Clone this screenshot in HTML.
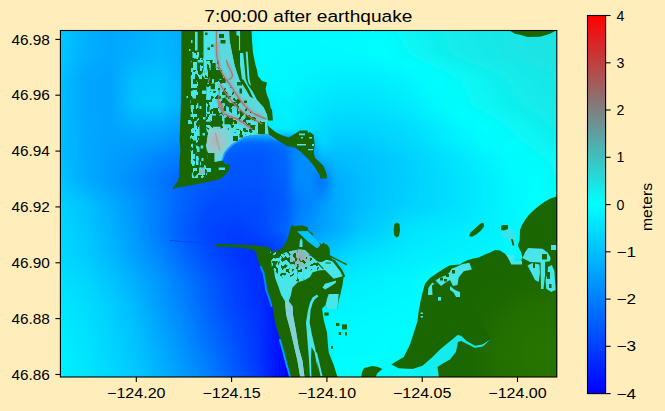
<!DOCTYPE html>
<html><head><meta charset="utf-8"><title>7:00:00 after earthquake</title>
<style>html,body{margin:0;padding:0;background:#ffeebb;overflow:hidden}svg{display:block}text{font-family:"Liberation Sans",sans-serif;fill:#000}</style></head><body>
<svg width="665" height="411" viewBox="0 0 665 411">
<rect width="665" height="411" fill="#ffeebb"/>
<defs>
<clipPath id="ax"><rect x="60.4" y="30.5" width="496.4" height="346.5"/></clipPath>
<filter id="bl" x="-5%" y="-5%" width="110%" height="110%"><feGaussianBlur stdDeviation="2.2"/></filter>
<filter id="bs" x="-5%" y="-5%" width="110%" height="110%"><feGaussianBlur stdDeviation="0.6"/></filter>
<linearGradient id="cb" x1="0" y1="0" x2="0" y2="1"><stop offset="0" stop-color="#ff0000"/><stop offset="0.5" stop-color="#00ffff"/><stop offset="1" stop-color="#0000ff"/></linearGradient>
<linearGradient id="w0" gradientUnits="userSpaceOnUse" x1="35" y1="0" x2="585" y2="0"><stop offset="0.0000" stop-color="#00c9ff"/><stop offset="0.0455" stop-color="#00c9ff"/><stop offset="0.0909" stop-color="#00b2ff"/><stop offset="0.1364" stop-color="#00a6ff"/><stop offset="0.1818" stop-color="#00acff"/><stop offset="0.2273" stop-color="#00b6ff"/><stop offset="0.2727" stop-color="#00acff"/><stop offset="0.3182" stop-color="#00ccff"/><stop offset="0.3636" stop-color="#00ecff"/><stop offset="0.4091" stop-color="#00faff"/><stop offset="0.4309" stop-color="#00faff"/><stop offset="0.4545" stop-color="#00faff"/><stop offset="0.4764" stop-color="#00faff"/><stop offset="0.4818" stop-color="#00faff"/><stop offset="0.5000" stop-color="#00faff"/><stop offset="0.5218" stop-color="#00fbff"/><stop offset="0.5455" stop-color="#00fbff"/><stop offset="0.5909" stop-color="#00fdff"/><stop offset="0.6364" stop-color="#03fcfc"/><stop offset="0.6818" stop-color="#0bf4f4"/><stop offset="0.7273" stop-color="#11eeee"/><stop offset="0.7727" stop-color="#15eaea"/><stop offset="0.8182" stop-color="#18e7e7"/><stop offset="0.8636" stop-color="#1ae5e5"/><stop offset="0.9091" stop-color="#1be4e4"/><stop offset="0.9545" stop-color="#1be4e4"/><stop offset="1.0000" stop-color="#1be4e4"/></linearGradient>
<linearGradient id="w1" gradientUnits="userSpaceOnUse" x1="35" y1="0" x2="585" y2="0"><stop offset="0.0000" stop-color="#00c9ff"/><stop offset="0.0455" stop-color="#00c9ff"/><stop offset="0.0909" stop-color="#00b2ff"/><stop offset="0.1364" stop-color="#00a6ff"/><stop offset="0.1818" stop-color="#00acff"/><stop offset="0.2273" stop-color="#00b6ff"/><stop offset="0.2727" stop-color="#00acff"/><stop offset="0.3182" stop-color="#00ccff"/><stop offset="0.3636" stop-color="#00ecff"/><stop offset="0.4091" stop-color="#00faff"/><stop offset="0.4309" stop-color="#00faff"/><stop offset="0.4545" stop-color="#00faff"/><stop offset="0.4764" stop-color="#00faff"/><stop offset="0.4818" stop-color="#00faff"/><stop offset="0.5000" stop-color="#00faff"/><stop offset="0.5218" stop-color="#00fbff"/><stop offset="0.5455" stop-color="#00fbff"/><stop offset="0.5909" stop-color="#00fdff"/><stop offset="0.6364" stop-color="#03fcfc"/><stop offset="0.6818" stop-color="#0bf4f4"/><stop offset="0.7273" stop-color="#11eeee"/><stop offset="0.7727" stop-color="#15eaea"/><stop offset="0.8182" stop-color="#18e7e7"/><stop offset="0.8636" stop-color="#1ae5e5"/><stop offset="0.9091" stop-color="#1be4e4"/><stop offset="0.9545" stop-color="#1be4e4"/><stop offset="1.0000" stop-color="#1be4e4"/></linearGradient>
<linearGradient id="w2" gradientUnits="userSpaceOnUse" x1="35" y1="0" x2="585" y2="0"><stop offset="0.0000" stop-color="#00c9ff"/><stop offset="0.0455" stop-color="#00c9ff"/><stop offset="0.0909" stop-color="#00b2ff"/><stop offset="0.1364" stop-color="#00a6ff"/><stop offset="0.1818" stop-color="#00acff"/><stop offset="0.2273" stop-color="#00b6ff"/><stop offset="0.2727" stop-color="#00acff"/><stop offset="0.3182" stop-color="#00ccff"/><stop offset="0.3636" stop-color="#00ecff"/><stop offset="0.4091" stop-color="#00faff"/><stop offset="0.4309" stop-color="#00faff"/><stop offset="0.4545" stop-color="#00faff"/><stop offset="0.4764" stop-color="#00faff"/><stop offset="0.4818" stop-color="#00faff"/><stop offset="0.5000" stop-color="#00faff"/><stop offset="0.5218" stop-color="#00fbff"/><stop offset="0.5455" stop-color="#00fbff"/><stop offset="0.5909" stop-color="#00fdff"/><stop offset="0.6364" stop-color="#03fcfc"/><stop offset="0.6818" stop-color="#0bf4f4"/><stop offset="0.7273" stop-color="#11eeee"/><stop offset="0.7727" stop-color="#15eaea"/><stop offset="0.8182" stop-color="#18e7e7"/><stop offset="0.8636" stop-color="#1ae5e5"/><stop offset="0.9091" stop-color="#1be4e4"/><stop offset="0.9545" stop-color="#1be4e4"/><stop offset="1.0000" stop-color="#1be4e4"/></linearGradient>
<linearGradient id="w3" gradientUnits="userSpaceOnUse" x1="35" y1="0" x2="585" y2="0"><stop offset="0.0000" stop-color="#00c9ff"/><stop offset="0.0455" stop-color="#00c9ff"/><stop offset="0.0909" stop-color="#00b2ff"/><stop offset="0.1364" stop-color="#00a6ff"/><stop offset="0.1818" stop-color="#00acff"/><stop offset="0.2273" stop-color="#00b6ff"/><stop offset="0.2727" stop-color="#00acff"/><stop offset="0.3182" stop-color="#00ccff"/><stop offset="0.3636" stop-color="#00ecff"/><stop offset="0.4091" stop-color="#00faff"/><stop offset="0.4309" stop-color="#00faff"/><stop offset="0.4545" stop-color="#00faff"/><stop offset="0.4764" stop-color="#00faff"/><stop offset="0.4818" stop-color="#00faff"/><stop offset="0.5000" stop-color="#00faff"/><stop offset="0.5218" stop-color="#00faff"/><stop offset="0.5455" stop-color="#00fbff"/><stop offset="0.5909" stop-color="#00fdff"/><stop offset="0.6364" stop-color="#03fcfc"/><stop offset="0.6818" stop-color="#0af5f5"/><stop offset="0.7273" stop-color="#10efef"/><stop offset="0.7727" stop-color="#15eaea"/><stop offset="0.8182" stop-color="#18e7e7"/><stop offset="0.8636" stop-color="#1ae5e5"/><stop offset="0.9091" stop-color="#1be4e4"/><stop offset="0.9545" stop-color="#1be4e4"/><stop offset="1.0000" stop-color="#1be4e4"/></linearGradient>
<linearGradient id="w4" gradientUnits="userSpaceOnUse" x1="35" y1="0" x2="585" y2="0"><stop offset="0.0000" stop-color="#00c8ff"/><stop offset="0.0455" stop-color="#00c8ff"/><stop offset="0.0909" stop-color="#00b2ff"/><stop offset="0.1364" stop-color="#00a6ff"/><stop offset="0.1818" stop-color="#00adff"/><stop offset="0.2273" stop-color="#00b6ff"/><stop offset="0.2727" stop-color="#00acff"/><stop offset="0.3182" stop-color="#00ccff"/><stop offset="0.3636" stop-color="#00ecff"/><stop offset="0.4091" stop-color="#00faff"/><stop offset="0.4309" stop-color="#00faff"/><stop offset="0.4545" stop-color="#00faff"/><stop offset="0.4764" stop-color="#00faff"/><stop offset="0.4818" stop-color="#00faff"/><stop offset="0.5000" stop-color="#00faff"/><stop offset="0.5218" stop-color="#00faff"/><stop offset="0.5455" stop-color="#00fbff"/><stop offset="0.5909" stop-color="#00fcff"/><stop offset="0.6364" stop-color="#03fcfc"/><stop offset="0.6818" stop-color="#0af5f5"/><stop offset="0.7273" stop-color="#10efef"/><stop offset="0.7727" stop-color="#15eaea"/><stop offset="0.8182" stop-color="#18e7e7"/><stop offset="0.8636" stop-color="#1ae5e5"/><stop offset="0.9091" stop-color="#1be4e4"/><stop offset="0.9545" stop-color="#1be4e4"/><stop offset="1.0000" stop-color="#1be4e4"/></linearGradient>
<linearGradient id="w5" gradientUnits="userSpaceOnUse" x1="35" y1="0" x2="585" y2="0"><stop offset="0.0000" stop-color="#00c8ff"/><stop offset="0.0455" stop-color="#00c8ff"/><stop offset="0.0909" stop-color="#00b1ff"/><stop offset="0.1364" stop-color="#00a6ff"/><stop offset="0.1818" stop-color="#00adff"/><stop offset="0.2273" stop-color="#00b7ff"/><stop offset="0.2727" stop-color="#00acff"/><stop offset="0.3182" stop-color="#00ccff"/><stop offset="0.3636" stop-color="#00ecff"/><stop offset="0.4091" stop-color="#00faff"/><stop offset="0.4309" stop-color="#00faff"/><stop offset="0.4545" stop-color="#00faff"/><stop offset="0.4764" stop-color="#00faff"/><stop offset="0.4818" stop-color="#00faff"/><stop offset="0.5000" stop-color="#00f9ff"/><stop offset="0.5218" stop-color="#00faff"/><stop offset="0.5455" stop-color="#00faff"/><stop offset="0.5909" stop-color="#00fcff"/><stop offset="0.6364" stop-color="#02fdfd"/><stop offset="0.6818" stop-color="#09f6f6"/><stop offset="0.7273" stop-color="#10efef"/><stop offset="0.7727" stop-color="#14ebeb"/><stop offset="0.8182" stop-color="#18e7e7"/><stop offset="0.8636" stop-color="#1ae5e5"/><stop offset="0.9091" stop-color="#1be4e4"/><stop offset="0.9545" stop-color="#1be4e4"/><stop offset="1.0000" stop-color="#1be4e4"/></linearGradient>
<linearGradient id="w6" gradientUnits="userSpaceOnUse" x1="35" y1="0" x2="585" y2="0"><stop offset="0.0000" stop-color="#00c7ff"/><stop offset="0.0455" stop-color="#00c7ff"/><stop offset="0.0909" stop-color="#00b1ff"/><stop offset="0.1364" stop-color="#00a6ff"/><stop offset="0.1818" stop-color="#00aeff"/><stop offset="0.2273" stop-color="#00b7ff"/><stop offset="0.2727" stop-color="#00acff"/><stop offset="0.3182" stop-color="#00ccff"/><stop offset="0.3636" stop-color="#00ecff"/><stop offset="0.4091" stop-color="#00faff"/><stop offset="0.4309" stop-color="#00faff"/><stop offset="0.4545" stop-color="#00faff"/><stop offset="0.4764" stop-color="#00f9ff"/><stop offset="0.4818" stop-color="#00f9ff"/><stop offset="0.5000" stop-color="#00f9ff"/><stop offset="0.5218" stop-color="#00faff"/><stop offset="0.5455" stop-color="#00faff"/><stop offset="0.5909" stop-color="#00fcff"/><stop offset="0.6364" stop-color="#02fdfd"/><stop offset="0.6818" stop-color="#09f6f6"/><stop offset="0.7273" stop-color="#0ff0f0"/><stop offset="0.7727" stop-color="#14ebeb"/><stop offset="0.8182" stop-color="#18e7e7"/><stop offset="0.8636" stop-color="#1ae5e5"/><stop offset="0.9091" stop-color="#1be4e4"/><stop offset="0.9545" stop-color="#1be4e4"/><stop offset="1.0000" stop-color="#1be4e4"/></linearGradient>
<linearGradient id="w7" gradientUnits="userSpaceOnUse" x1="35" y1="0" x2="585" y2="0"><stop offset="0.0000" stop-color="#00c7ff"/><stop offset="0.0455" stop-color="#00c7ff"/><stop offset="0.0909" stop-color="#00b1ff"/><stop offset="0.1364" stop-color="#00a6ff"/><stop offset="0.1818" stop-color="#00aeff"/><stop offset="0.2273" stop-color="#00b7ff"/><stop offset="0.2727" stop-color="#00acff"/><stop offset="0.3182" stop-color="#00ccff"/><stop offset="0.3636" stop-color="#00ecff"/><stop offset="0.4091" stop-color="#00faff"/><stop offset="0.4309" stop-color="#00faff"/><stop offset="0.4545" stop-color="#00faff"/><stop offset="0.4764" stop-color="#00f9ff"/><stop offset="0.4818" stop-color="#00f9ff"/><stop offset="0.5000" stop-color="#00f9ff"/><stop offset="0.5218" stop-color="#00f9ff"/><stop offset="0.5455" stop-color="#00faff"/><stop offset="0.5909" stop-color="#00fbff"/><stop offset="0.6364" stop-color="#01fefe"/><stop offset="0.6818" stop-color="#08f7f7"/><stop offset="0.7273" stop-color="#0ff0f0"/><stop offset="0.7727" stop-color="#14ebeb"/><stop offset="0.8182" stop-color="#18e7e7"/><stop offset="0.8636" stop-color="#1ae5e5"/><stop offset="0.9091" stop-color="#1be4e4"/><stop offset="0.9545" stop-color="#1be4e4"/><stop offset="1.0000" stop-color="#1be4e4"/></linearGradient>
<linearGradient id="w8" gradientUnits="userSpaceOnUse" x1="35" y1="0" x2="585" y2="0"><stop offset="0.0000" stop-color="#00c7ff"/><stop offset="0.0455" stop-color="#00c7ff"/><stop offset="0.0909" stop-color="#00b0ff"/><stop offset="0.1364" stop-color="#00a6ff"/><stop offset="0.1818" stop-color="#00aeff"/><stop offset="0.2273" stop-color="#00b8ff"/><stop offset="0.2727" stop-color="#00acff"/><stop offset="0.3182" stop-color="#00ccff"/><stop offset="0.3636" stop-color="#00ecff"/><stop offset="0.4091" stop-color="#00faff"/><stop offset="0.4309" stop-color="#00faff"/><stop offset="0.4545" stop-color="#00f9ff"/><stop offset="0.4764" stop-color="#00f9ff"/><stop offset="0.4818" stop-color="#00f9ff"/><stop offset="0.5000" stop-color="#00f9ff"/><stop offset="0.5218" stop-color="#00f9ff"/><stop offset="0.5455" stop-color="#00f9ff"/><stop offset="0.5909" stop-color="#00fbff"/><stop offset="0.6364" stop-color="#01fefe"/><stop offset="0.6818" stop-color="#08f7f7"/><stop offset="0.7273" stop-color="#0ff0f0"/><stop offset="0.7727" stop-color="#14ebeb"/><stop offset="0.8182" stop-color="#17e8e8"/><stop offset="0.8636" stop-color="#1ae5e5"/><stop offset="0.9091" stop-color="#1be4e4"/><stop offset="0.9545" stop-color="#1be4e4"/><stop offset="1.0000" stop-color="#1be4e4"/></linearGradient>
<linearGradient id="w9" gradientUnits="userSpaceOnUse" x1="35" y1="0" x2="585" y2="0"><stop offset="0.0000" stop-color="#00c6ff"/><stop offset="0.0455" stop-color="#00c6ff"/><stop offset="0.0909" stop-color="#00b0ff"/><stop offset="0.1364" stop-color="#00a6ff"/><stop offset="0.1818" stop-color="#00afff"/><stop offset="0.2273" stop-color="#00b8ff"/><stop offset="0.2727" stop-color="#00acff"/><stop offset="0.3182" stop-color="#00ccff"/><stop offset="0.3636" stop-color="#00ecff"/><stop offset="0.4091" stop-color="#00faff"/><stop offset="0.4309" stop-color="#00faff"/><stop offset="0.4545" stop-color="#00f9ff"/><stop offset="0.4764" stop-color="#00f9ff"/><stop offset="0.4818" stop-color="#00f9ff"/><stop offset="0.5000" stop-color="#00f9ff"/><stop offset="0.5218" stop-color="#00f9ff"/><stop offset="0.5455" stop-color="#00f9ff"/><stop offset="0.5909" stop-color="#00fbff"/><stop offset="0.6364" stop-color="#01fefe"/><stop offset="0.6818" stop-color="#07f8f8"/><stop offset="0.7273" stop-color="#0ff0f0"/><stop offset="0.7727" stop-color="#14ebeb"/><stop offset="0.8182" stop-color="#17e8e8"/><stop offset="0.8636" stop-color="#1ae5e5"/><stop offset="0.9091" stop-color="#1be4e4"/><stop offset="0.9545" stop-color="#1be4e4"/><stop offset="1.0000" stop-color="#1be4e4"/></linearGradient>
<linearGradient id="w10" gradientUnits="userSpaceOnUse" x1="35" y1="0" x2="585" y2="0"><stop offset="0.0000" stop-color="#00c6ff"/><stop offset="0.0455" stop-color="#00c6ff"/><stop offset="0.0909" stop-color="#00b0ff"/><stop offset="0.1364" stop-color="#00a6ff"/><stop offset="0.1818" stop-color="#00afff"/><stop offset="0.2273" stop-color="#00b9ff"/><stop offset="0.2727" stop-color="#00acff"/><stop offset="0.3182" stop-color="#00ccff"/><stop offset="0.3636" stop-color="#00ecff"/><stop offset="0.4091" stop-color="#00faff"/><stop offset="0.4309" stop-color="#00faff"/><stop offset="0.4545" stop-color="#00f9ff"/><stop offset="0.4764" stop-color="#00f9ff"/><stop offset="0.4818" stop-color="#00f9ff"/><stop offset="0.5000" stop-color="#00f9ff"/><stop offset="0.5218" stop-color="#00f9ff"/><stop offset="0.5455" stop-color="#00f9ff"/><stop offset="0.5909" stop-color="#00faff"/><stop offset="0.6364" stop-color="#00ffff"/><stop offset="0.6818" stop-color="#07f8f8"/><stop offset="0.7273" stop-color="#0ef1f1"/><stop offset="0.7727" stop-color="#13ecec"/><stop offset="0.8182" stop-color="#17e8e8"/><stop offset="0.8636" stop-color="#1ae5e5"/><stop offset="0.9091" stop-color="#1be4e4"/><stop offset="0.9545" stop-color="#1be4e4"/><stop offset="1.0000" stop-color="#1be4e4"/></linearGradient>
<linearGradient id="w11" gradientUnits="userSpaceOnUse" x1="35" y1="0" x2="585" y2="0"><stop offset="0.0000" stop-color="#00c5ff"/><stop offset="0.0455" stop-color="#00c5ff"/><stop offset="0.0909" stop-color="#00afff"/><stop offset="0.1364" stop-color="#00a6ff"/><stop offset="0.1818" stop-color="#00b0ff"/><stop offset="0.2273" stop-color="#00b9ff"/><stop offset="0.2727" stop-color="#00acff"/><stop offset="0.3182" stop-color="#00ccff"/><stop offset="0.3636" stop-color="#00ecff"/><stop offset="0.4091" stop-color="#00faff"/><stop offset="0.4309" stop-color="#00faff"/><stop offset="0.4545" stop-color="#00f9ff"/><stop offset="0.4764" stop-color="#00f9ff"/><stop offset="0.4818" stop-color="#00f9ff"/><stop offset="0.5000" stop-color="#00f8ff"/><stop offset="0.5218" stop-color="#00f8ff"/><stop offset="0.5455" stop-color="#00f8ff"/><stop offset="0.5909" stop-color="#00f9ff"/><stop offset="0.6364" stop-color="#00feff"/><stop offset="0.6818" stop-color="#06f9f9"/><stop offset="0.7273" stop-color="#0df2f2"/><stop offset="0.7727" stop-color="#13ecec"/><stop offset="0.8182" stop-color="#17e8e8"/><stop offset="0.8636" stop-color="#19e6e6"/><stop offset="0.9091" stop-color="#1be4e4"/><stop offset="0.9545" stop-color="#1be4e4"/><stop offset="1.0000" stop-color="#1be4e4"/></linearGradient>
<linearGradient id="w12" gradientUnits="userSpaceOnUse" x1="35" y1="0" x2="585" y2="0"><stop offset="0.0000" stop-color="#00c5ff"/><stop offset="0.0455" stop-color="#00c5ff"/><stop offset="0.0909" stop-color="#00aeff"/><stop offset="0.1364" stop-color="#00a5ff"/><stop offset="0.1818" stop-color="#00b2ff"/><stop offset="0.2273" stop-color="#00baff"/><stop offset="0.2727" stop-color="#00adff"/><stop offset="0.3182" stop-color="#00ccff"/><stop offset="0.3636" stop-color="#00ecff"/><stop offset="0.4091" stop-color="#00faff"/><stop offset="0.4309" stop-color="#00f9ff"/><stop offset="0.4545" stop-color="#00f9ff"/><stop offset="0.4764" stop-color="#00f8ff"/><stop offset="0.4818" stop-color="#00f8ff"/><stop offset="0.5000" stop-color="#00f8ff"/><stop offset="0.5218" stop-color="#00f7ff"/><stop offset="0.5455" stop-color="#00f7ff"/><stop offset="0.5909" stop-color="#00f8ff"/><stop offset="0.6364" stop-color="#00fcff"/><stop offset="0.6818" stop-color="#04fbfb"/><stop offset="0.7273" stop-color="#0cf3f3"/><stop offset="0.7727" stop-color="#11eeee"/><stop offset="0.8182" stop-color="#15eaea"/><stop offset="0.8636" stop-color="#18e7e7"/><stop offset="0.9091" stop-color="#1be4e4"/><stop offset="0.9545" stop-color="#1be4e4"/><stop offset="1.0000" stop-color="#1be4e4"/></linearGradient>
<linearGradient id="w13" gradientUnits="userSpaceOnUse" x1="35" y1="0" x2="585" y2="0"><stop offset="0.0000" stop-color="#00c4ff"/><stop offset="0.0455" stop-color="#00c4ff"/><stop offset="0.0909" stop-color="#00adff"/><stop offset="0.1364" stop-color="#00a5ff"/><stop offset="0.1818" stop-color="#00b4ff"/><stop offset="0.2273" stop-color="#00bcff"/><stop offset="0.2727" stop-color="#00adff"/><stop offset="0.3182" stop-color="#00ccff"/><stop offset="0.3636" stop-color="#00ecff"/><stop offset="0.4091" stop-color="#00faff"/><stop offset="0.4309" stop-color="#00f9ff"/><stop offset="0.4545" stop-color="#00f9ff"/><stop offset="0.4764" stop-color="#00f8ff"/><stop offset="0.4818" stop-color="#00f8ff"/><stop offset="0.5000" stop-color="#00f7ff"/><stop offset="0.5218" stop-color="#00f6ff"/><stop offset="0.5455" stop-color="#00f5ff"/><stop offset="0.5909" stop-color="#00f6ff"/><stop offset="0.6364" stop-color="#00fbff"/><stop offset="0.6818" stop-color="#02fdfd"/><stop offset="0.7273" stop-color="#0af5f5"/><stop offset="0.7727" stop-color="#10efef"/><stop offset="0.8182" stop-color="#14ebeb"/><stop offset="0.8636" stop-color="#17e8e8"/><stop offset="0.9091" stop-color="#1ae5e5"/><stop offset="0.9545" stop-color="#1be4e4"/><stop offset="1.0000" stop-color="#1be4e4"/></linearGradient>
<linearGradient id="w14" gradientUnits="userSpaceOnUse" x1="35" y1="0" x2="585" y2="0"><stop offset="0.0000" stop-color="#00c3ff"/><stop offset="0.0455" stop-color="#00c3ff"/><stop offset="0.0909" stop-color="#00abff"/><stop offset="0.1364" stop-color="#00a4ff"/><stop offset="0.1818" stop-color="#00b6ff"/><stop offset="0.2273" stop-color="#00bdff"/><stop offset="0.2727" stop-color="#00adff"/><stop offset="0.3182" stop-color="#00ccff"/><stop offset="0.3636" stop-color="#00ecff"/><stop offset="0.4091" stop-color="#00f9ff"/><stop offset="0.4309" stop-color="#00f9ff"/><stop offset="0.4545" stop-color="#00f8ff"/><stop offset="0.4764" stop-color="#00f7ff"/><stop offset="0.4818" stop-color="#00f7ff"/><stop offset="0.5000" stop-color="#00f6ff"/><stop offset="0.5218" stop-color="#00f5ff"/><stop offset="0.5455" stop-color="#00f4ff"/><stop offset="0.5909" stop-color="#00f4ff"/><stop offset="0.6364" stop-color="#00f9ff"/><stop offset="0.6818" stop-color="#00ffff"/><stop offset="0.7273" stop-color="#08f7f7"/><stop offset="0.7727" stop-color="#0ef1f1"/><stop offset="0.8182" stop-color="#13ecec"/><stop offset="0.8636" stop-color="#16e9e9"/><stop offset="0.9091" stop-color="#1ae5e5"/><stop offset="0.9545" stop-color="#1be4e4"/><stop offset="1.0000" stop-color="#1be4e4"/></linearGradient>
<linearGradient id="w15" gradientUnits="userSpaceOnUse" x1="35" y1="0" x2="585" y2="0"><stop offset="0.0000" stop-color="#00c2ff"/><stop offset="0.0455" stop-color="#00c2ff"/><stop offset="0.0909" stop-color="#00aaff"/><stop offset="0.1364" stop-color="#00a4ff"/><stop offset="0.1818" stop-color="#00b8ff"/><stop offset="0.2273" stop-color="#00beff"/><stop offset="0.2727" stop-color="#00aeff"/><stop offset="0.3182" stop-color="#00ccff"/><stop offset="0.3636" stop-color="#00ecff"/><stop offset="0.4091" stop-color="#00f9ff"/><stop offset="0.4309" stop-color="#00f9ff"/><stop offset="0.4545" stop-color="#00f8ff"/><stop offset="0.4764" stop-color="#00f7ff"/><stop offset="0.4818" stop-color="#00f6ff"/><stop offset="0.5000" stop-color="#00f5ff"/><stop offset="0.5218" stop-color="#00f4ff"/><stop offset="0.5455" stop-color="#00f3ff"/><stop offset="0.5909" stop-color="#00f3ff"/><stop offset="0.6364" stop-color="#00f7ff"/><stop offset="0.6818" stop-color="#00fdff"/><stop offset="0.7273" stop-color="#06f9f9"/><stop offset="0.7727" stop-color="#0cf3f3"/><stop offset="0.8182" stop-color="#12eded"/><stop offset="0.8636" stop-color="#16e9e9"/><stop offset="0.9091" stop-color="#19e6e6"/><stop offset="0.9545" stop-color="#1ae5e5"/><stop offset="1.0000" stop-color="#1ae5e5"/></linearGradient>
<linearGradient id="w16" gradientUnits="userSpaceOnUse" x1="35" y1="0" x2="585" y2="0"><stop offset="0.0000" stop-color="#00c2ff"/><stop offset="0.0455" stop-color="#00c2ff"/><stop offset="0.0909" stop-color="#00a9ff"/><stop offset="0.1364" stop-color="#00a4ff"/><stop offset="0.1818" stop-color="#00baff"/><stop offset="0.2273" stop-color="#00bfff"/><stop offset="0.2727" stop-color="#00aeff"/><stop offset="0.3182" stop-color="#00ccff"/><stop offset="0.3636" stop-color="#00ecff"/><stop offset="0.4091" stop-color="#00f9ff"/><stop offset="0.4309" stop-color="#00f9ff"/><stop offset="0.4545" stop-color="#00f8ff"/><stop offset="0.4764" stop-color="#00f6ff"/><stop offset="0.4818" stop-color="#00f6ff"/><stop offset="0.5000" stop-color="#00f5ff"/><stop offset="0.5218" stop-color="#00f3ff"/><stop offset="0.5455" stop-color="#00f1ff"/><stop offset="0.5909" stop-color="#00f1ff"/><stop offset="0.6364" stop-color="#00f5ff"/><stop offset="0.6818" stop-color="#00fbff"/><stop offset="0.7273" stop-color="#04fbfb"/><stop offset="0.7727" stop-color="#0bf4f4"/><stop offset="0.8182" stop-color="#10efef"/><stop offset="0.8636" stop-color="#15eaea"/><stop offset="0.9091" stop-color="#19e6e6"/><stop offset="0.9545" stop-color="#1ae5e5"/><stop offset="1.0000" stop-color="#1ae5e5"/></linearGradient>
<linearGradient id="w17" gradientUnits="userSpaceOnUse" x1="35" y1="0" x2="585" y2="0"><stop offset="0.0000" stop-color="#00c1ff"/><stop offset="0.0455" stop-color="#00c1ff"/><stop offset="0.0909" stop-color="#00a8ff"/><stop offset="0.1364" stop-color="#00a3ff"/><stop offset="0.1818" stop-color="#00bbff"/><stop offset="0.2273" stop-color="#00c0ff"/><stop offset="0.2727" stop-color="#00afff"/><stop offset="0.3182" stop-color="#00ccff"/><stop offset="0.3636" stop-color="#00ecff"/><stop offset="0.4091" stop-color="#00f9ff"/><stop offset="0.4309" stop-color="#00f8ff"/><stop offset="0.4545" stop-color="#00f8ff"/><stop offset="0.4764" stop-color="#00f6ff"/><stop offset="0.4818" stop-color="#00f5ff"/><stop offset="0.5000" stop-color="#00f4ff"/><stop offset="0.5218" stop-color="#00f2ff"/><stop offset="0.5455" stop-color="#00f0ff"/><stop offset="0.5909" stop-color="#00efff"/><stop offset="0.6364" stop-color="#00f3ff"/><stop offset="0.6818" stop-color="#00f9ff"/><stop offset="0.7273" stop-color="#02fdfd"/><stop offset="0.7727" stop-color="#09f6f6"/><stop offset="0.8182" stop-color="#0ff0f0"/><stop offset="0.8636" stop-color="#14ebeb"/><stop offset="0.9091" stop-color="#18e7e7"/><stop offset="0.9545" stop-color="#1ae5e5"/><stop offset="1.0000" stop-color="#1ae5e5"/></linearGradient>
<linearGradient id="w18" gradientUnits="userSpaceOnUse" x1="35" y1="0" x2="585" y2="0"><stop offset="0.0000" stop-color="#00c0ff"/><stop offset="0.0455" stop-color="#00c0ff"/><stop offset="0.0909" stop-color="#00a7ff"/><stop offset="0.1364" stop-color="#00a3ff"/><stop offset="0.1818" stop-color="#00bdff"/><stop offset="0.2273" stop-color="#00c1ff"/><stop offset="0.2727" stop-color="#00afff"/><stop offset="0.3182" stop-color="#00ccff"/><stop offset="0.3636" stop-color="#00ecff"/><stop offset="0.4091" stop-color="#00f9ff"/><stop offset="0.4309" stop-color="#00f8ff"/><stop offset="0.4545" stop-color="#00f8ff"/><stop offset="0.4764" stop-color="#00f5ff"/><stop offset="0.4818" stop-color="#00f5ff"/><stop offset="0.5000" stop-color="#00f3ff"/><stop offset="0.5218" stop-color="#00f1ff"/><stop offset="0.5455" stop-color="#00efff"/><stop offset="0.5909" stop-color="#00eeff"/><stop offset="0.6364" stop-color="#00f1ff"/><stop offset="0.6818" stop-color="#00f7ff"/><stop offset="0.7273" stop-color="#01fefe"/><stop offset="0.7727" stop-color="#08f7f7"/><stop offset="0.8182" stop-color="#0ef1f1"/><stop offset="0.8636" stop-color="#13ecec"/><stop offset="0.9091" stop-color="#17e8e8"/><stop offset="0.9545" stop-color="#1ae5e5"/><stop offset="1.0000" stop-color="#1ae5e5"/></linearGradient>
<linearGradient id="w19" gradientUnits="userSpaceOnUse" x1="35" y1="0" x2="585" y2="0"><stop offset="0.0000" stop-color="#00bfff"/><stop offset="0.0455" stop-color="#00bfff"/><stop offset="0.0909" stop-color="#00a6ff"/><stop offset="0.1364" stop-color="#00a3ff"/><stop offset="0.1818" stop-color="#00bfff"/><stop offset="0.2273" stop-color="#00c2ff"/><stop offset="0.2727" stop-color="#00afff"/><stop offset="0.3182" stop-color="#00ccff"/><stop offset="0.3636" stop-color="#00ecff"/><stop offset="0.4091" stop-color="#00f9ff"/><stop offset="0.4309" stop-color="#00f8ff"/><stop offset="0.4545" stop-color="#00f7ff"/><stop offset="0.4764" stop-color="#00f5ff"/><stop offset="0.4818" stop-color="#00f4ff"/><stop offset="0.5000" stop-color="#00f2ff"/><stop offset="0.5218" stop-color="#00f0ff"/><stop offset="0.5455" stop-color="#00edff"/><stop offset="0.5909" stop-color="#00ecff"/><stop offset="0.6364" stop-color="#00efff"/><stop offset="0.6818" stop-color="#00f5ff"/><stop offset="0.7273" stop-color="#00feff"/><stop offset="0.7727" stop-color="#06f9f9"/><stop offset="0.8182" stop-color="#0df2f2"/><stop offset="0.8636" stop-color="#12eded"/><stop offset="0.9091" stop-color="#17e8e8"/><stop offset="0.9545" stop-color="#1ae6e6"/><stop offset="1.0000" stop-color="#1ae6e6"/></linearGradient>
<linearGradient id="w20" gradientUnits="userSpaceOnUse" x1="35" y1="0" x2="585" y2="0"><stop offset="0.0000" stop-color="#00bfff"/><stop offset="0.0455" stop-color="#00bfff"/><stop offset="0.0909" stop-color="#00a6ff"/><stop offset="0.1364" stop-color="#00a3ff"/><stop offset="0.1818" stop-color="#00c0ff"/><stop offset="0.2273" stop-color="#00c3ff"/><stop offset="0.2727" stop-color="#00afff"/><stop offset="0.3182" stop-color="#00ccff"/><stop offset="0.3636" stop-color="#00ecff"/><stop offset="0.4091" stop-color="#00f7ff"/><stop offset="0.4309" stop-color="#00f7ff"/><stop offset="0.4545" stop-color="#00f7ff"/><stop offset="0.4764" stop-color="#00f4ff"/><stop offset="0.4818" stop-color="#00f3ff"/><stop offset="0.5000" stop-color="#00f1ff"/><stop offset="0.5218" stop-color="#00efff"/><stop offset="0.5455" stop-color="#00ecff"/><stop offset="0.5909" stop-color="#00eaff"/><stop offset="0.6364" stop-color="#00eeff"/><stop offset="0.6818" stop-color="#00f4ff"/><stop offset="0.7273" stop-color="#00fdff"/><stop offset="0.7727" stop-color="#06f9f9"/><stop offset="0.8182" stop-color="#0cf3f3"/><stop offset="0.8636" stop-color="#12eded"/><stop offset="0.9091" stop-color="#16e9e9"/><stop offset="0.9545" stop-color="#19e6e6"/><stop offset="1.0000" stop-color="#19e6e6"/></linearGradient>
<linearGradient id="w21" gradientUnits="userSpaceOnUse" x1="35" y1="0" x2="585" y2="0"><stop offset="0.0000" stop-color="#00bfff"/><stop offset="0.0455" stop-color="#00bfff"/><stop offset="0.0909" stop-color="#00a6ff"/><stop offset="0.1364" stop-color="#00a3ff"/><stop offset="0.1818" stop-color="#00c0ff"/><stop offset="0.2273" stop-color="#00c3ff"/><stop offset="0.2727" stop-color="#00afff"/><stop offset="0.3182" stop-color="#00ccff"/><stop offset="0.3636" stop-color="#00ecff"/><stop offset="0.4091" stop-color="#00f6ff"/><stop offset="0.4309" stop-color="#00f6ff"/><stop offset="0.4545" stop-color="#00f6ff"/><stop offset="0.4764" stop-color="#00f3ff"/><stop offset="0.4818" stop-color="#00f2ff"/><stop offset="0.5000" stop-color="#00f0ff"/><stop offset="0.5218" stop-color="#00edff"/><stop offset="0.5455" stop-color="#00ebff"/><stop offset="0.5909" stop-color="#00e9ff"/><stop offset="0.6364" stop-color="#00ecff"/><stop offset="0.6818" stop-color="#00f3ff"/><stop offset="0.7273" stop-color="#00fdff"/><stop offset="0.7727" stop-color="#06f9f9"/><stop offset="0.8182" stop-color="#0cf3f3"/><stop offset="0.8636" stop-color="#11eeee"/><stop offset="0.9091" stop-color="#16e9e9"/><stop offset="0.9545" stop-color="#19e6e6"/><stop offset="1.0000" stop-color="#19e6e6"/></linearGradient>
<linearGradient id="w22" gradientUnits="userSpaceOnUse" x1="35" y1="0" x2="585" y2="0"><stop offset="0.0000" stop-color="#00bfff"/><stop offset="0.0455" stop-color="#00bfff"/><stop offset="0.0909" stop-color="#00a6ff"/><stop offset="0.1364" stop-color="#00a3ff"/><stop offset="0.1818" stop-color="#00c0ff"/><stop offset="0.2273" stop-color="#00c4ff"/><stop offset="0.2727" stop-color="#00afff"/><stop offset="0.3182" stop-color="#00ccff"/><stop offset="0.3636" stop-color="#00ecff"/><stop offset="0.4091" stop-color="#00f4ff"/><stop offset="0.4309" stop-color="#00f5ff"/><stop offset="0.4545" stop-color="#00f6ff"/><stop offset="0.4764" stop-color="#00f2ff"/><stop offset="0.4818" stop-color="#00f1ff"/><stop offset="0.5000" stop-color="#00efff"/><stop offset="0.5218" stop-color="#00ecff"/><stop offset="0.5455" stop-color="#00e9ff"/><stop offset="0.5909" stop-color="#00e8ff"/><stop offset="0.6364" stop-color="#00ebff"/><stop offset="0.6818" stop-color="#00f2ff"/><stop offset="0.7273" stop-color="#00fcff"/><stop offset="0.7727" stop-color="#05fafa"/><stop offset="0.8182" stop-color="#0cf3f3"/><stop offset="0.8636" stop-color="#11eeee"/><stop offset="0.9091" stop-color="#16e9e9"/><stop offset="0.9545" stop-color="#18e7e7"/><stop offset="1.0000" stop-color="#18e7e7"/></linearGradient>
<linearGradient id="w23" gradientUnits="userSpaceOnUse" x1="35" y1="0" x2="585" y2="0"><stop offset="0.0000" stop-color="#00bfff"/><stop offset="0.0455" stop-color="#00bfff"/><stop offset="0.0909" stop-color="#00a6ff"/><stop offset="0.1364" stop-color="#00a3ff"/><stop offset="0.1818" stop-color="#00c1ff"/><stop offset="0.2273" stop-color="#00c4ff"/><stop offset="0.2727" stop-color="#00afff"/><stop offset="0.3182" stop-color="#00ccff"/><stop offset="0.3636" stop-color="#00ecff"/><stop offset="0.4091" stop-color="#00f3ff"/><stop offset="0.4309" stop-color="#00f4ff"/><stop offset="0.4545" stop-color="#00f5ff"/><stop offset="0.4764" stop-color="#00f1ff"/><stop offset="0.4818" stop-color="#00f1ff"/><stop offset="0.5000" stop-color="#00eeff"/><stop offset="0.5218" stop-color="#00ebff"/><stop offset="0.5455" stop-color="#00e8ff"/><stop offset="0.5909" stop-color="#00e6ff"/><stop offset="0.6364" stop-color="#00eaff"/><stop offset="0.6818" stop-color="#00f1ff"/><stop offset="0.7273" stop-color="#00fbff"/><stop offset="0.7727" stop-color="#05fafa"/><stop offset="0.8182" stop-color="#0bf4f4"/><stop offset="0.8636" stop-color="#11eeee"/><stop offset="0.9091" stop-color="#15eaea"/><stop offset="0.9545" stop-color="#18e7e7"/><stop offset="1.0000" stop-color="#18e7e7"/></linearGradient>
<linearGradient id="w24" gradientUnits="userSpaceOnUse" x1="35" y1="0" x2="585" y2="0"><stop offset="0.0000" stop-color="#00bfff"/><stop offset="0.0455" stop-color="#00bfff"/><stop offset="0.0909" stop-color="#00a6ff"/><stop offset="0.1364" stop-color="#00a3ff"/><stop offset="0.1818" stop-color="#00c1ff"/><stop offset="0.2273" stop-color="#00c4ff"/><stop offset="0.2727" stop-color="#00afff"/><stop offset="0.3182" stop-color="#00ccff"/><stop offset="0.3636" stop-color="#00ecff"/><stop offset="0.4091" stop-color="#00f1ff"/><stop offset="0.4309" stop-color="#00f3ff"/><stop offset="0.4545" stop-color="#00f4ff"/><stop offset="0.4764" stop-color="#00f1ff"/><stop offset="0.4818" stop-color="#00f0ff"/><stop offset="0.5000" stop-color="#00edff"/><stop offset="0.5218" stop-color="#00eaff"/><stop offset="0.5455" stop-color="#00e7ff"/><stop offset="0.5909" stop-color="#00e5ff"/><stop offset="0.6364" stop-color="#00e9ff"/><stop offset="0.6818" stop-color="#00f0ff"/><stop offset="0.7273" stop-color="#00fbff"/><stop offset="0.7727" stop-color="#04fbfb"/><stop offset="0.8182" stop-color="#0bf4f4"/><stop offset="0.8636" stop-color="#11eeee"/><stop offset="0.9091" stop-color="#15eaea"/><stop offset="0.9545" stop-color="#18e7e7"/><stop offset="1.0000" stop-color="#18e7e7"/></linearGradient>
<linearGradient id="w25" gradientUnits="userSpaceOnUse" x1="35" y1="0" x2="585" y2="0"><stop offset="0.0000" stop-color="#00bfff"/><stop offset="0.0455" stop-color="#00bfff"/><stop offset="0.0909" stop-color="#00a6ff"/><stop offset="0.1364" stop-color="#00a3ff"/><stop offset="0.1818" stop-color="#00c2ff"/><stop offset="0.2273" stop-color="#00c5ff"/><stop offset="0.2727" stop-color="#00afff"/><stop offset="0.3182" stop-color="#00ccff"/><stop offset="0.3636" stop-color="#00ecff"/><stop offset="0.4091" stop-color="#00efff"/><stop offset="0.4309" stop-color="#00f1ff"/><stop offset="0.4545" stop-color="#00f4ff"/><stop offset="0.4764" stop-color="#00f0ff"/><stop offset="0.4818" stop-color="#00efff"/><stop offset="0.5000" stop-color="#00ebff"/><stop offset="0.5218" stop-color="#00e8ff"/><stop offset="0.5455" stop-color="#00e5ff"/><stop offset="0.5909" stop-color="#00e4ff"/><stop offset="0.6364" stop-color="#00e7ff"/><stop offset="0.6818" stop-color="#00efff"/><stop offset="0.7273" stop-color="#00faff"/><stop offset="0.7727" stop-color="#04fbfb"/><stop offset="0.8182" stop-color="#0af5f5"/><stop offset="0.8636" stop-color="#10efef"/><stop offset="0.9091" stop-color="#14ebeb"/><stop offset="0.9545" stop-color="#17e8e8"/><stop offset="1.0000" stop-color="#17e8e8"/></linearGradient>
<linearGradient id="w26" gradientUnits="userSpaceOnUse" x1="35" y1="0" x2="585" y2="0"><stop offset="0.0000" stop-color="#00bfff"/><stop offset="0.0455" stop-color="#00bfff"/><stop offset="0.0909" stop-color="#00a6ff"/><stop offset="0.1364" stop-color="#00a3ff"/><stop offset="0.1818" stop-color="#00c2ff"/><stop offset="0.2273" stop-color="#00c5ff"/><stop offset="0.2727" stop-color="#00afff"/><stop offset="0.3182" stop-color="#00ccff"/><stop offset="0.3636" stop-color="#00ecff"/><stop offset="0.4091" stop-color="#00eeff"/><stop offset="0.4309" stop-color="#00f0ff"/><stop offset="0.4545" stop-color="#00f3ff"/><stop offset="0.4764" stop-color="#00efff"/><stop offset="0.4818" stop-color="#00eeff"/><stop offset="0.5000" stop-color="#00eaff"/><stop offset="0.5218" stop-color="#00e7ff"/><stop offset="0.5455" stop-color="#00e4ff"/><stop offset="0.5909" stop-color="#00e2ff"/><stop offset="0.6364" stop-color="#00e6ff"/><stop offset="0.6818" stop-color="#00edff"/><stop offset="0.7273" stop-color="#00f9ff"/><stop offset="0.7727" stop-color="#04fbfb"/><stop offset="0.8182" stop-color="#0af5f5"/><stop offset="0.8636" stop-color="#10efef"/><stop offset="0.9091" stop-color="#14ebeb"/><stop offset="0.9545" stop-color="#17e8e8"/><stop offset="1.0000" stop-color="#17e8e8"/></linearGradient>
<linearGradient id="w27" gradientUnits="userSpaceOnUse" x1="35" y1="0" x2="585" y2="0"><stop offset="0.0000" stop-color="#00bfff"/><stop offset="0.0455" stop-color="#00bfff"/><stop offset="0.0909" stop-color="#00a6ff"/><stop offset="0.1364" stop-color="#00a3ff"/><stop offset="0.1818" stop-color="#00c2ff"/><stop offset="0.2273" stop-color="#00c5ff"/><stop offset="0.2727" stop-color="#00afff"/><stop offset="0.3182" stop-color="#00ccff"/><stop offset="0.3636" stop-color="#00ecff"/><stop offset="0.4091" stop-color="#00ecff"/><stop offset="0.4309" stop-color="#00efff"/><stop offset="0.4545" stop-color="#00f2ff"/><stop offset="0.4764" stop-color="#00eeff"/><stop offset="0.4818" stop-color="#00edff"/><stop offset="0.5000" stop-color="#00e9ff"/><stop offset="0.5218" stop-color="#00e6ff"/><stop offset="0.5455" stop-color="#00e3ff"/><stop offset="0.5909" stop-color="#00e1ff"/><stop offset="0.6364" stop-color="#00e5ff"/><stop offset="0.6818" stop-color="#00ecff"/><stop offset="0.7273" stop-color="#00f9ff"/><stop offset="0.7727" stop-color="#03fcfc"/><stop offset="0.8182" stop-color="#0af5f5"/><stop offset="0.8636" stop-color="#10efef"/><stop offset="0.9091" stop-color="#13ecec"/><stop offset="0.9545" stop-color="#16e9e9"/><stop offset="1.0000" stop-color="#16e9e9"/></linearGradient>
<linearGradient id="w28" gradientUnits="userSpaceOnUse" x1="35" y1="0" x2="585" y2="0"><stop offset="0.0000" stop-color="#00bfff"/><stop offset="0.0455" stop-color="#00bfff"/><stop offset="0.0909" stop-color="#00a6ff"/><stop offset="0.1364" stop-color="#00a3ff"/><stop offset="0.1818" stop-color="#00c0ff"/><stop offset="0.2273" stop-color="#00c3ff"/><stop offset="0.2727" stop-color="#00adff"/><stop offset="0.3182" stop-color="#00cbff"/><stop offset="0.3636" stop-color="#00ebff"/><stop offset="0.4091" stop-color="#00ecff"/><stop offset="0.4309" stop-color="#00efff"/><stop offset="0.4545" stop-color="#00f2ff"/><stop offset="0.4764" stop-color="#00edff"/><stop offset="0.4818" stop-color="#00ecff"/><stop offset="0.5000" stop-color="#00e8ff"/><stop offset="0.5218" stop-color="#00e5ff"/><stop offset="0.5455" stop-color="#00e1ff"/><stop offset="0.5909" stop-color="#00dfff"/><stop offset="0.6364" stop-color="#00e3ff"/><stop offset="0.6818" stop-color="#00ebff"/><stop offset="0.7273" stop-color="#00f7ff"/><stop offset="0.7727" stop-color="#02fdfd"/><stop offset="0.8182" stop-color="#09f6f6"/><stop offset="0.8636" stop-color="#0ff0f0"/><stop offset="0.9091" stop-color="#13ecec"/><stop offset="0.9545" stop-color="#16e9e9"/><stop offset="1.0000" stop-color="#16e9e9"/></linearGradient>
<linearGradient id="w29" gradientUnits="userSpaceOnUse" x1="35" y1="0" x2="585" y2="0"><stop offset="0.0000" stop-color="#00bfff"/><stop offset="0.0455" stop-color="#00bfff"/><stop offset="0.0909" stop-color="#00a6ff"/><stop offset="0.1364" stop-color="#00a3ff"/><stop offset="0.1818" stop-color="#00bdff"/><stop offset="0.2273" stop-color="#00bfff"/><stop offset="0.2727" stop-color="#00abff"/><stop offset="0.3182" stop-color="#00c9ff"/><stop offset="0.3636" stop-color="#00e9ff"/><stop offset="0.4091" stop-color="#00ecff"/><stop offset="0.4309" stop-color="#00efff"/><stop offset="0.4545" stop-color="#00f2ff"/><stop offset="0.4764" stop-color="#00edff"/><stop offset="0.4818" stop-color="#00ebff"/><stop offset="0.5000" stop-color="#00e7ff"/><stop offset="0.5218" stop-color="#00e3ff"/><stop offset="0.5455" stop-color="#00dfff"/><stop offset="0.5909" stop-color="#00deff"/><stop offset="0.6364" stop-color="#00e1ff"/><stop offset="0.6818" stop-color="#00e9ff"/><stop offset="0.7273" stop-color="#00f5ff"/><stop offset="0.7727" stop-color="#01fefe"/><stop offset="0.8182" stop-color="#07f8f8"/><stop offset="0.8636" stop-color="#0ef1f1"/><stop offset="0.9091" stop-color="#12eded"/><stop offset="0.9545" stop-color="#16e9e9"/><stop offset="1.0000" stop-color="#16e9e9"/></linearGradient>
<linearGradient id="w30" gradientUnits="userSpaceOnUse" x1="35" y1="0" x2="585" y2="0"><stop offset="0.0000" stop-color="#00bfff"/><stop offset="0.0455" stop-color="#00bfff"/><stop offset="0.0909" stop-color="#00a7ff"/><stop offset="0.1364" stop-color="#00a3ff"/><stop offset="0.1818" stop-color="#00baff"/><stop offset="0.2273" stop-color="#00bbff"/><stop offset="0.2727" stop-color="#00a8ff"/><stop offset="0.3182" stop-color="#00c8ff"/><stop offset="0.3636" stop-color="#00e8ff"/><stop offset="0.4091" stop-color="#00ecff"/><stop offset="0.4309" stop-color="#00eeff"/><stop offset="0.4545" stop-color="#00f1ff"/><stop offset="0.4764" stop-color="#00ecff"/><stop offset="0.4818" stop-color="#00ebff"/><stop offset="0.5000" stop-color="#00e7ff"/><stop offset="0.5218" stop-color="#00e2ff"/><stop offset="0.5455" stop-color="#00ddff"/><stop offset="0.5909" stop-color="#00dcff"/><stop offset="0.6364" stop-color="#00e0ff"/><stop offset="0.6818" stop-color="#00e7ff"/><stop offset="0.7273" stop-color="#00f4ff"/><stop offset="0.7727" stop-color="#00feff"/><stop offset="0.8182" stop-color="#06f9f9"/><stop offset="0.8636" stop-color="#0df2f2"/><stop offset="0.9091" stop-color="#11eeee"/><stop offset="0.9545" stop-color="#15eaea"/><stop offset="1.0000" stop-color="#15eaea"/></linearGradient>
<linearGradient id="w31" gradientUnits="userSpaceOnUse" x1="35" y1="0" x2="585" y2="0"><stop offset="0.0000" stop-color="#00bfff"/><stop offset="0.0455" stop-color="#00bfff"/><stop offset="0.0909" stop-color="#00a7ff"/><stop offset="0.1364" stop-color="#00a3ff"/><stop offset="0.1818" stop-color="#00b7ff"/><stop offset="0.2273" stop-color="#00b7ff"/><stop offset="0.2727" stop-color="#00a5ff"/><stop offset="0.3182" stop-color="#00c6ff"/><stop offset="0.3636" stop-color="#00e6ff"/><stop offset="0.4091" stop-color="#00ecff"/><stop offset="0.4309" stop-color="#00eeff"/><stop offset="0.4545" stop-color="#00f1ff"/><stop offset="0.4764" stop-color="#00ecff"/><stop offset="0.4818" stop-color="#00eaff"/><stop offset="0.5000" stop-color="#00e6ff"/><stop offset="0.5218" stop-color="#00e1ff"/><stop offset="0.5455" stop-color="#00dbff"/><stop offset="0.5909" stop-color="#00daff"/><stop offset="0.6364" stop-color="#00deff"/><stop offset="0.6818" stop-color="#00e5ff"/><stop offset="0.7273" stop-color="#00f2ff"/><stop offset="0.7727" stop-color="#00fdff"/><stop offset="0.8182" stop-color="#05fafa"/><stop offset="0.8636" stop-color="#0cf3f3"/><stop offset="0.9091" stop-color="#10efef"/><stop offset="0.9545" stop-color="#15eaea"/><stop offset="1.0000" stop-color="#15eaea"/></linearGradient>
<linearGradient id="w32" gradientUnits="userSpaceOnUse" x1="35" y1="0" x2="585" y2="0"><stop offset="0.0000" stop-color="#00bfff"/><stop offset="0.0455" stop-color="#00bfff"/><stop offset="0.0909" stop-color="#00a8ff"/><stop offset="0.1364" stop-color="#00a3ff"/><stop offset="0.1818" stop-color="#00b4ff"/><stop offset="0.2273" stop-color="#00b3ff"/><stop offset="0.2727" stop-color="#00a2ff"/><stop offset="0.3182" stop-color="#00c5ff"/><stop offset="0.3636" stop-color="#00e5ff"/><stop offset="0.4091" stop-color="#00ecff"/><stop offset="0.4309" stop-color="#00eeff"/><stop offset="0.4545" stop-color="#00f0ff"/><stop offset="0.4764" stop-color="#00ebff"/><stop offset="0.4818" stop-color="#00eaff"/><stop offset="0.5000" stop-color="#00e5ff"/><stop offset="0.5218" stop-color="#00dfff"/><stop offset="0.5455" stop-color="#00d9ff"/><stop offset="0.5909" stop-color="#00d9ff"/><stop offset="0.6364" stop-color="#00dcff"/><stop offset="0.6818" stop-color="#00e3ff"/><stop offset="0.7273" stop-color="#00f0ff"/><stop offset="0.7727" stop-color="#00fbff"/><stop offset="0.8182" stop-color="#03fcfc"/><stop offset="0.8636" stop-color="#0bf4f4"/><stop offset="0.9091" stop-color="#10efef"/><stop offset="0.9545" stop-color="#15eaea"/><stop offset="1.0000" stop-color="#15eaea"/></linearGradient>
<linearGradient id="w33" gradientUnits="userSpaceOnUse" x1="35" y1="0" x2="585" y2="0"><stop offset="0.0000" stop-color="#00bfff"/><stop offset="0.0455" stop-color="#00bfff"/><stop offset="0.0909" stop-color="#00a8ff"/><stop offset="0.1364" stop-color="#00a3ff"/><stop offset="0.1818" stop-color="#00b1ff"/><stop offset="0.2273" stop-color="#00afff"/><stop offset="0.2727" stop-color="#009fff"/><stop offset="0.3182" stop-color="#00c3ff"/><stop offset="0.3636" stop-color="#00e3ff"/><stop offset="0.4091" stop-color="#00ecff"/><stop offset="0.4309" stop-color="#00eeff"/><stop offset="0.4545" stop-color="#00f0ff"/><stop offset="0.4764" stop-color="#00eaff"/><stop offset="0.4818" stop-color="#00e9ff"/><stop offset="0.5000" stop-color="#00e4ff"/><stop offset="0.5218" stop-color="#00deff"/><stop offset="0.5455" stop-color="#00d7ff"/><stop offset="0.5909" stop-color="#00d7ff"/><stop offset="0.6364" stop-color="#00daff"/><stop offset="0.6818" stop-color="#00e1ff"/><stop offset="0.7273" stop-color="#00eeff"/><stop offset="0.7727" stop-color="#00faff"/><stop offset="0.8182" stop-color="#02fdfd"/><stop offset="0.8636" stop-color="#09f6f6"/><stop offset="0.9091" stop-color="#0ff0f0"/><stop offset="0.9545" stop-color="#14ebeb"/><stop offset="1.0000" stop-color="#14ebeb"/></linearGradient>
<linearGradient id="w34" gradientUnits="userSpaceOnUse" x1="35" y1="0" x2="585" y2="0"><stop offset="0.0000" stop-color="#00bfff"/><stop offset="0.0455" stop-color="#00bfff"/><stop offset="0.0909" stop-color="#00a8ff"/><stop offset="0.1364" stop-color="#00a3ff"/><stop offset="0.1818" stop-color="#00aeff"/><stop offset="0.2273" stop-color="#00abff"/><stop offset="0.2727" stop-color="#009cff"/><stop offset="0.3182" stop-color="#00c2ff"/><stop offset="0.3636" stop-color="#00e2ff"/><stop offset="0.4091" stop-color="#00ecff"/><stop offset="0.4309" stop-color="#00eeff"/><stop offset="0.4545" stop-color="#00f0ff"/><stop offset="0.4764" stop-color="#00eaff"/><stop offset="0.4818" stop-color="#00e8ff"/><stop offset="0.5000" stop-color="#00e4ff"/><stop offset="0.5218" stop-color="#00ddff"/><stop offset="0.5455" stop-color="#00d6ff"/><stop offset="0.5909" stop-color="#00d5ff"/><stop offset="0.6364" stop-color="#00d8ff"/><stop offset="0.6818" stop-color="#00dfff"/><stop offset="0.7273" stop-color="#00ecff"/><stop offset="0.7727" stop-color="#00f8ff"/><stop offset="0.8182" stop-color="#00ffff"/><stop offset="0.8636" stop-color="#08f7f7"/><stop offset="0.9091" stop-color="#0ef1f1"/><stop offset="0.9545" stop-color="#14ebeb"/><stop offset="1.0000" stop-color="#14ebeb"/></linearGradient>
<linearGradient id="w35" gradientUnits="userSpaceOnUse" x1="35" y1="0" x2="585" y2="0"><stop offset="0.0000" stop-color="#00bfff"/><stop offset="0.0455" stop-color="#00bfff"/><stop offset="0.0909" stop-color="#00a9ff"/><stop offset="0.1364" stop-color="#00a3ff"/><stop offset="0.1818" stop-color="#00abff"/><stop offset="0.2273" stop-color="#00a7ff"/><stop offset="0.2727" stop-color="#009aff"/><stop offset="0.3182" stop-color="#00c0ff"/><stop offset="0.3636" stop-color="#00e0ff"/><stop offset="0.4091" stop-color="#00ecff"/><stop offset="0.4309" stop-color="#00eeff"/><stop offset="0.4545" stop-color="#00efff"/><stop offset="0.4764" stop-color="#00e9ff"/><stop offset="0.4818" stop-color="#00e8ff"/><stop offset="0.5000" stop-color="#00e3ff"/><stop offset="0.5218" stop-color="#00dcff"/><stop offset="0.5455" stop-color="#00d4ff"/><stop offset="0.5909" stop-color="#00d3ff"/><stop offset="0.6364" stop-color="#00d7ff"/><stop offset="0.6818" stop-color="#00ddff"/><stop offset="0.7273" stop-color="#00eaff"/><stop offset="0.7727" stop-color="#00f6ff"/><stop offset="0.8182" stop-color="#00feff"/><stop offset="0.8636" stop-color="#07f8f8"/><stop offset="0.9091" stop-color="#0df2f2"/><stop offset="0.9545" stop-color="#13ecec"/><stop offset="1.0000" stop-color="#13ecec"/></linearGradient>
<linearGradient id="w36" gradientUnits="userSpaceOnUse" x1="35" y1="0" x2="585" y2="0"><stop offset="0.0000" stop-color="#00bfff"/><stop offset="0.0455" stop-color="#00bfff"/><stop offset="0.0909" stop-color="#00a9ff"/><stop offset="0.1364" stop-color="#00a2ff"/><stop offset="0.1818" stop-color="#00a8ff"/><stop offset="0.2273" stop-color="#00a4ff"/><stop offset="0.2727" stop-color="#0097ff"/><stop offset="0.3182" stop-color="#00bdff"/><stop offset="0.3636" stop-color="#00d6ff"/><stop offset="0.4091" stop-color="#00e0ff"/><stop offset="0.4309" stop-color="#00e2ff"/><stop offset="0.4545" stop-color="#00e5ff"/><stop offset="0.4764" stop-color="#00e0ff"/><stop offset="0.4818" stop-color="#00dfff"/><stop offset="0.5000" stop-color="#00deff"/><stop offset="0.5218" stop-color="#00dbff"/><stop offset="0.5455" stop-color="#00d2ff"/><stop offset="0.5909" stop-color="#00d2ff"/><stop offset="0.6364" stop-color="#00d5ff"/><stop offset="0.6818" stop-color="#00dcff"/><stop offset="0.7273" stop-color="#00e8ff"/><stop offset="0.7727" stop-color="#00f5ff"/><stop offset="0.8182" stop-color="#00fdff"/><stop offset="0.8636" stop-color="#06f9f9"/><stop offset="0.9091" stop-color="#0cf3f3"/><stop offset="0.9545" stop-color="#13ecec"/><stop offset="1.0000" stop-color="#13ecec"/></linearGradient>
<linearGradient id="w37" gradientUnits="userSpaceOnUse" x1="35" y1="0" x2="585" y2="0"><stop offset="0.0000" stop-color="#00bfff"/><stop offset="0.0455" stop-color="#00bfff"/><stop offset="0.0909" stop-color="#00a9ff"/><stop offset="0.1364" stop-color="#00a2ff"/><stop offset="0.1818" stop-color="#00a6ff"/><stop offset="0.2273" stop-color="#00a1ff"/><stop offset="0.2727" stop-color="#0093ff"/><stop offset="0.3182" stop-color="#00b5ff"/><stop offset="0.3636" stop-color="#00b9ff"/><stop offset="0.4091" stop-color="#00beff"/><stop offset="0.4309" stop-color="#00c2ff"/><stop offset="0.4545" stop-color="#00c6ff"/><stop offset="0.4764" stop-color="#00c7ff"/><stop offset="0.4818" stop-color="#00c7ff"/><stop offset="0.5000" stop-color="#00d0ff"/><stop offset="0.5218" stop-color="#00daff"/><stop offset="0.5455" stop-color="#00cfff"/><stop offset="0.5909" stop-color="#00d0ff"/><stop offset="0.6364" stop-color="#00d4ff"/><stop offset="0.6818" stop-color="#00dbff"/><stop offset="0.7273" stop-color="#00e8ff"/><stop offset="0.7727" stop-color="#00f4ff"/><stop offset="0.8182" stop-color="#00fcff"/><stop offset="0.8636" stop-color="#05fafa"/><stop offset="0.9091" stop-color="#0bf4f4"/><stop offset="0.9545" stop-color="#12eded"/><stop offset="1.0000" stop-color="#12eded"/></linearGradient>
<linearGradient id="w38" gradientUnits="userSpaceOnUse" x1="35" y1="0" x2="585" y2="0"><stop offset="0.0000" stop-color="#00bfff"/><stop offset="0.0455" stop-color="#00bfff"/><stop offset="0.0909" stop-color="#00a9ff"/><stop offset="0.1364" stop-color="#00a1ff"/><stop offset="0.1818" stop-color="#00a3ff"/><stop offset="0.2273" stop-color="#009fff"/><stop offset="0.2727" stop-color="#0090ff"/><stop offset="0.3182" stop-color="#00adff"/><stop offset="0.3636" stop-color="#009cff"/><stop offset="0.4091" stop-color="#009cff"/><stop offset="0.4309" stop-color="#00a1ff"/><stop offset="0.4545" stop-color="#00a7ff"/><stop offset="0.4764" stop-color="#00adff"/><stop offset="0.4818" stop-color="#00afff"/><stop offset="0.5000" stop-color="#00c2ff"/><stop offset="0.5218" stop-color="#00daff"/><stop offset="0.5455" stop-color="#00cdff"/><stop offset="0.5909" stop-color="#00ceff"/><stop offset="0.6364" stop-color="#00d3ff"/><stop offset="0.6818" stop-color="#00daff"/><stop offset="0.7273" stop-color="#00e7ff"/><stop offset="0.7727" stop-color="#00f4ff"/><stop offset="0.8182" stop-color="#00fcff"/><stop offset="0.8636" stop-color="#05fafa"/><stop offset="0.9091" stop-color="#0bf4f4"/><stop offset="0.9545" stop-color="#11eeee"/><stop offset="1.0000" stop-color="#11eeee"/></linearGradient>
<linearGradient id="w39" gradientUnits="userSpaceOnUse" x1="35" y1="0" x2="585" y2="0"><stop offset="0.0000" stop-color="#00bfff"/><stop offset="0.0455" stop-color="#00bfff"/><stop offset="0.0909" stop-color="#00a9ff"/><stop offset="0.1364" stop-color="#00a1ff"/><stop offset="0.1818" stop-color="#00a1ff"/><stop offset="0.2273" stop-color="#009cff"/><stop offset="0.2727" stop-color="#008dff"/><stop offset="0.3182" stop-color="#00a5ff"/><stop offset="0.3636" stop-color="#0080ff"/><stop offset="0.4091" stop-color="#007aff"/><stop offset="0.4309" stop-color="#0080ff"/><stop offset="0.4545" stop-color="#0087ff"/><stop offset="0.4764" stop-color="#0093ff"/><stop offset="0.4818" stop-color="#0096ff"/><stop offset="0.5000" stop-color="#00b5ff"/><stop offset="0.5218" stop-color="#00d9ff"/><stop offset="0.5455" stop-color="#00caff"/><stop offset="0.5909" stop-color="#00ccff"/><stop offset="0.6364" stop-color="#00d2ff"/><stop offset="0.6818" stop-color="#00d9ff"/><stop offset="0.7273" stop-color="#00e6ff"/><stop offset="0.7727" stop-color="#00f3ff"/><stop offset="0.8182" stop-color="#00fbff"/><stop offset="0.8636" stop-color="#04fbfb"/><stop offset="0.9091" stop-color="#0af5f5"/><stop offset="0.9545" stop-color="#10efef"/><stop offset="1.0000" stop-color="#10efef"/></linearGradient>
<linearGradient id="w40" gradientUnits="userSpaceOnUse" x1="35" y1="0" x2="585" y2="0"><stop offset="0.0000" stop-color="#00bfff"/><stop offset="0.0455" stop-color="#00bfff"/><stop offset="0.0909" stop-color="#00a9ff"/><stop offset="0.1364" stop-color="#00a1ff"/><stop offset="0.1818" stop-color="#009fff"/><stop offset="0.2273" stop-color="#0099ff"/><stop offset="0.2727" stop-color="#008aff"/><stop offset="0.3182" stop-color="#009bff"/><stop offset="0.3636" stop-color="#006bff"/><stop offset="0.4091" stop-color="#0062ff"/><stop offset="0.4309" stop-color="#0069ff"/><stop offset="0.4545" stop-color="#0072ff"/><stop offset="0.4764" stop-color="#0083ff"/><stop offset="0.4818" stop-color="#0086ff"/><stop offset="0.5000" stop-color="#00a9ff"/><stop offset="0.5218" stop-color="#00d7ff"/><stop offset="0.5455" stop-color="#00c8ff"/><stop offset="0.5909" stop-color="#00caff"/><stop offset="0.6364" stop-color="#00d0ff"/><stop offset="0.6818" stop-color="#00d8ff"/><stop offset="0.7273" stop-color="#00e5ff"/><stop offset="0.7727" stop-color="#00f1ff"/><stop offset="0.8182" stop-color="#00fbff"/><stop offset="0.8636" stop-color="#03fcfc"/><stop offset="0.9091" stop-color="#09f6f6"/><stop offset="0.9545" stop-color="#0ff0f0"/><stop offset="1.0000" stop-color="#0ff0f0"/></linearGradient>
<linearGradient id="w41" gradientUnits="userSpaceOnUse" x1="35" y1="0" x2="585" y2="0"><stop offset="0.0000" stop-color="#00bfff"/><stop offset="0.0455" stop-color="#00bfff"/><stop offset="0.0909" stop-color="#00a9ff"/><stop offset="0.1364" stop-color="#00a0ff"/><stop offset="0.1818" stop-color="#009cff"/><stop offset="0.2273" stop-color="#0095ff"/><stop offset="0.2727" stop-color="#0085ff"/><stop offset="0.3182" stop-color="#0090ff"/><stop offset="0.3636" stop-color="#0066ff"/><stop offset="0.4091" stop-color="#005fff"/><stop offset="0.4309" stop-color="#0067ff"/><stop offset="0.4545" stop-color="#006fff"/><stop offset="0.4764" stop-color="#0085ff"/><stop offset="0.4818" stop-color="#0088ff"/><stop offset="0.5000" stop-color="#00a2ff"/><stop offset="0.5218" stop-color="#00d1ff"/><stop offset="0.5455" stop-color="#00c6ff"/><stop offset="0.5909" stop-color="#00c8ff"/><stop offset="0.6364" stop-color="#00cfff"/><stop offset="0.6818" stop-color="#00d6ff"/><stop offset="0.7273" stop-color="#00e3ff"/><stop offset="0.7727" stop-color="#00efff"/><stop offset="0.8182" stop-color="#00f9ff"/><stop offset="0.8636" stop-color="#01fefe"/><stop offset="0.9091" stop-color="#08f7f7"/><stop offset="0.9545" stop-color="#0ef1f1"/><stop offset="1.0000" stop-color="#0ef1f1"/></linearGradient>
<linearGradient id="w42" gradientUnits="userSpaceOnUse" x1="35" y1="0" x2="585" y2="0"><stop offset="0.0000" stop-color="#00bfff"/><stop offset="0.0455" stop-color="#00bfff"/><stop offset="0.0909" stop-color="#00a9ff"/><stop offset="0.1364" stop-color="#00a0ff"/><stop offset="0.1818" stop-color="#009aff"/><stop offset="0.2273" stop-color="#0091ff"/><stop offset="0.2727" stop-color="#0081ff"/><stop offset="0.3182" stop-color="#0084ff"/><stop offset="0.3636" stop-color="#0062ff"/><stop offset="0.4091" stop-color="#005cff"/><stop offset="0.4309" stop-color="#0064ff"/><stop offset="0.4545" stop-color="#006cff"/><stop offset="0.4764" stop-color="#0088ff"/><stop offset="0.4818" stop-color="#0089ff"/><stop offset="0.5000" stop-color="#009bff"/><stop offset="0.5218" stop-color="#00cbff"/><stop offset="0.5455" stop-color="#00c4ff"/><stop offset="0.5909" stop-color="#00c6ff"/><stop offset="0.6364" stop-color="#00cdff"/><stop offset="0.6818" stop-color="#00d5ff"/><stop offset="0.7273" stop-color="#00e0ff"/><stop offset="0.7727" stop-color="#00edff"/><stop offset="0.8182" stop-color="#00f7ff"/><stop offset="0.8636" stop-color="#00ffff"/><stop offset="0.9091" stop-color="#07f8f8"/><stop offset="0.9545" stop-color="#0df2f2"/><stop offset="1.0000" stop-color="#0df2f2"/></linearGradient>
<linearGradient id="w43" gradientUnits="userSpaceOnUse" x1="35" y1="0" x2="585" y2="0"><stop offset="0.0000" stop-color="#00bfff"/><stop offset="0.0455" stop-color="#00bfff"/><stop offset="0.0909" stop-color="#00a9ff"/><stop offset="0.1364" stop-color="#00a0ff"/><stop offset="0.1818" stop-color="#0098ff"/><stop offset="0.2273" stop-color="#008dff"/><stop offset="0.2727" stop-color="#007dff"/><stop offset="0.3182" stop-color="#0078ff"/><stop offset="0.3636" stop-color="#005eff"/><stop offset="0.4091" stop-color="#0059ff"/><stop offset="0.4309" stop-color="#0061ff"/><stop offset="0.4545" stop-color="#0069ff"/><stop offset="0.4764" stop-color="#008aff"/><stop offset="0.4818" stop-color="#008bff"/><stop offset="0.5000" stop-color="#0093ff"/><stop offset="0.5218" stop-color="#00c5ff"/><stop offset="0.5455" stop-color="#00c1ff"/><stop offset="0.5909" stop-color="#00c4ff"/><stop offset="0.6364" stop-color="#00cbff"/><stop offset="0.6818" stop-color="#00d3ff"/><stop offset="0.7273" stop-color="#00deff"/><stop offset="0.7727" stop-color="#00eaff"/><stop offset="0.8182" stop-color="#00f5ff"/><stop offset="0.8636" stop-color="#00fdff"/><stop offset="0.9091" stop-color="#06f9f9"/><stop offset="0.9545" stop-color="#0bf4f4"/><stop offset="1.0000" stop-color="#0bf4f4"/></linearGradient>
<linearGradient id="w44" gradientUnits="userSpaceOnUse" x1="35" y1="0" x2="585" y2="0"><stop offset="0.0000" stop-color="#00bfff"/><stop offset="0.0455" stop-color="#00bfff"/><stop offset="0.0909" stop-color="#00a9ff"/><stop offset="0.1364" stop-color="#009fff"/><stop offset="0.1818" stop-color="#0096ff"/><stop offset="0.2273" stop-color="#0089ff"/><stop offset="0.2727" stop-color="#0079ff"/><stop offset="0.3182" stop-color="#006cff"/><stop offset="0.3636" stop-color="#0059ff"/><stop offset="0.4091" stop-color="#0056ff"/><stop offset="0.4309" stop-color="#005eff"/><stop offset="0.4545" stop-color="#0066ff"/><stop offset="0.4764" stop-color="#008cff"/><stop offset="0.4818" stop-color="#008cff"/><stop offset="0.5000" stop-color="#008cff"/><stop offset="0.5218" stop-color="#00bfff"/><stop offset="0.5455" stop-color="#00bfff"/><stop offset="0.5909" stop-color="#00c2ff"/><stop offset="0.6364" stop-color="#00c9ff"/><stop offset="0.6818" stop-color="#00d1ff"/><stop offset="0.7273" stop-color="#00dcff"/><stop offset="0.7727" stop-color="#00e8ff"/><stop offset="0.8182" stop-color="#00f4ff"/><stop offset="0.8636" stop-color="#00fcff"/><stop offset="0.9091" stop-color="#05fafa"/><stop offset="0.9545" stop-color="#0af5f5"/><stop offset="1.0000" stop-color="#0af5f5"/></linearGradient>
<linearGradient id="w45" gradientUnits="userSpaceOnUse" x1="35" y1="0" x2="585" y2="0"><stop offset="0.0000" stop-color="#00c0ff"/><stop offset="0.0455" stop-color="#00c0ff"/><stop offset="0.0909" stop-color="#00a9ff"/><stop offset="0.1364" stop-color="#009fff"/><stop offset="0.1818" stop-color="#0095ff"/><stop offset="0.2273" stop-color="#0087ff"/><stop offset="0.2727" stop-color="#0076ff"/><stop offset="0.3182" stop-color="#006aff"/><stop offset="0.3636" stop-color="#0058ff"/><stop offset="0.4091" stop-color="#0056ff"/><stop offset="0.4309" stop-color="#005dff"/><stop offset="0.4545" stop-color="#0065ff"/><stop offset="0.4764" stop-color="#008cff"/><stop offset="0.4818" stop-color="#008cff"/><stop offset="0.5000" stop-color="#008cff"/><stop offset="0.5218" stop-color="#00b5ff"/><stop offset="0.5455" stop-color="#00bdff"/><stop offset="0.5909" stop-color="#00c2ff"/><stop offset="0.6364" stop-color="#00c8ff"/><stop offset="0.6818" stop-color="#00d1ff"/><stop offset="0.7273" stop-color="#00dcff"/><stop offset="0.7727" stop-color="#00e7ff"/><stop offset="0.8182" stop-color="#00f3ff"/><stop offset="0.8636" stop-color="#00fbff"/><stop offset="0.9091" stop-color="#04fbfb"/><stop offset="0.9545" stop-color="#09f6f6"/><stop offset="1.0000" stop-color="#09f6f6"/></linearGradient>
<linearGradient id="w46" gradientUnits="userSpaceOnUse" x1="35" y1="0" x2="585" y2="0"><stop offset="0.0000" stop-color="#00c0ff"/><stop offset="0.0455" stop-color="#00c0ff"/><stop offset="0.0909" stop-color="#00aaff"/><stop offset="0.1364" stop-color="#009fff"/><stop offset="0.1818" stop-color="#0093ff"/><stop offset="0.2273" stop-color="#0084ff"/><stop offset="0.2727" stop-color="#0074ff"/><stop offset="0.3182" stop-color="#0068ff"/><stop offset="0.3636" stop-color="#0058ff"/><stop offset="0.4091" stop-color="#0055ff"/><stop offset="0.4309" stop-color="#005dff"/><stop offset="0.4545" stop-color="#0064ff"/><stop offset="0.4764" stop-color="#008bff"/><stop offset="0.4818" stop-color="#008cff"/><stop offset="0.5000" stop-color="#008cff"/><stop offset="0.5218" stop-color="#00abff"/><stop offset="0.5455" stop-color="#00bbff"/><stop offset="0.5909" stop-color="#00c1ff"/><stop offset="0.6364" stop-color="#00c8ff"/><stop offset="0.6818" stop-color="#00d1ff"/><stop offset="0.7273" stop-color="#00dbff"/><stop offset="0.7727" stop-color="#00e7ff"/><stop offset="0.8182" stop-color="#00f2ff"/><stop offset="0.8636" stop-color="#00fbff"/><stop offset="0.9091" stop-color="#04fbfb"/><stop offset="0.9545" stop-color="#09f6f6"/><stop offset="1.0000" stop-color="#09f6f6"/></linearGradient>
<linearGradient id="w47" gradientUnits="userSpaceOnUse" x1="35" y1="0" x2="585" y2="0"><stop offset="0.0000" stop-color="#00c0ff"/><stop offset="0.0455" stop-color="#00c0ff"/><stop offset="0.0909" stop-color="#00aaff"/><stop offset="0.1364" stop-color="#009eff"/><stop offset="0.1818" stop-color="#0092ff"/><stop offset="0.2273" stop-color="#0082ff"/><stop offset="0.2727" stop-color="#0071ff"/><stop offset="0.3182" stop-color="#0065ff"/><stop offset="0.3636" stop-color="#0057ff"/><stop offset="0.4091" stop-color="#0055ff"/><stop offset="0.4309" stop-color="#005cff"/><stop offset="0.4545" stop-color="#0064ff"/><stop offset="0.4764" stop-color="#008bff"/><stop offset="0.4818" stop-color="#008bff"/><stop offset="0.5000" stop-color="#008cff"/><stop offset="0.5218" stop-color="#00a1ff"/><stop offset="0.5455" stop-color="#00b8ff"/><stop offset="0.5909" stop-color="#00c0ff"/><stop offset="0.6364" stop-color="#00c8ff"/><stop offset="0.6818" stop-color="#00d0ff"/><stop offset="0.7273" stop-color="#00dbff"/><stop offset="0.7727" stop-color="#00e6ff"/><stop offset="0.8182" stop-color="#00f1ff"/><stop offset="0.8636" stop-color="#00faff"/><stop offset="0.9091" stop-color="#03fcfc"/><stop offset="0.9545" stop-color="#08f7f7"/><stop offset="1.0000" stop-color="#08f7f7"/></linearGradient>
<linearGradient id="w48" gradientUnits="userSpaceOnUse" x1="35" y1="0" x2="585" y2="0"><stop offset="0.0000" stop-color="#00c1ff"/><stop offset="0.0455" stop-color="#00c1ff"/><stop offset="0.0909" stop-color="#00aaff"/><stop offset="0.1364" stop-color="#009eff"/><stop offset="0.1818" stop-color="#0091ff"/><stop offset="0.2273" stop-color="#0080ff"/><stop offset="0.2727" stop-color="#006eff"/><stop offset="0.3182" stop-color="#0063ff"/><stop offset="0.3636" stop-color="#0056ff"/><stop offset="0.4091" stop-color="#0055ff"/><stop offset="0.4309" stop-color="#005bff"/><stop offset="0.4545" stop-color="#0063ff"/><stop offset="0.4764" stop-color="#008bff"/><stop offset="0.4818" stop-color="#008bff"/><stop offset="0.5000" stop-color="#008cff"/><stop offset="0.5218" stop-color="#0097ff"/><stop offset="0.5455" stop-color="#00b6ff"/><stop offset="0.5909" stop-color="#00bfff"/><stop offset="0.6364" stop-color="#00c7ff"/><stop offset="0.6818" stop-color="#00d0ff"/><stop offset="0.7273" stop-color="#00daff"/><stop offset="0.7727" stop-color="#00e5ff"/><stop offset="0.8182" stop-color="#00f0ff"/><stop offset="0.8636" stop-color="#00faff"/><stop offset="0.9091" stop-color="#03fcfc"/><stop offset="0.9545" stop-color="#08f7f7"/><stop offset="1.0000" stop-color="#08f7f7"/></linearGradient>
<linearGradient id="w49" gradientUnits="userSpaceOnUse" x1="35" y1="0" x2="585" y2="0"><stop offset="0.0000" stop-color="#00c1ff"/><stop offset="0.0455" stop-color="#00c1ff"/><stop offset="0.0909" stop-color="#00abff"/><stop offset="0.1364" stop-color="#009dff"/><stop offset="0.1818" stop-color="#008fff"/><stop offset="0.2273" stop-color="#007eff"/><stop offset="0.2727" stop-color="#006cff"/><stop offset="0.3182" stop-color="#0061ff"/><stop offset="0.3636" stop-color="#0055ff"/><stop offset="0.4091" stop-color="#0054ff"/><stop offset="0.4309" stop-color="#005bff"/><stop offset="0.4545" stop-color="#0062ff"/><stop offset="0.4764" stop-color="#008aff"/><stop offset="0.4818" stop-color="#008bff"/><stop offset="0.5000" stop-color="#008cff"/><stop offset="0.5218" stop-color="#008eff"/><stop offset="0.5455" stop-color="#00b4ff"/><stop offset="0.5909" stop-color="#00bfff"/><stop offset="0.6364" stop-color="#00c7ff"/><stop offset="0.6818" stop-color="#00d0ff"/><stop offset="0.7273" stop-color="#00daff"/><stop offset="0.7727" stop-color="#00e5ff"/><stop offset="0.8182" stop-color="#00efff"/><stop offset="0.8636" stop-color="#00f9ff"/><stop offset="0.9091" stop-color="#02fdfd"/><stop offset="0.9545" stop-color="#08f7f7"/><stop offset="1.0000" stop-color="#08f7f7"/></linearGradient>
<linearGradient id="w50" gradientUnits="userSpaceOnUse" x1="35" y1="0" x2="585" y2="0"><stop offset="0.0000" stop-color="#00c2ff"/><stop offset="0.0455" stop-color="#00c2ff"/><stop offset="0.0909" stop-color="#00abff"/><stop offset="0.1364" stop-color="#009dff"/><stop offset="0.1818" stop-color="#008eff"/><stop offset="0.2273" stop-color="#007bff"/><stop offset="0.2727" stop-color="#0069ff"/><stop offset="0.3182" stop-color="#005fff"/><stop offset="0.3636" stop-color="#0055ff"/><stop offset="0.4091" stop-color="#0054ff"/><stop offset="0.4309" stop-color="#005aff"/><stop offset="0.4545" stop-color="#0061ff"/><stop offset="0.4764" stop-color="#008aff"/><stop offset="0.4818" stop-color="#008aff"/><stop offset="0.5000" stop-color="#008cff"/><stop offset="0.5218" stop-color="#0084ff"/><stop offset="0.5455" stop-color="#00b1ff"/><stop offset="0.5909" stop-color="#00beff"/><stop offset="0.6364" stop-color="#00c7ff"/><stop offset="0.6818" stop-color="#00d0ff"/><stop offset="0.7273" stop-color="#00daff"/><stop offset="0.7727" stop-color="#00e4ff"/><stop offset="0.8182" stop-color="#00eeff"/><stop offset="0.8636" stop-color="#00f9ff"/><stop offset="0.9091" stop-color="#01fefe"/><stop offset="0.9545" stop-color="#07f8f8"/><stop offset="1.0000" stop-color="#07f8f8"/></linearGradient>
<linearGradient id="w51" gradientUnits="userSpaceOnUse" x1="35" y1="0" x2="585" y2="0"><stop offset="0.0000" stop-color="#00c2ff"/><stop offset="0.0455" stop-color="#00c2ff"/><stop offset="0.0909" stop-color="#00acff"/><stop offset="0.1364" stop-color="#009dff"/><stop offset="0.1818" stop-color="#008dff"/><stop offset="0.2273" stop-color="#0079ff"/><stop offset="0.2727" stop-color="#0066ff"/><stop offset="0.3182" stop-color="#005cff"/><stop offset="0.3636" stop-color="#0054ff"/><stop offset="0.4091" stop-color="#0053ff"/><stop offset="0.4309" stop-color="#005aff"/><stop offset="0.4545" stop-color="#0061ff"/><stop offset="0.4764" stop-color="#008aff"/><stop offset="0.4818" stop-color="#008aff"/><stop offset="0.5000" stop-color="#008cff"/><stop offset="0.5218" stop-color="#007aff"/><stop offset="0.5455" stop-color="#00afff"/><stop offset="0.5909" stop-color="#00bdff"/><stop offset="0.6364" stop-color="#00c6ff"/><stop offset="0.6818" stop-color="#00cfff"/><stop offset="0.7273" stop-color="#00d9ff"/><stop offset="0.7727" stop-color="#00e3ff"/><stop offset="0.8182" stop-color="#00edff"/><stop offset="0.8636" stop-color="#00f8ff"/><stop offset="0.9091" stop-color="#01fefe"/><stop offset="0.9545" stop-color="#07f8f8"/><stop offset="1.0000" stop-color="#07f8f8"/></linearGradient>
<linearGradient id="w52" gradientUnits="userSpaceOnUse" x1="35" y1="0" x2="585" y2="0"><stop offset="0.0000" stop-color="#00c2ff"/><stop offset="0.0455" stop-color="#00c2ff"/><stop offset="0.0909" stop-color="#00acff"/><stop offset="0.1364" stop-color="#009cff"/><stop offset="0.1818" stop-color="#008bff"/><stop offset="0.2273" stop-color="#0077ff"/><stop offset="0.2727" stop-color="#0064ff"/><stop offset="0.3182" stop-color="#005aff"/><stop offset="0.3636" stop-color="#0053ff"/><stop offset="0.4091" stop-color="#0053ff"/><stop offset="0.4309" stop-color="#0059ff"/><stop offset="0.4545" stop-color="#0060ff"/><stop offset="0.4764" stop-color="#0089ff"/><stop offset="0.4818" stop-color="#008aff"/><stop offset="0.5000" stop-color="#008cff"/><stop offset="0.5218" stop-color="#0070ff"/><stop offset="0.5455" stop-color="#00adff"/><stop offset="0.5909" stop-color="#00bcff"/><stop offset="0.6364" stop-color="#00c6ff"/><stop offset="0.6818" stop-color="#00cfff"/><stop offset="0.7273" stop-color="#00d9ff"/><stop offset="0.7727" stop-color="#00e3ff"/><stop offset="0.8182" stop-color="#00ecff"/><stop offset="0.8636" stop-color="#00f8ff"/><stop offset="0.9091" stop-color="#00ffff"/><stop offset="0.9545" stop-color="#07f8f8"/><stop offset="1.0000" stop-color="#07f8f8"/></linearGradient>
<linearGradient id="w53" gradientUnits="userSpaceOnUse" x1="35" y1="0" x2="585" y2="0"><stop offset="0.0000" stop-color="#00c4ff"/><stop offset="0.0455" stop-color="#00c4ff"/><stop offset="0.0909" stop-color="#00aeff"/><stop offset="0.1364" stop-color="#009dff"/><stop offset="0.1818" stop-color="#008cff"/><stop offset="0.2273" stop-color="#0076ff"/><stop offset="0.2727" stop-color="#0063ff"/><stop offset="0.3182" stop-color="#0058ff"/><stop offset="0.3636" stop-color="#0052ff"/><stop offset="0.4091" stop-color="#0052ff"/><stop offset="0.4309" stop-color="#0058ff"/><stop offset="0.4545" stop-color="#005fff"/><stop offset="0.4764" stop-color="#0088ff"/><stop offset="0.4818" stop-color="#0089ff"/><stop offset="0.5000" stop-color="#008cff"/><stop offset="0.5218" stop-color="#0070ff"/><stop offset="0.5455" stop-color="#00acff"/><stop offset="0.5909" stop-color="#00bcff"/><stop offset="0.6364" stop-color="#00c6ff"/><stop offset="0.6818" stop-color="#00cfff"/><stop offset="0.7273" stop-color="#00d9ff"/><stop offset="0.7727" stop-color="#00e2ff"/><stop offset="0.8182" stop-color="#00ecff"/><stop offset="0.8636" stop-color="#00f7ff"/><stop offset="0.9091" stop-color="#00ffff"/><stop offset="0.9545" stop-color="#06f9f9"/><stop offset="1.0000" stop-color="#06f9f9"/></linearGradient>
<linearGradient id="w54" gradientUnits="userSpaceOnUse" x1="35" y1="0" x2="585" y2="0"><stop offset="0.0000" stop-color="#00c6ff"/><stop offset="0.0455" stop-color="#00c6ff"/><stop offset="0.0909" stop-color="#00b1ff"/><stop offset="0.1364" stop-color="#009fff"/><stop offset="0.1818" stop-color="#008dff"/><stop offset="0.2273" stop-color="#0077ff"/><stop offset="0.2727" stop-color="#0062ff"/><stop offset="0.3182" stop-color="#0057ff"/><stop offset="0.3636" stop-color="#0051ff"/><stop offset="0.4091" stop-color="#0052ff"/><stop offset="0.4309" stop-color="#0058ff"/><stop offset="0.4545" stop-color="#005eff"/><stop offset="0.4764" stop-color="#0086ff"/><stop offset="0.4818" stop-color="#0087ff"/><stop offset="0.5000" stop-color="#008bff"/><stop offset="0.5218" stop-color="#0075ff"/><stop offset="0.5455" stop-color="#00abff"/><stop offset="0.5909" stop-color="#00bcff"/><stop offset="0.6364" stop-color="#00c6ff"/><stop offset="0.6818" stop-color="#00d0ff"/><stop offset="0.7273" stop-color="#00d9ff"/><stop offset="0.7727" stop-color="#00e2ff"/><stop offset="0.8182" stop-color="#00ecff"/><stop offset="0.8636" stop-color="#00f7ff"/><stop offset="0.9091" stop-color="#00ffff"/><stop offset="0.9545" stop-color="#05fafa"/><stop offset="1.0000" stop-color="#05fafa"/></linearGradient>
<linearGradient id="w55" gradientUnits="userSpaceOnUse" x1="35" y1="0" x2="585" y2="0"><stop offset="0.0000" stop-color="#00c8ff"/><stop offset="0.0455" stop-color="#00c8ff"/><stop offset="0.0909" stop-color="#00b3ff"/><stop offset="0.1364" stop-color="#00a1ff"/><stop offset="0.1818" stop-color="#008eff"/><stop offset="0.2273" stop-color="#0078ff"/><stop offset="0.2727" stop-color="#0062ff"/><stop offset="0.3182" stop-color="#0055ff"/><stop offset="0.3636" stop-color="#0050ff"/><stop offset="0.4091" stop-color="#0051ff"/><stop offset="0.4309" stop-color="#0057ff"/><stop offset="0.4545" stop-color="#005eff"/><stop offset="0.4764" stop-color="#0084ff"/><stop offset="0.4818" stop-color="#0085ff"/><stop offset="0.5000" stop-color="#008aff"/><stop offset="0.5218" stop-color="#007bff"/><stop offset="0.5455" stop-color="#00abff"/><stop offset="0.5909" stop-color="#00bcff"/><stop offset="0.6364" stop-color="#00c7ff"/><stop offset="0.6818" stop-color="#00d0ff"/><stop offset="0.7273" stop-color="#00d9ff"/><stop offset="0.7727" stop-color="#00e2ff"/><stop offset="0.8182" stop-color="#00ecff"/><stop offset="0.8636" stop-color="#00f7ff"/><stop offset="0.9091" stop-color="#00ffff"/><stop offset="0.9545" stop-color="#04fbfb"/><stop offset="1.0000" stop-color="#04fbfb"/></linearGradient>
<linearGradient id="w56" gradientUnits="userSpaceOnUse" x1="35" y1="0" x2="585" y2="0"><stop offset="0.0000" stop-color="#00c9ff"/><stop offset="0.0455" stop-color="#00c9ff"/><stop offset="0.0909" stop-color="#00b6ff"/><stop offset="0.1364" stop-color="#00a3ff"/><stop offset="0.1818" stop-color="#0090ff"/><stop offset="0.2273" stop-color="#0079ff"/><stop offset="0.2727" stop-color="#0061ff"/><stop offset="0.3182" stop-color="#0054ff"/><stop offset="0.3636" stop-color="#004fff"/><stop offset="0.4091" stop-color="#0050ff"/><stop offset="0.4309" stop-color="#0056ff"/><stop offset="0.4545" stop-color="#005dff"/><stop offset="0.4764" stop-color="#0082ff"/><stop offset="0.4818" stop-color="#0084ff"/><stop offset="0.5000" stop-color="#0089ff"/><stop offset="0.5218" stop-color="#0080ff"/><stop offset="0.5455" stop-color="#00abff"/><stop offset="0.5909" stop-color="#00bcff"/><stop offset="0.6364" stop-color="#00c7ff"/><stop offset="0.6818" stop-color="#00d0ff"/><stop offset="0.7273" stop-color="#00d9ff"/><stop offset="0.7727" stop-color="#00e2ff"/><stop offset="0.8182" stop-color="#00ecff"/><stop offset="0.8636" stop-color="#00f7ff"/><stop offset="0.9091" stop-color="#00ffff"/><stop offset="0.9545" stop-color="#04fbfb"/><stop offset="1.0000" stop-color="#04fbfb"/></linearGradient>
<linearGradient id="w57" gradientUnits="userSpaceOnUse" x1="35" y1="0" x2="585" y2="0"><stop offset="0.0000" stop-color="#00cbff"/><stop offset="0.0455" stop-color="#00cbff"/><stop offset="0.0909" stop-color="#00b9ff"/><stop offset="0.1364" stop-color="#00a5ff"/><stop offset="0.1818" stop-color="#0091ff"/><stop offset="0.2273" stop-color="#007aff"/><stop offset="0.2727" stop-color="#0061ff"/><stop offset="0.3182" stop-color="#0052ff"/><stop offset="0.3636" stop-color="#004eff"/><stop offset="0.4091" stop-color="#004fff"/><stop offset="0.4309" stop-color="#0055ff"/><stop offset="0.4545" stop-color="#005cff"/><stop offset="0.4764" stop-color="#0080ff"/><stop offset="0.4818" stop-color="#0082ff"/><stop offset="0.5000" stop-color="#0089ff"/><stop offset="0.5218" stop-color="#0085ff"/><stop offset="0.5455" stop-color="#00aaff"/><stop offset="0.5909" stop-color="#00bcff"/><stop offset="0.6364" stop-color="#00c7ff"/><stop offset="0.6818" stop-color="#00d0ff"/><stop offset="0.7273" stop-color="#00d9ff"/><stop offset="0.7727" stop-color="#00e2ff"/><stop offset="0.8182" stop-color="#00ecff"/><stop offset="0.8636" stop-color="#00f7ff"/><stop offset="0.9091" stop-color="#00ffff"/><stop offset="0.9545" stop-color="#03fcfc"/><stop offset="1.0000" stop-color="#03fcfc"/></linearGradient>
<linearGradient id="w58" gradientUnits="userSpaceOnUse" x1="35" y1="0" x2="585" y2="0"><stop offset="0.0000" stop-color="#00cdff"/><stop offset="0.0455" stop-color="#00cdff"/><stop offset="0.0909" stop-color="#00bbff"/><stop offset="0.1364" stop-color="#00a7ff"/><stop offset="0.1818" stop-color="#0092ff"/><stop offset="0.2273" stop-color="#007aff"/><stop offset="0.2727" stop-color="#0061ff"/><stop offset="0.3182" stop-color="#0051ff"/><stop offset="0.3636" stop-color="#004cff"/><stop offset="0.4091" stop-color="#004fff"/><stop offset="0.4309" stop-color="#0055ff"/><stop offset="0.4545" stop-color="#005bff"/><stop offset="0.4764" stop-color="#007eff"/><stop offset="0.4818" stop-color="#0080ff"/><stop offset="0.5000" stop-color="#0088ff"/><stop offset="0.5218" stop-color="#008bff"/><stop offset="0.5455" stop-color="#00aaff"/><stop offset="0.5909" stop-color="#00bcff"/><stop offset="0.6364" stop-color="#00c8ff"/><stop offset="0.6818" stop-color="#00d0ff"/><stop offset="0.7273" stop-color="#00d9ff"/><stop offset="0.7727" stop-color="#00e2ff"/><stop offset="0.8182" stop-color="#00ecff"/><stop offset="0.8636" stop-color="#00f7ff"/><stop offset="0.9091" stop-color="#00ffff"/><stop offset="0.9545" stop-color="#02fdfd"/><stop offset="1.0000" stop-color="#02fdfd"/></linearGradient>
<linearGradient id="w59" gradientUnits="userSpaceOnUse" x1="35" y1="0" x2="585" y2="0"><stop offset="0.0000" stop-color="#00cfff"/><stop offset="0.0455" stop-color="#00cfff"/><stop offset="0.0909" stop-color="#00beff"/><stop offset="0.1364" stop-color="#00a9ff"/><stop offset="0.1818" stop-color="#0094ff"/><stop offset="0.2273" stop-color="#007bff"/><stop offset="0.2727" stop-color="#0060ff"/><stop offset="0.3182" stop-color="#004fff"/><stop offset="0.3636" stop-color="#004bff"/><stop offset="0.4091" stop-color="#004eff"/><stop offset="0.4309" stop-color="#0054ff"/><stop offset="0.4545" stop-color="#005bff"/><stop offset="0.4764" stop-color="#007cff"/><stop offset="0.4818" stop-color="#007fff"/><stop offset="0.5000" stop-color="#0087ff"/><stop offset="0.5218" stop-color="#0090ff"/><stop offset="0.5455" stop-color="#00aaff"/><stop offset="0.5909" stop-color="#00bcff"/><stop offset="0.6364" stop-color="#00c8ff"/><stop offset="0.6818" stop-color="#00d1ff"/><stop offset="0.7273" stop-color="#00d9ff"/><stop offset="0.7727" stop-color="#00e2ff"/><stop offset="0.8182" stop-color="#00ecff"/><stop offset="0.8636" stop-color="#00f7ff"/><stop offset="0.9091" stop-color="#00ffff"/><stop offset="0.9545" stop-color="#01fefe"/><stop offset="1.0000" stop-color="#01fefe"/></linearGradient>
<linearGradient id="w60" gradientUnits="userSpaceOnUse" x1="35" y1="0" x2="585" y2="0"><stop offset="0.0000" stop-color="#00d1ff"/><stop offset="0.0455" stop-color="#00d1ff"/><stop offset="0.0909" stop-color="#00c1ff"/><stop offset="0.1364" stop-color="#00abff"/><stop offset="0.1818" stop-color="#0095ff"/><stop offset="0.2273" stop-color="#007cff"/><stop offset="0.2727" stop-color="#0060ff"/><stop offset="0.3182" stop-color="#004eff"/><stop offset="0.3636" stop-color="#004aff"/><stop offset="0.4091" stop-color="#004dff"/><stop offset="0.4309" stop-color="#0053ff"/><stop offset="0.4545" stop-color="#005aff"/><stop offset="0.4764" stop-color="#007aff"/><stop offset="0.4818" stop-color="#007dff"/><stop offset="0.5000" stop-color="#0086ff"/><stop offset="0.5218" stop-color="#0095ff"/><stop offset="0.5455" stop-color="#00a9ff"/><stop offset="0.5909" stop-color="#00bcff"/><stop offset="0.6364" stop-color="#00c9ff"/><stop offset="0.6818" stop-color="#00d1ff"/><stop offset="0.7273" stop-color="#00d9ff"/><stop offset="0.7727" stop-color="#00e2ff"/><stop offset="0.8182" stop-color="#00ecff"/><stop offset="0.8636" stop-color="#00f7ff"/><stop offset="0.9091" stop-color="#00ffff"/><stop offset="0.9545" stop-color="#01fefe"/><stop offset="1.0000" stop-color="#01fefe"/></linearGradient>
<linearGradient id="w61" gradientUnits="userSpaceOnUse" x1="35" y1="0" x2="585" y2="0"><stop offset="0.0000" stop-color="#00d3ff"/><stop offset="0.0455" stop-color="#00d3ff"/><stop offset="0.0909" stop-color="#00c3ff"/><stop offset="0.1364" stop-color="#00acff"/><stop offset="0.1818" stop-color="#0096ff"/><stop offset="0.2273" stop-color="#007cff"/><stop offset="0.2727" stop-color="#005fff"/><stop offset="0.3182" stop-color="#004cff"/><stop offset="0.3636" stop-color="#0049ff"/><stop offset="0.4091" stop-color="#004cff"/><stop offset="0.4309" stop-color="#0053ff"/><stop offset="0.4545" stop-color="#005aff"/><stop offset="0.4764" stop-color="#007aff"/><stop offset="0.4818" stop-color="#007dff"/><stop offset="0.5000" stop-color="#0087ff"/><stop offset="0.5218" stop-color="#0099ff"/><stop offset="0.5455" stop-color="#00a9ff"/><stop offset="0.5909" stop-color="#00bcff"/><stop offset="0.6364" stop-color="#00c9ff"/><stop offset="0.6818" stop-color="#00d2ff"/><stop offset="0.7273" stop-color="#00d9ff"/><stop offset="0.7727" stop-color="#00e3ff"/><stop offset="0.8182" stop-color="#00ecff"/><stop offset="0.8636" stop-color="#00f7ff"/><stop offset="0.9091" stop-color="#00ffff"/><stop offset="0.9545" stop-color="#00ffff"/><stop offset="1.0000" stop-color="#00ffff"/></linearGradient>
<linearGradient id="w62" gradientUnits="userSpaceOnUse" x1="35" y1="0" x2="585" y2="0"><stop offset="0.0000" stop-color="#00d3ff"/><stop offset="0.0455" stop-color="#00d3ff"/><stop offset="0.0909" stop-color="#00c3ff"/><stop offset="0.1364" stop-color="#00adff"/><stop offset="0.1818" stop-color="#0096ff"/><stop offset="0.2273" stop-color="#007cff"/><stop offset="0.2727" stop-color="#005fff"/><stop offset="0.3182" stop-color="#004bff"/><stop offset="0.3636" stop-color="#0047ff"/><stop offset="0.4091" stop-color="#004bff"/><stop offset="0.4309" stop-color="#0053ff"/><stop offset="0.4545" stop-color="#005bff"/><stop offset="0.4764" stop-color="#007bff"/><stop offset="0.4818" stop-color="#007eff"/><stop offset="0.5000" stop-color="#0088ff"/><stop offset="0.5218" stop-color="#009bff"/><stop offset="0.5455" stop-color="#00a9ff"/><stop offset="0.5909" stop-color="#00beff"/><stop offset="0.6364" stop-color="#00cbff"/><stop offset="0.6818" stop-color="#00d4ff"/><stop offset="0.7273" stop-color="#00dbff"/><stop offset="0.7727" stop-color="#00e4ff"/><stop offset="0.8182" stop-color="#00ecff"/><stop offset="0.8636" stop-color="#00f7ff"/><stop offset="0.9091" stop-color="#00feff"/><stop offset="0.9545" stop-color="#00ffff"/><stop offset="1.0000" stop-color="#00ffff"/></linearGradient>
<linearGradient id="w63" gradientUnits="userSpaceOnUse" x1="35" y1="0" x2="585" y2="0"><stop offset="0.0000" stop-color="#00d4ff"/><stop offset="0.0455" stop-color="#00d4ff"/><stop offset="0.0909" stop-color="#00c4ff"/><stop offset="0.1364" stop-color="#00aeff"/><stop offset="0.1818" stop-color="#0097ff"/><stop offset="0.2273" stop-color="#007bff"/><stop offset="0.2727" stop-color="#005eff"/><stop offset="0.3182" stop-color="#004aff"/><stop offset="0.3636" stop-color="#0046ff"/><stop offset="0.4091" stop-color="#004bff"/><stop offset="0.4309" stop-color="#0053ff"/><stop offset="0.4545" stop-color="#005cff"/><stop offset="0.4764" stop-color="#007cff"/><stop offset="0.4818" stop-color="#007fff"/><stop offset="0.5000" stop-color="#008aff"/><stop offset="0.5218" stop-color="#009cff"/><stop offset="0.5455" stop-color="#00aaff"/><stop offset="0.5909" stop-color="#00bfff"/><stop offset="0.6364" stop-color="#00ccff"/><stop offset="0.6818" stop-color="#00d6ff"/><stop offset="0.7273" stop-color="#00ddff"/><stop offset="0.7727" stop-color="#00e5ff"/><stop offset="0.8182" stop-color="#00edff"/><stop offset="0.8636" stop-color="#00f7ff"/><stop offset="0.9091" stop-color="#00feff"/><stop offset="0.9545" stop-color="#00ffff"/><stop offset="1.0000" stop-color="#00ffff"/></linearGradient>
<linearGradient id="w64" gradientUnits="userSpaceOnUse" x1="35" y1="0" x2="585" y2="0"><stop offset="0.0000" stop-color="#00d4ff"/><stop offset="0.0455" stop-color="#00d4ff"/><stop offset="0.0909" stop-color="#00c4ff"/><stop offset="0.1364" stop-color="#00afff"/><stop offset="0.1818" stop-color="#0097ff"/><stop offset="0.2273" stop-color="#007bff"/><stop offset="0.2727" stop-color="#005dff"/><stop offset="0.3182" stop-color="#0049ff"/><stop offset="0.3636" stop-color="#0044ff"/><stop offset="0.4091" stop-color="#004aff"/><stop offset="0.4309" stop-color="#0053ff"/><stop offset="0.4545" stop-color="#005dff"/><stop offset="0.4764" stop-color="#007dff"/><stop offset="0.4818" stop-color="#0080ff"/><stop offset="0.5000" stop-color="#008cff"/><stop offset="0.5218" stop-color="#009dff"/><stop offset="0.5455" stop-color="#00aaff"/><stop offset="0.5909" stop-color="#00c0ff"/><stop offset="0.6364" stop-color="#00cdff"/><stop offset="0.6818" stop-color="#00d9ff"/><stop offset="0.7273" stop-color="#00dfff"/><stop offset="0.7727" stop-color="#00e6ff"/><stop offset="0.8182" stop-color="#00edff"/><stop offset="0.8636" stop-color="#00f7ff"/><stop offset="0.9091" stop-color="#00feff"/><stop offset="0.9545" stop-color="#00feff"/><stop offset="1.0000" stop-color="#00ffff"/></linearGradient>
<linearGradient id="w65" gradientUnits="userSpaceOnUse" x1="35" y1="0" x2="585" y2="0"><stop offset="0.0000" stop-color="#00d5ff"/><stop offset="0.0455" stop-color="#00d5ff"/><stop offset="0.0909" stop-color="#00c5ff"/><stop offset="0.1364" stop-color="#00afff"/><stop offset="0.1818" stop-color="#0097ff"/><stop offset="0.2273" stop-color="#007bff"/><stop offset="0.2727" stop-color="#005cff"/><stop offset="0.3182" stop-color="#0048ff"/><stop offset="0.3636" stop-color="#0043ff"/><stop offset="0.4091" stop-color="#0049ff"/><stop offset="0.4309" stop-color="#0053ff"/><stop offset="0.4545" stop-color="#005eff"/><stop offset="0.4764" stop-color="#007eff"/><stop offset="0.4818" stop-color="#0082ff"/><stop offset="0.5000" stop-color="#008eff"/><stop offset="0.5218" stop-color="#009eff"/><stop offset="0.5455" stop-color="#00abff"/><stop offset="0.5909" stop-color="#00c1ff"/><stop offset="0.6364" stop-color="#00ceff"/><stop offset="0.6818" stop-color="#00dbff"/><stop offset="0.7273" stop-color="#00e1ff"/><stop offset="0.7727" stop-color="#00e7ff"/><stop offset="0.8182" stop-color="#00eeff"/><stop offset="0.8636" stop-color="#00f6ff"/><stop offset="0.9091" stop-color="#00fdff"/><stop offset="0.9545" stop-color="#00feff"/><stop offset="1.0000" stop-color="#00ffff"/></linearGradient>
<linearGradient id="w66" gradientUnits="userSpaceOnUse" x1="35" y1="0" x2="585" y2="0"><stop offset="0.0000" stop-color="#00d6ff"/><stop offset="0.0455" stop-color="#00d6ff"/><stop offset="0.0909" stop-color="#00c5ff"/><stop offset="0.1364" stop-color="#00b0ff"/><stop offset="0.1818" stop-color="#0098ff"/><stop offset="0.2273" stop-color="#007aff"/><stop offset="0.2727" stop-color="#005cff"/><stop offset="0.3182" stop-color="#0046ff"/><stop offset="0.3636" stop-color="#0041ff"/><stop offset="0.4091" stop-color="#0048ff"/><stop offset="0.4309" stop-color="#0053ff"/><stop offset="0.4545" stop-color="#005fff"/><stop offset="0.4764" stop-color="#007fff"/><stop offset="0.4818" stop-color="#0083ff"/><stop offset="0.5000" stop-color="#0090ff"/><stop offset="0.5218" stop-color="#009fff"/><stop offset="0.5455" stop-color="#00abff"/><stop offset="0.5909" stop-color="#00c2ff"/><stop offset="0.6364" stop-color="#00d0ff"/><stop offset="0.6818" stop-color="#00ddff"/><stop offset="0.7273" stop-color="#00e3ff"/><stop offset="0.7727" stop-color="#00e8ff"/><stop offset="0.8182" stop-color="#00eeff"/><stop offset="0.8636" stop-color="#00f6ff"/><stop offset="0.9091" stop-color="#00fdff"/><stop offset="0.9545" stop-color="#00feff"/><stop offset="1.0000" stop-color="#00ffff"/></linearGradient>
<linearGradient id="w67" gradientUnits="userSpaceOnUse" x1="35" y1="0" x2="585" y2="0"><stop offset="0.0000" stop-color="#00d6ff"/><stop offset="0.0455" stop-color="#00d6ff"/><stop offset="0.0909" stop-color="#00c6ff"/><stop offset="0.1364" stop-color="#00b1ff"/><stop offset="0.1818" stop-color="#0098ff"/><stop offset="0.2273" stop-color="#007aff"/><stop offset="0.2727" stop-color="#005bff"/><stop offset="0.3182" stop-color="#0045ff"/><stop offset="0.3636" stop-color="#0040ff"/><stop offset="0.4091" stop-color="#0048ff"/><stop offset="0.4309" stop-color="#0054ff"/><stop offset="0.4545" stop-color="#0061ff"/><stop offset="0.4764" stop-color="#0080ff"/><stop offset="0.4818" stop-color="#0084ff"/><stop offset="0.5000" stop-color="#0092ff"/><stop offset="0.5218" stop-color="#00a0ff"/><stop offset="0.5455" stop-color="#00abff"/><stop offset="0.5909" stop-color="#00c3ff"/><stop offset="0.6364" stop-color="#00d1ff"/><stop offset="0.6818" stop-color="#00e0ff"/><stop offset="0.7273" stop-color="#00e4ff"/><stop offset="0.7727" stop-color="#00eaff"/><stop offset="0.8182" stop-color="#00efff"/><stop offset="0.8636" stop-color="#00f6ff"/><stop offset="0.9091" stop-color="#00fdff"/><stop offset="0.9545" stop-color="#00feff"/><stop offset="1.0000" stop-color="#00ffff"/></linearGradient>
<linearGradient id="w68" gradientUnits="userSpaceOnUse" x1="35" y1="0" x2="585" y2="0"><stop offset="0.0000" stop-color="#00d7ff"/><stop offset="0.0455" stop-color="#00d7ff"/><stop offset="0.0909" stop-color="#00c6ff"/><stop offset="0.1364" stop-color="#00b2ff"/><stop offset="0.1818" stop-color="#0099ff"/><stop offset="0.2273" stop-color="#007aff"/><stop offset="0.2727" stop-color="#005aff"/><stop offset="0.3182" stop-color="#0044ff"/><stop offset="0.3636" stop-color="#003eff"/><stop offset="0.4091" stop-color="#0047ff"/><stop offset="0.4309" stop-color="#0054ff"/><stop offset="0.4545" stop-color="#0062ff"/><stop offset="0.4764" stop-color="#0082ff"/><stop offset="0.4818" stop-color="#0086ff"/><stop offset="0.5000" stop-color="#0094ff"/><stop offset="0.5218" stop-color="#00a1ff"/><stop offset="0.5455" stop-color="#00acff"/><stop offset="0.5909" stop-color="#00c4ff"/><stop offset="0.6364" stop-color="#00d2ff"/><stop offset="0.6818" stop-color="#00e2ff"/><stop offset="0.7273" stop-color="#00e6ff"/><stop offset="0.7727" stop-color="#00ebff"/><stop offset="0.8182" stop-color="#00efff"/><stop offset="0.8636" stop-color="#00f6ff"/><stop offset="0.9091" stop-color="#00fcff"/><stop offset="0.9545" stop-color="#00feff"/><stop offset="1.0000" stop-color="#00ffff"/></linearGradient>
<linearGradient id="w69" gradientUnits="userSpaceOnUse" x1="35" y1="0" x2="585" y2="0"><stop offset="0.0000" stop-color="#00d7ff"/><stop offset="0.0455" stop-color="#00d7ff"/><stop offset="0.0909" stop-color="#00c7ff"/><stop offset="0.1364" stop-color="#00b2ff"/><stop offset="0.1818" stop-color="#0099ff"/><stop offset="0.2273" stop-color="#0079ff"/><stop offset="0.2727" stop-color="#0059ff"/><stop offset="0.3182" stop-color="#0043ff"/><stop offset="0.3636" stop-color="#003dff"/><stop offset="0.4091" stop-color="#0046ff"/><stop offset="0.4309" stop-color="#0054ff"/><stop offset="0.4545" stop-color="#0063ff"/><stop offset="0.4764" stop-color="#0083ff"/><stop offset="0.4818" stop-color="#0087ff"/><stop offset="0.5000" stop-color="#0096ff"/><stop offset="0.5218" stop-color="#00a3ff"/><stop offset="0.5455" stop-color="#00acff"/><stop offset="0.5909" stop-color="#00c6ff"/><stop offset="0.6364" stop-color="#00d4ff"/><stop offset="0.6818" stop-color="#00e4ff"/><stop offset="0.7273" stop-color="#00e8ff"/><stop offset="0.7727" stop-color="#00ecff"/><stop offset="0.8182" stop-color="#00f0ff"/><stop offset="0.8636" stop-color="#00f5ff"/><stop offset="0.9091" stop-color="#00fcff"/><stop offset="0.9545" stop-color="#00fdff"/><stop offset="1.0000" stop-color="#00ffff"/></linearGradient>
<linearGradient id="w70" gradientUnits="userSpaceOnUse" x1="35" y1="0" x2="585" y2="0"><stop offset="0.0000" stop-color="#00d8ff"/><stop offset="0.0455" stop-color="#00d8ff"/><stop offset="0.0909" stop-color="#00c8ff"/><stop offset="0.1364" stop-color="#00b3ff"/><stop offset="0.1818" stop-color="#009aff"/><stop offset="0.2273" stop-color="#007bff"/><stop offset="0.2727" stop-color="#005bff"/><stop offset="0.3182" stop-color="#0044ff"/><stop offset="0.3636" stop-color="#003cff"/><stop offset="0.4091" stop-color="#0043ff"/><stop offset="0.4309" stop-color="#0050ff"/><stop offset="0.4545" stop-color="#005fff"/><stop offset="0.4764" stop-color="#0080ff"/><stop offset="0.4818" stop-color="#0085ff"/><stop offset="0.5000" stop-color="#0097ff"/><stop offset="0.5218" stop-color="#00a7ff"/><stop offset="0.5455" stop-color="#00b0ff"/><stop offset="0.5909" stop-color="#00c9ff"/><stop offset="0.6364" stop-color="#00d6ff"/><stop offset="0.6818" stop-color="#00e5ff"/><stop offset="0.7273" stop-color="#00e9ff"/><stop offset="0.7727" stop-color="#00edff"/><stop offset="0.8182" stop-color="#00f0ff"/><stop offset="0.8636" stop-color="#00f6ff"/><stop offset="0.9091" stop-color="#00fcff"/><stop offset="0.9545" stop-color="#00fdff"/><stop offset="1.0000" stop-color="#00ffff"/></linearGradient>
<linearGradient id="w71" gradientUnits="userSpaceOnUse" x1="35" y1="0" x2="585" y2="0"><stop offset="0.0000" stop-color="#00d8ff"/><stop offset="0.0455" stop-color="#00d8ff"/><stop offset="0.0909" stop-color="#00c8ff"/><stop offset="0.1364" stop-color="#00b4ff"/><stop offset="0.1818" stop-color="#009bff"/><stop offset="0.2273" stop-color="#007cff"/><stop offset="0.2727" stop-color="#005cff"/><stop offset="0.3182" stop-color="#0044ff"/><stop offset="0.3636" stop-color="#003bff"/><stop offset="0.4091" stop-color="#0040ff"/><stop offset="0.4309" stop-color="#004dff"/><stop offset="0.4545" stop-color="#005aff"/><stop offset="0.4764" stop-color="#007eff"/><stop offset="0.4818" stop-color="#0084ff"/><stop offset="0.5000" stop-color="#0098ff"/><stop offset="0.5218" stop-color="#00abff"/><stop offset="0.5455" stop-color="#00b5ff"/><stop offset="0.5909" stop-color="#00ccff"/><stop offset="0.6364" stop-color="#00d8ff"/><stop offset="0.6818" stop-color="#00e6ff"/><stop offset="0.7273" stop-color="#00eaff"/><stop offset="0.7727" stop-color="#00edff"/><stop offset="0.8182" stop-color="#00f1ff"/><stop offset="0.8636" stop-color="#00f6ff"/><stop offset="0.9091" stop-color="#00fcff"/><stop offset="0.9545" stop-color="#00fdff"/><stop offset="1.0000" stop-color="#00ffff"/></linearGradient>
<linearGradient id="w72" gradientUnits="userSpaceOnUse" x1="35" y1="0" x2="585" y2="0"><stop offset="0.0000" stop-color="#00d8ff"/><stop offset="0.0455" stop-color="#00d8ff"/><stop offset="0.0909" stop-color="#00c9ff"/><stop offset="0.1364" stop-color="#00b5ff"/><stop offset="0.1818" stop-color="#009bff"/><stop offset="0.2273" stop-color="#007eff"/><stop offset="0.2727" stop-color="#005eff"/><stop offset="0.3182" stop-color="#0045ff"/><stop offset="0.3636" stop-color="#003aff"/><stop offset="0.4091" stop-color="#003dff"/><stop offset="0.4309" stop-color="#0049ff"/><stop offset="0.4545" stop-color="#0056ff"/><stop offset="0.4764" stop-color="#007bff"/><stop offset="0.4818" stop-color="#0082ff"/><stop offset="0.5000" stop-color="#0099ff"/><stop offset="0.5218" stop-color="#00afff"/><stop offset="0.5455" stop-color="#00b9ff"/><stop offset="0.5909" stop-color="#00cfff"/><stop offset="0.6364" stop-color="#00daff"/><stop offset="0.6818" stop-color="#00e7ff"/><stop offset="0.7273" stop-color="#00ebff"/><stop offset="0.7727" stop-color="#00eeff"/><stop offset="0.8182" stop-color="#00f2ff"/><stop offset="0.8636" stop-color="#00f7ff"/><stop offset="0.9091" stop-color="#00fbff"/><stop offset="0.9545" stop-color="#00fdff"/><stop offset="1.0000" stop-color="#00ffff"/></linearGradient>
<linearGradient id="w73" gradientUnits="userSpaceOnUse" x1="35" y1="0" x2="585" y2="0"><stop offset="0.0000" stop-color="#00d8ff"/><stop offset="0.0455" stop-color="#00d8ff"/><stop offset="0.0909" stop-color="#00c9ff"/><stop offset="0.1364" stop-color="#00b6ff"/><stop offset="0.1818" stop-color="#009cff"/><stop offset="0.2273" stop-color="#007fff"/><stop offset="0.2727" stop-color="#005fff"/><stop offset="0.3182" stop-color="#0046ff"/><stop offset="0.3636" stop-color="#003aff"/><stop offset="0.4091" stop-color="#003aff"/><stop offset="0.4309" stop-color="#0045ff"/><stop offset="0.4545" stop-color="#0052ff"/><stop offset="0.4764" stop-color="#0079ff"/><stop offset="0.4818" stop-color="#0080ff"/><stop offset="0.5000" stop-color="#009aff"/><stop offset="0.5218" stop-color="#00b3ff"/><stop offset="0.5455" stop-color="#00bdff"/><stop offset="0.5909" stop-color="#00d2ff"/><stop offset="0.6364" stop-color="#00dcff"/><stop offset="0.6818" stop-color="#00e8ff"/><stop offset="0.7273" stop-color="#00ebff"/><stop offset="0.7727" stop-color="#00efff"/><stop offset="0.8182" stop-color="#00f2ff"/><stop offset="0.8636" stop-color="#00f7ff"/><stop offset="0.9091" stop-color="#00fbff"/><stop offset="0.9545" stop-color="#00fdff"/><stop offset="1.0000" stop-color="#00ffff"/></linearGradient>
<linearGradient id="w74" gradientUnits="userSpaceOnUse" x1="35" y1="0" x2="585" y2="0"><stop offset="0.0000" stop-color="#00d8ff"/><stop offset="0.0455" stop-color="#00d8ff"/><stop offset="0.0909" stop-color="#00caff"/><stop offset="0.1364" stop-color="#00b6ff"/><stop offset="0.1818" stop-color="#009dff"/><stop offset="0.2273" stop-color="#0081ff"/><stop offset="0.2727" stop-color="#0061ff"/><stop offset="0.3182" stop-color="#0047ff"/><stop offset="0.3636" stop-color="#0039ff"/><stop offset="0.4091" stop-color="#0037ff"/><stop offset="0.4309" stop-color="#0042ff"/><stop offset="0.4545" stop-color="#004eff"/><stop offset="0.4764" stop-color="#0076ff"/><stop offset="0.4818" stop-color="#007fff"/><stop offset="0.5000" stop-color="#009cff"/><stop offset="0.5218" stop-color="#00b8ff"/><stop offset="0.5455" stop-color="#00c1ff"/><stop offset="0.5909" stop-color="#00d5ff"/><stop offset="0.6364" stop-color="#00deff"/><stop offset="0.6818" stop-color="#00e9ff"/><stop offset="0.7273" stop-color="#00ecff"/><stop offset="0.7727" stop-color="#00f0ff"/><stop offset="0.8182" stop-color="#00f3ff"/><stop offset="0.8636" stop-color="#00f7ff"/><stop offset="0.9091" stop-color="#00fbff"/><stop offset="0.9545" stop-color="#00fdff"/><stop offset="1.0000" stop-color="#00ffff"/></linearGradient>
<linearGradient id="w75" gradientUnits="userSpaceOnUse" x1="35" y1="0" x2="585" y2="0"><stop offset="0.0000" stop-color="#00d8ff"/><stop offset="0.0455" stop-color="#00d8ff"/><stop offset="0.0909" stop-color="#00cbff"/><stop offset="0.1364" stop-color="#00b7ff"/><stop offset="0.1818" stop-color="#009eff"/><stop offset="0.2273" stop-color="#0082ff"/><stop offset="0.2727" stop-color="#0062ff"/><stop offset="0.3182" stop-color="#0048ff"/><stop offset="0.3636" stop-color="#0038ff"/><stop offset="0.4091" stop-color="#0034ff"/><stop offset="0.4309" stop-color="#003eff"/><stop offset="0.4545" stop-color="#004aff"/><stop offset="0.4764" stop-color="#0074ff"/><stop offset="0.4818" stop-color="#007dff"/><stop offset="0.5000" stop-color="#009dff"/><stop offset="0.5218" stop-color="#00bcff"/><stop offset="0.5455" stop-color="#00c5ff"/><stop offset="0.5909" stop-color="#00d8ff"/><stop offset="0.6364" stop-color="#00e1ff"/><stop offset="0.6818" stop-color="#00eaff"/><stop offset="0.7273" stop-color="#00edff"/><stop offset="0.7727" stop-color="#00f0ff"/><stop offset="0.8182" stop-color="#00f4ff"/><stop offset="0.8636" stop-color="#00f8ff"/><stop offset="0.9091" stop-color="#00fbff"/><stop offset="0.9545" stop-color="#00fdff"/><stop offset="1.0000" stop-color="#00ffff"/></linearGradient>
<linearGradient id="w76" gradientUnits="userSpaceOnUse" x1="35" y1="0" x2="585" y2="0"><stop offset="0.0000" stop-color="#00d9ff"/><stop offset="0.0455" stop-color="#00d9ff"/><stop offset="0.0909" stop-color="#00cbff"/><stop offset="0.1364" stop-color="#00b8ff"/><stop offset="0.1818" stop-color="#009eff"/><stop offset="0.2273" stop-color="#0084ff"/><stop offset="0.2727" stop-color="#0064ff"/><stop offset="0.3182" stop-color="#0048ff"/><stop offset="0.3636" stop-color="#0037ff"/><stop offset="0.4091" stop-color="#0031ff"/><stop offset="0.4309" stop-color="#003bff"/><stop offset="0.4545" stop-color="#0045ff"/><stop offset="0.4764" stop-color="#0071ff"/><stop offset="0.4818" stop-color="#007bff"/><stop offset="0.5000" stop-color="#009eff"/><stop offset="0.5218" stop-color="#00c0ff"/><stop offset="0.5455" stop-color="#00caff"/><stop offset="0.5909" stop-color="#00dbff"/><stop offset="0.6364" stop-color="#00e3ff"/><stop offset="0.6818" stop-color="#00ebff"/><stop offset="0.7273" stop-color="#00eeff"/><stop offset="0.7727" stop-color="#00f1ff"/><stop offset="0.8182" stop-color="#00f5ff"/><stop offset="0.8636" stop-color="#00f8ff"/><stop offset="0.9091" stop-color="#00fbff"/><stop offset="0.9545" stop-color="#00fdff"/><stop offset="1.0000" stop-color="#00ffff"/></linearGradient>
<linearGradient id="w77" gradientUnits="userSpaceOnUse" x1="35" y1="0" x2="585" y2="0"><stop offset="0.0000" stop-color="#00d9ff"/><stop offset="0.0455" stop-color="#00d9ff"/><stop offset="0.0909" stop-color="#00ccff"/><stop offset="0.1364" stop-color="#00b9ff"/><stop offset="0.1818" stop-color="#009fff"/><stop offset="0.2273" stop-color="#0085ff"/><stop offset="0.2727" stop-color="#0065ff"/><stop offset="0.3182" stop-color="#0049ff"/><stop offset="0.3636" stop-color="#0036ff"/><stop offset="0.4091" stop-color="#002eff"/><stop offset="0.4309" stop-color="#0037ff"/><stop offset="0.4545" stop-color="#0041ff"/><stop offset="0.4764" stop-color="#006eff"/><stop offset="0.4818" stop-color="#007aff"/><stop offset="0.5000" stop-color="#009fff"/><stop offset="0.5218" stop-color="#00c4ff"/><stop offset="0.5455" stop-color="#00ceff"/><stop offset="0.5909" stop-color="#00deff"/><stop offset="0.6364" stop-color="#00e5ff"/><stop offset="0.6818" stop-color="#00ecff"/><stop offset="0.7273" stop-color="#00efff"/><stop offset="0.7727" stop-color="#00f2ff"/><stop offset="0.8182" stop-color="#00f5ff"/><stop offset="0.8636" stop-color="#00f8ff"/><stop offset="0.9091" stop-color="#00fbff"/><stop offset="0.9545" stop-color="#00fdff"/><stop offset="1.0000" stop-color="#00ffff"/></linearGradient>
<linearGradient id="w78" gradientUnits="userSpaceOnUse" x1="35" y1="0" x2="585" y2="0"><stop offset="0.0000" stop-color="#00d9ff"/><stop offset="0.0455" stop-color="#00d9ff"/><stop offset="0.0909" stop-color="#00cdff"/><stop offset="0.1364" stop-color="#00baff"/><stop offset="0.1818" stop-color="#00a1ff"/><stop offset="0.2273" stop-color="#0087ff"/><stop offset="0.2727" stop-color="#0067ff"/><stop offset="0.3182" stop-color="#004bff"/><stop offset="0.3636" stop-color="#0037ff"/><stop offset="0.4091" stop-color="#002dff"/><stop offset="0.4309" stop-color="#0034ff"/><stop offset="0.4545" stop-color="#0041ff"/><stop offset="0.4764" stop-color="#006fff"/><stop offset="0.4818" stop-color="#007bff"/><stop offset="0.5000" stop-color="#00a1ff"/><stop offset="0.5218" stop-color="#00c9ff"/><stop offset="0.5455" stop-color="#00d1ff"/><stop offset="0.5909" stop-color="#00e0ff"/><stop offset="0.6364" stop-color="#00e7ff"/><stop offset="0.6818" stop-color="#00edff"/><stop offset="0.7273" stop-color="#00f0ff"/><stop offset="0.7727" stop-color="#00f3ff"/><stop offset="0.8182" stop-color="#00f6ff"/><stop offset="0.8636" stop-color="#00f9ff"/><stop offset="0.9091" stop-color="#00fbff"/><stop offset="0.9545" stop-color="#00fdff"/><stop offset="1.0000" stop-color="#00ffff"/></linearGradient>
<linearGradient id="w79" gradientUnits="userSpaceOnUse" x1="35" y1="0" x2="585" y2="0"><stop offset="0.0000" stop-color="#00daff"/><stop offset="0.0455" stop-color="#00daff"/><stop offset="0.0909" stop-color="#00ceff"/><stop offset="0.1364" stop-color="#00bbff"/><stop offset="0.1818" stop-color="#00a2ff"/><stop offset="0.2273" stop-color="#0089ff"/><stop offset="0.2727" stop-color="#006aff"/><stop offset="0.3182" stop-color="#004cff"/><stop offset="0.3636" stop-color="#0038ff"/><stop offset="0.4091" stop-color="#002dff"/><stop offset="0.4309" stop-color="#0031ff"/><stop offset="0.4545" stop-color="#0043ff"/><stop offset="0.4764" stop-color="#0071ff"/><stop offset="0.4818" stop-color="#007dff"/><stop offset="0.5000" stop-color="#00a4ff"/><stop offset="0.5218" stop-color="#00cdff"/><stop offset="0.5455" stop-color="#00d4ff"/><stop offset="0.5909" stop-color="#00e2ff"/><stop offset="0.6364" stop-color="#00e8ff"/><stop offset="0.6818" stop-color="#00eeff"/><stop offset="0.7273" stop-color="#00f2ff"/><stop offset="0.7727" stop-color="#00f5ff"/><stop offset="0.8182" stop-color="#00f7ff"/><stop offset="0.8636" stop-color="#00faff"/><stop offset="0.9091" stop-color="#00fcff"/><stop offset="0.9545" stop-color="#00fdff"/><stop offset="1.0000" stop-color="#00ffff"/></linearGradient>
<linearGradient id="w80" gradientUnits="userSpaceOnUse" x1="35" y1="0" x2="585" y2="0"><stop offset="0.0000" stop-color="#00dbff"/><stop offset="0.0455" stop-color="#00dbff"/><stop offset="0.0909" stop-color="#00cfff"/><stop offset="0.1364" stop-color="#00bdff"/><stop offset="0.1818" stop-color="#00a4ff"/><stop offset="0.2273" stop-color="#008bff"/><stop offset="0.2727" stop-color="#006cff"/><stop offset="0.3182" stop-color="#004eff"/><stop offset="0.3636" stop-color="#0039ff"/><stop offset="0.4091" stop-color="#002dff"/><stop offset="0.4309" stop-color="#002fff"/><stop offset="0.4545" stop-color="#0045ff"/><stop offset="0.4764" stop-color="#0073ff"/><stop offset="0.4818" stop-color="#007fff"/><stop offset="0.5000" stop-color="#00a7ff"/><stop offset="0.5218" stop-color="#00d2ff"/><stop offset="0.5455" stop-color="#00d7ff"/><stop offset="0.5909" stop-color="#00e4ff"/><stop offset="0.6364" stop-color="#00eaff"/><stop offset="0.6818" stop-color="#00efff"/><stop offset="0.7273" stop-color="#00f4ff"/><stop offset="0.7727" stop-color="#00f6ff"/><stop offset="0.8182" stop-color="#00f8ff"/><stop offset="0.8636" stop-color="#00fbff"/><stop offset="0.9091" stop-color="#00fcff"/><stop offset="0.9545" stop-color="#00feff"/><stop offset="1.0000" stop-color="#00ffff"/></linearGradient>
<linearGradient id="w81" gradientUnits="userSpaceOnUse" x1="35" y1="0" x2="585" y2="0"><stop offset="0.0000" stop-color="#00dcff"/><stop offset="0.0455" stop-color="#00dcff"/><stop offset="0.0909" stop-color="#00d0ff"/><stop offset="0.1364" stop-color="#00beff"/><stop offset="0.1818" stop-color="#00a6ff"/><stop offset="0.2273" stop-color="#008dff"/><stop offset="0.2727" stop-color="#006eff"/><stop offset="0.3182" stop-color="#0050ff"/><stop offset="0.3636" stop-color="#003aff"/><stop offset="0.4091" stop-color="#002dff"/><stop offset="0.4309" stop-color="#002cff"/><stop offset="0.4545" stop-color="#0048ff"/><stop offset="0.4764" stop-color="#0076ff"/><stop offset="0.4818" stop-color="#0082ff"/><stop offset="0.5000" stop-color="#00aaff"/><stop offset="0.5218" stop-color="#00d6ff"/><stop offset="0.5455" stop-color="#00daff"/><stop offset="0.5909" stop-color="#00e6ff"/><stop offset="0.6364" stop-color="#00ebff"/><stop offset="0.6818" stop-color="#00f0ff"/><stop offset="0.7273" stop-color="#00f6ff"/><stop offset="0.7727" stop-color="#00f8ff"/><stop offset="0.8182" stop-color="#00faff"/><stop offset="0.8636" stop-color="#00fbff"/><stop offset="0.9091" stop-color="#00fdff"/><stop offset="0.9545" stop-color="#00feff"/><stop offset="1.0000" stop-color="#00ffff"/></linearGradient>
<linearGradient id="w82" gradientUnits="userSpaceOnUse" x1="35" y1="0" x2="585" y2="0"><stop offset="0.0000" stop-color="#00ddff"/><stop offset="0.0455" stop-color="#00ddff"/><stop offset="0.0909" stop-color="#00d1ff"/><stop offset="0.1364" stop-color="#00bfff"/><stop offset="0.1818" stop-color="#00a8ff"/><stop offset="0.2273" stop-color="#008fff"/><stop offset="0.2727" stop-color="#0070ff"/><stop offset="0.3182" stop-color="#0052ff"/><stop offset="0.3636" stop-color="#003cff"/><stop offset="0.4091" stop-color="#002dff"/><stop offset="0.4309" stop-color="#002aff"/><stop offset="0.4545" stop-color="#004aff"/><stop offset="0.4764" stop-color="#0078ff"/><stop offset="0.4818" stop-color="#0084ff"/><stop offset="0.5000" stop-color="#00adff"/><stop offset="0.5218" stop-color="#00dbff"/><stop offset="0.5455" stop-color="#00ddff"/><stop offset="0.5909" stop-color="#00e8ff"/><stop offset="0.6364" stop-color="#00edff"/><stop offset="0.6818" stop-color="#00f1ff"/><stop offset="0.7273" stop-color="#00f8ff"/><stop offset="0.7727" stop-color="#00f9ff"/><stop offset="0.8182" stop-color="#00fbff"/><stop offset="0.8636" stop-color="#00fcff"/><stop offset="0.9091" stop-color="#00fdff"/><stop offset="0.9545" stop-color="#00feff"/><stop offset="1.0000" stop-color="#00ffff"/></linearGradient>
<linearGradient id="w83" gradientUnits="userSpaceOnUse" x1="35" y1="0" x2="585" y2="0"><stop offset="0.0000" stop-color="#00deff"/><stop offset="0.0455" stop-color="#00deff"/><stop offset="0.0909" stop-color="#00d3ff"/><stop offset="0.1364" stop-color="#00c1ff"/><stop offset="0.1818" stop-color="#00a9ff"/><stop offset="0.2273" stop-color="#0091ff"/><stop offset="0.2727" stop-color="#0072ff"/><stop offset="0.3182" stop-color="#0054ff"/><stop offset="0.3636" stop-color="#003dff"/><stop offset="0.4091" stop-color="#002dff"/><stop offset="0.4309" stop-color="#0027ff"/><stop offset="0.4545" stop-color="#004cff"/><stop offset="0.4764" stop-color="#007aff"/><stop offset="0.4818" stop-color="#0086ff"/><stop offset="0.5000" stop-color="#00b0ff"/><stop offset="0.5218" stop-color="#00e0ff"/><stop offset="0.5455" stop-color="#00e1ff"/><stop offset="0.5909" stop-color="#00eaff"/><stop offset="0.6364" stop-color="#00eeff"/><stop offset="0.6818" stop-color="#00f2ff"/><stop offset="0.7273" stop-color="#00faff"/><stop offset="0.7727" stop-color="#00fbff"/><stop offset="0.8182" stop-color="#00fcff"/><stop offset="0.8636" stop-color="#00fdff"/><stop offset="0.9091" stop-color="#00feff"/><stop offset="0.9545" stop-color="#00feff"/><stop offset="1.0000" stop-color="#00ffff"/></linearGradient>
<linearGradient id="w84" gradientUnits="userSpaceOnUse" x1="35" y1="0" x2="585" y2="0"><stop offset="0.0000" stop-color="#00dfff"/><stop offset="0.0455" stop-color="#00dfff"/><stop offset="0.0909" stop-color="#00d4ff"/><stop offset="0.1364" stop-color="#00c2ff"/><stop offset="0.1818" stop-color="#00abff"/><stop offset="0.2273" stop-color="#0093ff"/><stop offset="0.2727" stop-color="#0074ff"/><stop offset="0.3182" stop-color="#0056ff"/><stop offset="0.3636" stop-color="#003eff"/><stop offset="0.4091" stop-color="#002dff"/><stop offset="0.4309" stop-color="#0024ff"/><stop offset="0.4545" stop-color="#004eff"/><stop offset="0.4764" stop-color="#007cff"/><stop offset="0.4818" stop-color="#0089ff"/><stop offset="0.5000" stop-color="#00b3ff"/><stop offset="0.5218" stop-color="#00e4ff"/><stop offset="0.5455" stop-color="#00e4ff"/><stop offset="0.5909" stop-color="#00ecff"/><stop offset="0.6364" stop-color="#00f0ff"/><stop offset="0.6818" stop-color="#00f4ff"/><stop offset="0.7273" stop-color="#00fcff"/><stop offset="0.7727" stop-color="#00fcff"/><stop offset="0.8182" stop-color="#00fdff"/><stop offset="0.8636" stop-color="#00feff"/><stop offset="0.9091" stop-color="#00feff"/><stop offset="0.9545" stop-color="#00ffff"/><stop offset="1.0000" stop-color="#00ffff"/></linearGradient>
<linearGradient id="w85" gradientUnits="userSpaceOnUse" x1="35" y1="0" x2="585" y2="0"><stop offset="0.0000" stop-color="#00e0ff"/><stop offset="0.0455" stop-color="#00e0ff"/><stop offset="0.0909" stop-color="#00d5ff"/><stop offset="0.1364" stop-color="#00c3ff"/><stop offset="0.1818" stop-color="#00adff"/><stop offset="0.2273" stop-color="#0095ff"/><stop offset="0.2727" stop-color="#0076ff"/><stop offset="0.3182" stop-color="#0058ff"/><stop offset="0.3636" stop-color="#003fff"/><stop offset="0.4091" stop-color="#002dff"/><stop offset="0.4309" stop-color="#0022ff"/><stop offset="0.4545" stop-color="#0050ff"/><stop offset="0.4764" stop-color="#007eff"/><stop offset="0.4818" stop-color="#008bff"/><stop offset="0.5000" stop-color="#00b6ff"/><stop offset="0.5218" stop-color="#00e9ff"/><stop offset="0.5455" stop-color="#00e7ff"/><stop offset="0.5909" stop-color="#00eeff"/><stop offset="0.6364" stop-color="#00f1ff"/><stop offset="0.6818" stop-color="#00f5ff"/><stop offset="0.7273" stop-color="#00feff"/><stop offset="0.7727" stop-color="#00feff"/><stop offset="0.8182" stop-color="#00feff"/><stop offset="0.8636" stop-color="#00feff"/><stop offset="0.9091" stop-color="#00ffff"/><stop offset="0.9545" stop-color="#00ffff"/><stop offset="1.0000" stop-color="#00ffff"/></linearGradient>
<linearGradient id="w86" gradientUnits="userSpaceOnUse" x1="35" y1="0" x2="585" y2="0"><stop offset="0.0000" stop-color="#00e1ff"/><stop offset="0.0455" stop-color="#00e1ff"/><stop offset="0.0909" stop-color="#00d6ff"/><stop offset="0.1364" stop-color="#00c5ff"/><stop offset="0.1818" stop-color="#00aeff"/><stop offset="0.2273" stop-color="#0096ff"/><stop offset="0.2727" stop-color="#0078ff"/><stop offset="0.3182" stop-color="#005aff"/><stop offset="0.3636" stop-color="#0040ff"/><stop offset="0.4091" stop-color="#002dff"/><stop offset="0.4309" stop-color="#0020ff"/><stop offset="0.4545" stop-color="#004fff"/><stop offset="0.4764" stop-color="#007eff"/><stop offset="0.4818" stop-color="#008cff"/><stop offset="0.5000" stop-color="#00b8ff"/><stop offset="0.5218" stop-color="#00ecff"/><stop offset="0.5455" stop-color="#00e9ff"/><stop offset="0.5909" stop-color="#00efff"/><stop offset="0.6364" stop-color="#00f2ff"/><stop offset="0.6818" stop-color="#00f6ff"/><stop offset="0.7273" stop-color="#00ffff"/><stop offset="0.7727" stop-color="#00ffff"/><stop offset="0.8182" stop-color="#00ffff"/><stop offset="0.8636" stop-color="#00ffff"/><stop offset="0.9091" stop-color="#00ffff"/><stop offset="0.9545" stop-color="#00ffff"/><stop offset="1.0000" stop-color="#00ffff"/></linearGradient>
<linearGradient id="w87" gradientUnits="userSpaceOnUse" x1="35" y1="0" x2="585" y2="0"><stop offset="0.0000" stop-color="#00e2ff"/><stop offset="0.0455" stop-color="#00e2ff"/><stop offset="0.0909" stop-color="#00d7ff"/><stop offset="0.1364" stop-color="#00c6ff"/><stop offset="0.1818" stop-color="#00b0ff"/><stop offset="0.2273" stop-color="#0097ff"/><stop offset="0.2727" stop-color="#0079ff"/><stop offset="0.3182" stop-color="#005aff"/><stop offset="0.3636" stop-color="#0040ff"/><stop offset="0.4091" stop-color="#002dff"/><stop offset="0.4309" stop-color="#001fff"/><stop offset="0.4545" stop-color="#0047ff"/><stop offset="0.4764" stop-color="#007bff"/><stop offset="0.4818" stop-color="#0089ff"/><stop offset="0.5000" stop-color="#00b9ff"/><stop offset="0.5218" stop-color="#00edff"/><stop offset="0.5455" stop-color="#00ebff"/><stop offset="0.5909" stop-color="#00f0ff"/><stop offset="0.6364" stop-color="#00f3ff"/><stop offset="0.6818" stop-color="#00f6ff"/><stop offset="0.7273" stop-color="#00ffff"/><stop offset="0.7727" stop-color="#00ffff"/><stop offset="0.8182" stop-color="#00ffff"/><stop offset="0.8636" stop-color="#00ffff"/><stop offset="0.9091" stop-color="#00ffff"/><stop offset="0.9545" stop-color="#00ffff"/><stop offset="1.0000" stop-color="#00ffff"/></linearGradient>
<linearGradient id="w88" gradientUnits="userSpaceOnUse" x1="35" y1="0" x2="585" y2="0"><stop offset="0.0000" stop-color="#00e3ff"/><stop offset="0.0455" stop-color="#00e3ff"/><stop offset="0.0909" stop-color="#00d8ff"/><stop offset="0.1364" stop-color="#00c7ff"/><stop offset="0.1818" stop-color="#00b1ff"/><stop offset="0.2273" stop-color="#0098ff"/><stop offset="0.2727" stop-color="#007aff"/><stop offset="0.3182" stop-color="#005bff"/><stop offset="0.3636" stop-color="#0041ff"/><stop offset="0.4091" stop-color="#002eff"/><stop offset="0.4309" stop-color="#001fff"/><stop offset="0.4545" stop-color="#003eff"/><stop offset="0.4764" stop-color="#0077ff"/><stop offset="0.4818" stop-color="#0087ff"/><stop offset="0.5000" stop-color="#00baff"/><stop offset="0.5218" stop-color="#00efff"/><stop offset="0.5455" stop-color="#00ecff"/><stop offset="0.5909" stop-color="#00f1ff"/><stop offset="0.6364" stop-color="#00f4ff"/><stop offset="0.6818" stop-color="#00f6ff"/><stop offset="0.7273" stop-color="#00ffff"/><stop offset="0.7727" stop-color="#00ffff"/><stop offset="0.8182" stop-color="#00ffff"/><stop offset="0.8636" stop-color="#00ffff"/><stop offset="0.9091" stop-color="#00ffff"/><stop offset="0.9545" stop-color="#00ffff"/><stop offset="1.0000" stop-color="#00ffff"/></linearGradient>
<linearGradient id="w89" gradientUnits="userSpaceOnUse" x1="35" y1="0" x2="585" y2="0"><stop offset="0.0000" stop-color="#00e3ff"/><stop offset="0.0455" stop-color="#00e3ff"/><stop offset="0.0909" stop-color="#00d9ff"/><stop offset="0.1364" stop-color="#00c8ff"/><stop offset="0.1818" stop-color="#00b2ff"/><stop offset="0.2273" stop-color="#0098ff"/><stop offset="0.2727" stop-color="#007bff"/><stop offset="0.3182" stop-color="#005cff"/><stop offset="0.3636" stop-color="#0041ff"/><stop offset="0.4091" stop-color="#002eff"/><stop offset="0.4309" stop-color="#001fff"/><stop offset="0.4545" stop-color="#0036ff"/><stop offset="0.4764" stop-color="#0074ff"/><stop offset="0.4818" stop-color="#0084ff"/><stop offset="0.5000" stop-color="#00bbff"/><stop offset="0.5218" stop-color="#00f0ff"/><stop offset="0.5455" stop-color="#00eeff"/><stop offset="0.5909" stop-color="#00f2ff"/><stop offset="0.6364" stop-color="#00f4ff"/><stop offset="0.6818" stop-color="#00f7ff"/><stop offset="0.7273" stop-color="#00ffff"/><stop offset="0.7727" stop-color="#00ffff"/><stop offset="0.8182" stop-color="#00ffff"/><stop offset="0.8636" stop-color="#00ffff"/><stop offset="0.9091" stop-color="#00ffff"/><stop offset="0.9545" stop-color="#00ffff"/><stop offset="1.0000" stop-color="#00ffff"/></linearGradient>
<linearGradient id="w90" gradientUnits="userSpaceOnUse" x1="35" y1="0" x2="585" y2="0"><stop offset="0.0000" stop-color="#00e4ff"/><stop offset="0.0455" stop-color="#00e4ff"/><stop offset="0.0909" stop-color="#00daff"/><stop offset="0.1364" stop-color="#00c9ff"/><stop offset="0.1818" stop-color="#00b4ff"/><stop offset="0.2273" stop-color="#0099ff"/><stop offset="0.2727" stop-color="#007cff"/><stop offset="0.3182" stop-color="#005dff"/><stop offset="0.3636" stop-color="#0041ff"/><stop offset="0.4091" stop-color="#002eff"/><stop offset="0.4309" stop-color="#001eff"/><stop offset="0.4545" stop-color="#002eff"/><stop offset="0.4764" stop-color="#0070ff"/><stop offset="0.4818" stop-color="#0082ff"/><stop offset="0.5000" stop-color="#00bcff"/><stop offset="0.5218" stop-color="#00f1ff"/><stop offset="0.5455" stop-color="#00efff"/><stop offset="0.5909" stop-color="#00f2ff"/><stop offset="0.6364" stop-color="#00f5ff"/><stop offset="0.6818" stop-color="#00f7ff"/><stop offset="0.7273" stop-color="#00ffff"/><stop offset="0.7727" stop-color="#00ffff"/><stop offset="0.8182" stop-color="#00ffff"/><stop offset="0.8636" stop-color="#00ffff"/><stop offset="0.9091" stop-color="#00ffff"/><stop offset="0.9545" stop-color="#00ffff"/><stop offset="1.0000" stop-color="#00ffff"/></linearGradient>
<linearGradient id="w91" gradientUnits="userSpaceOnUse" x1="35" y1="0" x2="585" y2="0"><stop offset="0.0000" stop-color="#00e5ff"/><stop offset="0.0455" stop-color="#00e5ff"/><stop offset="0.0909" stop-color="#00daff"/><stop offset="0.1364" stop-color="#00caff"/><stop offset="0.1818" stop-color="#00b5ff"/><stop offset="0.2273" stop-color="#009aff"/><stop offset="0.2727" stop-color="#007dff"/><stop offset="0.3182" stop-color="#005dff"/><stop offset="0.3636" stop-color="#0042ff"/><stop offset="0.4091" stop-color="#002fff"/><stop offset="0.4309" stop-color="#001eff"/><stop offset="0.4545" stop-color="#0026ff"/><stop offset="0.4764" stop-color="#006dff"/><stop offset="0.4818" stop-color="#007fff"/><stop offset="0.5000" stop-color="#00bdff"/><stop offset="0.5218" stop-color="#00f2ff"/><stop offset="0.5455" stop-color="#00f1ff"/><stop offset="0.5909" stop-color="#00f3ff"/><stop offset="0.6364" stop-color="#00f6ff"/><stop offset="0.6818" stop-color="#00f7ff"/><stop offset="0.7273" stop-color="#00ffff"/><stop offset="0.7727" stop-color="#00ffff"/><stop offset="0.8182" stop-color="#00ffff"/><stop offset="0.8636" stop-color="#00ffff"/><stop offset="0.9091" stop-color="#00ffff"/><stop offset="0.9545" stop-color="#00ffff"/><stop offset="1.0000" stop-color="#00ffff"/></linearGradient>
<linearGradient id="w92" gradientUnits="userSpaceOnUse" x1="35" y1="0" x2="585" y2="0"><stop offset="0.0000" stop-color="#00e5ff"/><stop offset="0.0455" stop-color="#00e5ff"/><stop offset="0.0909" stop-color="#00dbff"/><stop offset="0.1364" stop-color="#00cbff"/><stop offset="0.1818" stop-color="#00b6ff"/><stop offset="0.2273" stop-color="#009bff"/><stop offset="0.2727" stop-color="#007eff"/><stop offset="0.3182" stop-color="#005eff"/><stop offset="0.3636" stop-color="#0042ff"/><stop offset="0.4091" stop-color="#002fff"/><stop offset="0.4309" stop-color="#001dff"/><stop offset="0.4545" stop-color="#001dff"/><stop offset="0.4764" stop-color="#0069ff"/><stop offset="0.4818" stop-color="#007dff"/><stop offset="0.5000" stop-color="#00bdff"/><stop offset="0.5218" stop-color="#00f3ff"/><stop offset="0.5455" stop-color="#00f2ff"/><stop offset="0.5909" stop-color="#00f4ff"/><stop offset="0.6364" stop-color="#00f6ff"/><stop offset="0.6818" stop-color="#00f8ff"/><stop offset="0.7273" stop-color="#00ffff"/><stop offset="0.7727" stop-color="#00ffff"/><stop offset="0.8182" stop-color="#00ffff"/><stop offset="0.8636" stop-color="#00ffff"/><stop offset="0.9091" stop-color="#00ffff"/><stop offset="0.9545" stop-color="#00ffff"/><stop offset="1.0000" stop-color="#00ffff"/></linearGradient>
<linearGradient id="w93" gradientUnits="userSpaceOnUse" x1="35" y1="0" x2="585" y2="0"><stop offset="0.0000" stop-color="#00e6ff"/><stop offset="0.0455" stop-color="#00e6ff"/><stop offset="0.0909" stop-color="#00dcff"/><stop offset="0.1364" stop-color="#00ccff"/><stop offset="0.1818" stop-color="#00b8ff"/><stop offset="0.2273" stop-color="#009bff"/><stop offset="0.2727" stop-color="#007fff"/><stop offset="0.3182" stop-color="#005fff"/><stop offset="0.3636" stop-color="#0043ff"/><stop offset="0.4091" stop-color="#002fff"/><stop offset="0.4309" stop-color="#001dff"/><stop offset="0.4545" stop-color="#0015ff"/><stop offset="0.4764" stop-color="#0066ff"/><stop offset="0.4818" stop-color="#007aff"/><stop offset="0.5000" stop-color="#00beff"/><stop offset="0.5218" stop-color="#00f4ff"/><stop offset="0.5455" stop-color="#00f4ff"/><stop offset="0.5909" stop-color="#00f5ff"/><stop offset="0.6364" stop-color="#00f7ff"/><stop offset="0.6818" stop-color="#00f8ff"/><stop offset="0.7273" stop-color="#00ffff"/><stop offset="0.7727" stop-color="#00ffff"/><stop offset="0.8182" stop-color="#00ffff"/><stop offset="0.8636" stop-color="#00ffff"/><stop offset="0.9091" stop-color="#00ffff"/><stop offset="0.9545" stop-color="#00ffff"/><stop offset="1.0000" stop-color="#00ffff"/></linearGradient>
<linearGradient id="w94" gradientUnits="userSpaceOnUse" x1="35" y1="0" x2="585" y2="0"><stop offset="0.0000" stop-color="#00e7ff"/><stop offset="0.0455" stop-color="#00e7ff"/><stop offset="0.0909" stop-color="#00ddff"/><stop offset="0.1364" stop-color="#00cdff"/><stop offset="0.1818" stop-color="#00b9ff"/><stop offset="0.2273" stop-color="#009cff"/><stop offset="0.2727" stop-color="#0080ff"/><stop offset="0.3182" stop-color="#0060ff"/><stop offset="0.3636" stop-color="#0043ff"/><stop offset="0.4091" stop-color="#0030ff"/><stop offset="0.4309" stop-color="#001dff"/><stop offset="0.4545" stop-color="#000dff"/><stop offset="0.4764" stop-color="#0062ff"/><stop offset="0.4818" stop-color="#0078ff"/><stop offset="0.5000" stop-color="#00bfff"/><stop offset="0.5218" stop-color="#00f5ff"/><stop offset="0.5455" stop-color="#00f5ff"/><stop offset="0.5909" stop-color="#00f5ff"/><stop offset="0.6364" stop-color="#00f7ff"/><stop offset="0.6818" stop-color="#00f9ff"/><stop offset="0.7273" stop-color="#00ffff"/><stop offset="0.7727" stop-color="#00ffff"/><stop offset="0.8182" stop-color="#00ffff"/><stop offset="0.8636" stop-color="#00ffff"/><stop offset="0.9091" stop-color="#00ffff"/><stop offset="0.9545" stop-color="#00ffff"/><stop offset="1.0000" stop-color="#00ffff"/></linearGradient>
<linearGradient id="w95" gradientUnits="userSpaceOnUse" x1="35" y1="0" x2="585" y2="0"><stop offset="0.0000" stop-color="#00e7ff"/><stop offset="0.0455" stop-color="#00e7ff"/><stop offset="0.0909" stop-color="#00deff"/><stop offset="0.1364" stop-color="#00ceff"/><stop offset="0.1818" stop-color="#00baff"/><stop offset="0.2273" stop-color="#009dff"/><stop offset="0.2727" stop-color="#0081ff"/><stop offset="0.3182" stop-color="#0061ff"/><stop offset="0.3636" stop-color="#0044ff"/><stop offset="0.4091" stop-color="#0030ff"/><stop offset="0.4309" stop-color="#001dff"/><stop offset="0.4545" stop-color="#000dff"/><stop offset="0.4764" stop-color="#0062ff"/><stop offset="0.4818" stop-color="#0078ff"/><stop offset="0.5000" stop-color="#00bfff"/><stop offset="0.5218" stop-color="#00f6ff"/><stop offset="0.5455" stop-color="#00f6ff"/><stop offset="0.5909" stop-color="#00f6ff"/><stop offset="0.6364" stop-color="#00f8ff"/><stop offset="0.6818" stop-color="#00f9ff"/><stop offset="0.7273" stop-color="#02fdfd"/><stop offset="0.7727" stop-color="#03fcfc"/><stop offset="0.8182" stop-color="#03fcfc"/><stop offset="0.8636" stop-color="#03fcfc"/><stop offset="0.9091" stop-color="#02fdfd"/><stop offset="0.9545" stop-color="#02fdfd"/><stop offset="1.0000" stop-color="#02fdfd"/></linearGradient>
<linearGradient id="w96" gradientUnits="userSpaceOnUse" x1="35" y1="0" x2="585" y2="0"><stop offset="0.0000" stop-color="#00e8ff"/><stop offset="0.0455" stop-color="#00e8ff"/><stop offset="0.0909" stop-color="#00deff"/><stop offset="0.1364" stop-color="#00ceff"/><stop offset="0.1818" stop-color="#00baff"/><stop offset="0.2273" stop-color="#009eff"/><stop offset="0.2727" stop-color="#0082ff"/><stop offset="0.3182" stop-color="#0062ff"/><stop offset="0.3636" stop-color="#0045ff"/><stop offset="0.4091" stop-color="#0031ff"/><stop offset="0.4309" stop-color="#001dff"/><stop offset="0.4545" stop-color="#000dff"/><stop offset="0.4764" stop-color="#0062ff"/><stop offset="0.4818" stop-color="#0078ff"/><stop offset="0.5000" stop-color="#00bfff"/><stop offset="0.5218" stop-color="#00f6ff"/><stop offset="0.5455" stop-color="#00f7ff"/><stop offset="0.5909" stop-color="#00f7ff"/><stop offset="0.6364" stop-color="#00f8ff"/><stop offset="0.6818" stop-color="#00faff"/><stop offset="0.7273" stop-color="#05fafa"/><stop offset="0.7727" stop-color="#05fafa"/><stop offset="0.8182" stop-color="#05fafa"/><stop offset="0.8636" stop-color="#05fafa"/><stop offset="0.9091" stop-color="#05fafa"/><stop offset="0.9545" stop-color="#05fafa"/><stop offset="1.0000" stop-color="#05fafa"/></linearGradient>
<linearGradient id="w97" gradientUnits="userSpaceOnUse" x1="35" y1="0" x2="585" y2="0"><stop offset="0.0000" stop-color="#00e9ff"/><stop offset="0.0455" stop-color="#00e9ff"/><stop offset="0.0909" stop-color="#00dfff"/><stop offset="0.1364" stop-color="#00cfff"/><stop offset="0.1818" stop-color="#00bbff"/><stop offset="0.2273" stop-color="#00a0ff"/><stop offset="0.2727" stop-color="#0083ff"/><stop offset="0.3182" stop-color="#0063ff"/><stop offset="0.3636" stop-color="#0046ff"/><stop offset="0.4091" stop-color="#0031ff"/><stop offset="0.4309" stop-color="#001eff"/><stop offset="0.4545" stop-color="#000dff"/><stop offset="0.4764" stop-color="#0062ff"/><stop offset="0.4818" stop-color="#0078ff"/><stop offset="0.5000" stop-color="#00bfff"/><stop offset="0.5218" stop-color="#00f6ff"/><stop offset="0.5455" stop-color="#00f7ff"/><stop offset="0.5909" stop-color="#00f7ff"/><stop offset="0.6364" stop-color="#00f9ff"/><stop offset="0.6818" stop-color="#00faff"/><stop offset="0.7273" stop-color="#07f8f8"/><stop offset="0.7727" stop-color="#08f7f7"/><stop offset="0.8182" stop-color="#08f7f7"/><stop offset="0.8636" stop-color="#08f7f7"/><stop offset="0.9091" stop-color="#07f8f8"/><stop offset="0.9545" stop-color="#07f8f8"/><stop offset="1.0000" stop-color="#07f8f8"/></linearGradient>
<linearGradient id="w98" gradientUnits="userSpaceOnUse" x1="35" y1="0" x2="585" y2="0"><stop offset="0.0000" stop-color="#00e9ff"/><stop offset="0.0455" stop-color="#00e9ff"/><stop offset="0.0909" stop-color="#00dfff"/><stop offset="0.1364" stop-color="#00d0ff"/><stop offset="0.1818" stop-color="#00bcff"/><stop offset="0.2273" stop-color="#00a1ff"/><stop offset="0.2727" stop-color="#0084ff"/><stop offset="0.3182" stop-color="#0064ff"/><stop offset="0.3636" stop-color="#0048ff"/><stop offset="0.4091" stop-color="#0031ff"/><stop offset="0.4309" stop-color="#001eff"/><stop offset="0.4545" stop-color="#000dff"/><stop offset="0.4764" stop-color="#0062ff"/><stop offset="0.4818" stop-color="#0078ff"/><stop offset="0.5000" stop-color="#00bfff"/><stop offset="0.5218" stop-color="#00f6ff"/><stop offset="0.5455" stop-color="#00f8ff"/><stop offset="0.5909" stop-color="#00f8ff"/><stop offset="0.6364" stop-color="#00f9ff"/><stop offset="0.6818" stop-color="#00fbff"/><stop offset="0.7273" stop-color="#09f6f6"/><stop offset="0.7727" stop-color="#0bf4f4"/><stop offset="0.8182" stop-color="#0af5f5"/><stop offset="0.8636" stop-color="#0af5f5"/><stop offset="0.9091" stop-color="#0af5f5"/><stop offset="0.9545" stop-color="#09f6f6"/><stop offset="1.0000" stop-color="#09f6f6"/></linearGradient>
<linearGradient id="w99" gradientUnits="userSpaceOnUse" x1="35" y1="0" x2="585" y2="0"><stop offset="0.0000" stop-color="#00eaff"/><stop offset="0.0455" stop-color="#00eaff"/><stop offset="0.0909" stop-color="#00e0ff"/><stop offset="0.1364" stop-color="#00d0ff"/><stop offset="0.1818" stop-color="#00bdff"/><stop offset="0.2273" stop-color="#00a2ff"/><stop offset="0.2727" stop-color="#0085ff"/><stop offset="0.3182" stop-color="#0065ff"/><stop offset="0.3636" stop-color="#0049ff"/><stop offset="0.4091" stop-color="#0032ff"/><stop offset="0.4309" stop-color="#001fff"/><stop offset="0.4545" stop-color="#000dff"/><stop offset="0.4764" stop-color="#0062ff"/><stop offset="0.4818" stop-color="#0078ff"/><stop offset="0.5000" stop-color="#00bfff"/><stop offset="0.5218" stop-color="#00f7ff"/><stop offset="0.5455" stop-color="#00f8ff"/><stop offset="0.5909" stop-color="#00f8ff"/><stop offset="0.6364" stop-color="#00faff"/><stop offset="0.6818" stop-color="#00fbff"/><stop offset="0.7273" stop-color="#0bf4f4"/><stop offset="0.7727" stop-color="#0df2f2"/><stop offset="0.8182" stop-color="#0df2f2"/><stop offset="0.8636" stop-color="#0df2f2"/><stop offset="0.9091" stop-color="#0cf3f3"/><stop offset="0.9545" stop-color="#0cf3f3"/><stop offset="1.0000" stop-color="#0bf4f4"/></linearGradient>
<linearGradient id="w100" gradientUnits="userSpaceOnUse" x1="35" y1="0" x2="585" y2="0"><stop offset="0.0000" stop-color="#00eaff"/><stop offset="0.0455" stop-color="#00eaff"/><stop offset="0.0909" stop-color="#00e0ff"/><stop offset="0.1364" stop-color="#00d1ff"/><stop offset="0.1818" stop-color="#00bdff"/><stop offset="0.2273" stop-color="#00a3ff"/><stop offset="0.2727" stop-color="#0086ff"/><stop offset="0.3182" stop-color="#0067ff"/><stop offset="0.3636" stop-color="#004aff"/><stop offset="0.4091" stop-color="#0032ff"/><stop offset="0.4309" stop-color="#001fff"/><stop offset="0.4545" stop-color="#000dff"/><stop offset="0.4764" stop-color="#0062ff"/><stop offset="0.4818" stop-color="#0078ff"/><stop offset="0.5000" stop-color="#00bfff"/><stop offset="0.5218" stop-color="#00f7ff"/><stop offset="0.5455" stop-color="#00f9ff"/><stop offset="0.5909" stop-color="#00f9ff"/><stop offset="0.6364" stop-color="#00fbff"/><stop offset="0.6818" stop-color="#00fcff"/><stop offset="0.7273" stop-color="#0ef1f1"/><stop offset="0.7727" stop-color="#10efef"/><stop offset="0.8182" stop-color="#10efef"/><stop offset="0.8636" stop-color="#0ff0f0"/><stop offset="0.9091" stop-color="#0ff0f0"/><stop offset="0.9545" stop-color="#0ef1f1"/><stop offset="1.0000" stop-color="#0ef1f1"/></linearGradient>
<linearGradient id="w101" gradientUnits="userSpaceOnUse" x1="35" y1="0" x2="585" y2="0"><stop offset="0.0000" stop-color="#00ebff"/><stop offset="0.0455" stop-color="#00ebff"/><stop offset="0.0909" stop-color="#00e1ff"/><stop offset="0.1364" stop-color="#00d2ff"/><stop offset="0.1818" stop-color="#00beff"/><stop offset="0.2273" stop-color="#00a4ff"/><stop offset="0.2727" stop-color="#0088ff"/><stop offset="0.3182" stop-color="#0068ff"/><stop offset="0.3636" stop-color="#004bff"/><stop offset="0.4091" stop-color="#0032ff"/><stop offset="0.4309" stop-color="#001fff"/><stop offset="0.4545" stop-color="#000dff"/><stop offset="0.4764" stop-color="#0062ff"/><stop offset="0.4818" stop-color="#0078ff"/><stop offset="0.5000" stop-color="#00bfff"/><stop offset="0.5218" stop-color="#00f7ff"/><stop offset="0.5455" stop-color="#00f9ff"/><stop offset="0.5909" stop-color="#00f9ff"/><stop offset="0.6364" stop-color="#00fbff"/><stop offset="0.6818" stop-color="#00fcff"/><stop offset="0.7273" stop-color="#10efef"/><stop offset="0.7727" stop-color="#13ecec"/><stop offset="0.8182" stop-color="#12eded"/><stop offset="0.8636" stop-color="#12eded"/><stop offset="0.9091" stop-color="#11eeee"/><stop offset="0.9545" stop-color="#11eeee"/><stop offset="1.0000" stop-color="#10efef"/></linearGradient>
<linearGradient id="w102" gradientUnits="userSpaceOnUse" x1="35" y1="0" x2="585" y2="0"><stop offset="0.0000" stop-color="#00ecff"/><stop offset="0.0455" stop-color="#00ecff"/><stop offset="0.0909" stop-color="#00e1ff"/><stop offset="0.1364" stop-color="#00d2ff"/><stop offset="0.1818" stop-color="#00bfff"/><stop offset="0.2273" stop-color="#00a5ff"/><stop offset="0.2727" stop-color="#0089ff"/><stop offset="0.3182" stop-color="#0069ff"/><stop offset="0.3636" stop-color="#004cff"/><stop offset="0.4091" stop-color="#0033ff"/><stop offset="0.4309" stop-color="#0020ff"/><stop offset="0.4545" stop-color="#000dff"/><stop offset="0.4764" stop-color="#0062ff"/><stop offset="0.4818" stop-color="#0078ff"/><stop offset="0.5000" stop-color="#00bfff"/><stop offset="0.5218" stop-color="#00f7ff"/><stop offset="0.5455" stop-color="#00faff"/><stop offset="0.5909" stop-color="#00faff"/><stop offset="0.6364" stop-color="#00fcff"/><stop offset="0.6818" stop-color="#00fdff"/><stop offset="0.7273" stop-color="#12eded"/><stop offset="0.7727" stop-color="#15eaea"/><stop offset="0.8182" stop-color="#15eaea"/><stop offset="0.8636" stop-color="#14ebeb"/><stop offset="0.9091" stop-color="#14ebeb"/><stop offset="0.9545" stop-color="#13ecec"/><stop offset="1.0000" stop-color="#12eded"/></linearGradient>
<linearGradient id="w103" gradientUnits="userSpaceOnUse" x1="35" y1="0" x2="585" y2="0"><stop offset="0.0000" stop-color="#00ecff"/><stop offset="0.0455" stop-color="#00ecff"/><stop offset="0.0909" stop-color="#00e2ff"/><stop offset="0.1364" stop-color="#00d3ff"/><stop offset="0.1818" stop-color="#00c0ff"/><stop offset="0.2273" stop-color="#00a6ff"/><stop offset="0.2727" stop-color="#008aff"/><stop offset="0.3182" stop-color="#006aff"/><stop offset="0.3636" stop-color="#004dff"/><stop offset="0.4091" stop-color="#0033ff"/><stop offset="0.4309" stop-color="#0020ff"/><stop offset="0.4545" stop-color="#000cff"/><stop offset="0.4764" stop-color="#005bff"/><stop offset="0.4818" stop-color="#0071ff"/><stop offset="0.5000" stop-color="#00b9ff"/><stop offset="0.5218" stop-color="#00f5ff"/><stop offset="0.5455" stop-color="#00faff"/><stop offset="0.5909" stop-color="#00faff"/><stop offset="0.6364" stop-color="#00fcff"/><stop offset="0.6818" stop-color="#00feff"/><stop offset="0.7273" stop-color="#13ecec"/><stop offset="0.7727" stop-color="#16e9e9"/><stop offset="0.8182" stop-color="#16e9e9"/><stop offset="0.8636" stop-color="#15eaea"/><stop offset="0.9091" stop-color="#14ebeb"/><stop offset="0.9545" stop-color="#14ebeb"/><stop offset="1.0000" stop-color="#13ecec"/></linearGradient>
<linearGradient id="w104" gradientUnits="userSpaceOnUse" x1="35" y1="0" x2="585" y2="0"><stop offset="0.0000" stop-color="#00edff"/><stop offset="0.0455" stop-color="#00edff"/><stop offset="0.0909" stop-color="#00e2ff"/><stop offset="0.1364" stop-color="#00d3ff"/><stop offset="0.1818" stop-color="#00c0ff"/><stop offset="0.2273" stop-color="#00a7ff"/><stop offset="0.2727" stop-color="#008bff"/><stop offset="0.3182" stop-color="#006bff"/><stop offset="0.3636" stop-color="#004eff"/><stop offset="0.4091" stop-color="#0033ff"/><stop offset="0.4309" stop-color="#001fff"/><stop offset="0.4545" stop-color="#000bff"/><stop offset="0.4764" stop-color="#004fff"/><stop offset="0.4818" stop-color="#0066ff"/><stop offset="0.5000" stop-color="#00b1ff"/><stop offset="0.5218" stop-color="#00f3ff"/><stop offset="0.5455" stop-color="#00faff"/><stop offset="0.5909" stop-color="#00faff"/><stop offset="0.6364" stop-color="#00fcff"/><stop offset="0.6818" stop-color="#00ffff"/><stop offset="0.7273" stop-color="#13ecec"/><stop offset="0.7727" stop-color="#16e9e9"/><stop offset="0.8182" stop-color="#16e9e9"/><stop offset="0.8636" stop-color="#15eaea"/><stop offset="0.9091" stop-color="#14ebeb"/><stop offset="0.9545" stop-color="#14ebeb"/><stop offset="1.0000" stop-color="#13ecec"/></linearGradient>
<linearGradient id="w105" gradientUnits="userSpaceOnUse" x1="35" y1="0" x2="585" y2="0"><stop offset="0.0000" stop-color="#00edff"/><stop offset="0.0455" stop-color="#00edff"/><stop offset="0.0909" stop-color="#00e2ff"/><stop offset="0.1364" stop-color="#00d4ff"/><stop offset="0.1818" stop-color="#00c1ff"/><stop offset="0.2273" stop-color="#00a8ff"/><stop offset="0.2727" stop-color="#008cff"/><stop offset="0.3182" stop-color="#006dff"/><stop offset="0.3636" stop-color="#004fff"/><stop offset="0.4091" stop-color="#0033ff"/><stop offset="0.4309" stop-color="#001fff"/><stop offset="0.4545" stop-color="#000bff"/><stop offset="0.4764" stop-color="#0044ff"/><stop offset="0.4818" stop-color="#005bff"/><stop offset="0.5000" stop-color="#00a8ff"/><stop offset="0.5218" stop-color="#00f0ff"/><stop offset="0.5455" stop-color="#00fbff"/><stop offset="0.5909" stop-color="#00fbff"/><stop offset="0.6364" stop-color="#00fcff"/><stop offset="0.6818" stop-color="#01fefe"/><stop offset="0.7273" stop-color="#13ecec"/><stop offset="0.7727" stop-color="#16e9e9"/><stop offset="0.8182" stop-color="#16e9e9"/><stop offset="0.8636" stop-color="#15eaea"/><stop offset="0.9091" stop-color="#14ebeb"/><stop offset="0.9545" stop-color="#14ebeb"/><stop offset="1.0000" stop-color="#13ecec"/></linearGradient>
<linearGradient id="w106" gradientUnits="userSpaceOnUse" x1="35" y1="0" x2="585" y2="0"><stop offset="0.0000" stop-color="#00edff"/><stop offset="0.0455" stop-color="#00edff"/><stop offset="0.0909" stop-color="#00e3ff"/><stop offset="0.1364" stop-color="#00d4ff"/><stop offset="0.1818" stop-color="#00c1ff"/><stop offset="0.2273" stop-color="#00a9ff"/><stop offset="0.2727" stop-color="#008dff"/><stop offset="0.3182" stop-color="#006eff"/><stop offset="0.3636" stop-color="#0050ff"/><stop offset="0.4091" stop-color="#0033ff"/><stop offset="0.4309" stop-color="#001fff"/><stop offset="0.4545" stop-color="#000aff"/><stop offset="0.4764" stop-color="#0039ff"/><stop offset="0.4818" stop-color="#0050ff"/><stop offset="0.5000" stop-color="#009fff"/><stop offset="0.5218" stop-color="#00edff"/><stop offset="0.5455" stop-color="#00fbff"/><stop offset="0.5909" stop-color="#00fbff"/><stop offset="0.6364" stop-color="#00fcff"/><stop offset="0.6818" stop-color="#02fdfd"/><stop offset="0.7273" stop-color="#13ecec"/><stop offset="0.7727" stop-color="#16e9e9"/><stop offset="0.8182" stop-color="#16e9e9"/><stop offset="0.8636" stop-color="#15eaea"/><stop offset="0.9091" stop-color="#14ebeb"/><stop offset="0.9545" stop-color="#14ebeb"/><stop offset="1.0000" stop-color="#13ecec"/></linearGradient>
<linearGradient id="w107" gradientUnits="userSpaceOnUse" x1="35" y1="0" x2="585" y2="0"><stop offset="0.0000" stop-color="#00eeff"/><stop offset="0.0455" stop-color="#00eeff"/><stop offset="0.0909" stop-color="#00e3ff"/><stop offset="0.1364" stop-color="#00d5ff"/><stop offset="0.1818" stop-color="#00c2ff"/><stop offset="0.2273" stop-color="#00aaff"/><stop offset="0.2727" stop-color="#008eff"/><stop offset="0.3182" stop-color="#0070ff"/><stop offset="0.3636" stop-color="#0051ff"/><stop offset="0.4091" stop-color="#0033ff"/><stop offset="0.4309" stop-color="#001fff"/><stop offset="0.4545" stop-color="#0009ff"/><stop offset="0.4764" stop-color="#002dff"/><stop offset="0.4818" stop-color="#0045ff"/><stop offset="0.5000" stop-color="#0096ff"/><stop offset="0.5218" stop-color="#00eaff"/><stop offset="0.5455" stop-color="#00fbff"/><stop offset="0.5909" stop-color="#00fbff"/><stop offset="0.6364" stop-color="#00fdff"/><stop offset="0.6818" stop-color="#03fcfc"/><stop offset="0.7273" stop-color="#13ecec"/><stop offset="0.7727" stop-color="#16e9e9"/><stop offset="0.8182" stop-color="#16e9e9"/><stop offset="0.8636" stop-color="#15eaea"/><stop offset="0.9091" stop-color="#14ebeb"/><stop offset="0.9545" stop-color="#14ebeb"/><stop offset="1.0000" stop-color="#13ecec"/></linearGradient>
<linearGradient id="w108" gradientUnits="userSpaceOnUse" x1="35" y1="0" x2="585" y2="0"><stop offset="0.0000" stop-color="#00eeff"/><stop offset="0.0455" stop-color="#00eeff"/><stop offset="0.0909" stop-color="#00e3ff"/><stop offset="0.1364" stop-color="#00d5ff"/><stop offset="0.1818" stop-color="#00c3ff"/><stop offset="0.2273" stop-color="#00abff"/><stop offset="0.2727" stop-color="#0090ff"/><stop offset="0.3182" stop-color="#0071ff"/><stop offset="0.3636" stop-color="#0052ff"/><stop offset="0.4091" stop-color="#0033ff"/><stop offset="0.4309" stop-color="#001eff"/><stop offset="0.4545" stop-color="#0008ff"/><stop offset="0.4764" stop-color="#0022ff"/><stop offset="0.4818" stop-color="#003aff"/><stop offset="0.5000" stop-color="#008dff"/><stop offset="0.5218" stop-color="#00e7ff"/><stop offset="0.5455" stop-color="#00fbff"/><stop offset="0.5909" stop-color="#00fbff"/><stop offset="0.6364" stop-color="#00fdff"/><stop offset="0.6818" stop-color="#04fbfb"/><stop offset="0.7273" stop-color="#13ecec"/><stop offset="0.7727" stop-color="#16e9e9"/><stop offset="0.8182" stop-color="#16e9e9"/><stop offset="0.8636" stop-color="#15eaea"/><stop offset="0.9091" stop-color="#14ebeb"/><stop offset="0.9545" stop-color="#14ebeb"/><stop offset="1.0000" stop-color="#13ecec"/></linearGradient>
<linearGradient id="w109" gradientUnits="userSpaceOnUse" x1="35" y1="0" x2="585" y2="0"><stop offset="0.0000" stop-color="#00eeff"/><stop offset="0.0455" stop-color="#00eeff"/><stop offset="0.0909" stop-color="#00e4ff"/><stop offset="0.1364" stop-color="#00d5ff"/><stop offset="0.1818" stop-color="#00c3ff"/><stop offset="0.2273" stop-color="#00acff"/><stop offset="0.2727" stop-color="#0091ff"/><stop offset="0.3182" stop-color="#0072ff"/><stop offset="0.3636" stop-color="#0053ff"/><stop offset="0.4091" stop-color="#0033ff"/><stop offset="0.4309" stop-color="#001eff"/><stop offset="0.4545" stop-color="#0008ff"/><stop offset="0.4764" stop-color="#0016ff"/><stop offset="0.4818" stop-color="#0030ff"/><stop offset="0.5000" stop-color="#0084ff"/><stop offset="0.5218" stop-color="#00e4ff"/><stop offset="0.5455" stop-color="#00fbff"/><stop offset="0.5909" stop-color="#00fbff"/><stop offset="0.6364" stop-color="#00fdff"/><stop offset="0.6818" stop-color="#05fafa"/><stop offset="0.7273" stop-color="#13ecec"/><stop offset="0.7727" stop-color="#16e9e9"/><stop offset="0.8182" stop-color="#16e9e9"/><stop offset="0.8636" stop-color="#15eaea"/><stop offset="0.9091" stop-color="#14ebeb"/><stop offset="0.9545" stop-color="#14ebeb"/><stop offset="1.0000" stop-color="#13ecec"/></linearGradient>
<linearGradient id="w110" gradientUnits="userSpaceOnUse" x1="35" y1="0" x2="585" y2="0"><stop offset="0.0000" stop-color="#00efff"/><stop offset="0.0455" stop-color="#00efff"/><stop offset="0.0909" stop-color="#00e4ff"/><stop offset="0.1364" stop-color="#00d6ff"/><stop offset="0.1818" stop-color="#00c4ff"/><stop offset="0.2273" stop-color="#00adff"/><stop offset="0.2727" stop-color="#0092ff"/><stop offset="0.3182" stop-color="#0074ff"/><stop offset="0.3636" stop-color="#0054ff"/><stop offset="0.4091" stop-color="#0033ff"/><stop offset="0.4309" stop-color="#001eff"/><stop offset="0.4545" stop-color="#0007ff"/><stop offset="0.4764" stop-color="#000bff"/><stop offset="0.4818" stop-color="#0025ff"/><stop offset="0.5000" stop-color="#007bff"/><stop offset="0.5218" stop-color="#00e1ff"/><stop offset="0.5455" stop-color="#00fcff"/><stop offset="0.5909" stop-color="#00fcff"/><stop offset="0.6364" stop-color="#00fdff"/><stop offset="0.6818" stop-color="#06f9f9"/><stop offset="0.7273" stop-color="#13ecec"/><stop offset="0.7727" stop-color="#16e9e9"/><stop offset="0.8182" stop-color="#16e9e9"/><stop offset="0.8636" stop-color="#15eaea"/><stop offset="0.9091" stop-color="#14ebeb"/><stop offset="0.9545" stop-color="#14ebeb"/><stop offset="1.0000" stop-color="#13ecec"/></linearGradient>
<linearGradient id="w111" gradientUnits="userSpaceOnUse" x1="35" y1="0" x2="585" y2="0"><stop offset="0.0000" stop-color="#00efff"/><stop offset="0.0455" stop-color="#00efff"/><stop offset="0.0909" stop-color="#00e4ff"/><stop offset="0.1364" stop-color="#00d6ff"/><stop offset="0.1818" stop-color="#00c5ff"/><stop offset="0.2273" stop-color="#00aeff"/><stop offset="0.2727" stop-color="#0093ff"/><stop offset="0.3182" stop-color="#0075ff"/><stop offset="0.3636" stop-color="#0055ff"/><stop offset="0.4091" stop-color="#0033ff"/><stop offset="0.4309" stop-color="#001eff"/><stop offset="0.4545" stop-color="#0006ff"/><stop offset="0.4764" stop-color="#0003ff"/><stop offset="0.4818" stop-color="#001eff"/><stop offset="0.5000" stop-color="#0076ff"/><stop offset="0.5218" stop-color="#00dfff"/><stop offset="0.5455" stop-color="#00fcff"/><stop offset="0.5909" stop-color="#00fcff"/><stop offset="0.6364" stop-color="#00fdff"/><stop offset="0.6818" stop-color="#07f8f8"/><stop offset="0.7273" stop-color="#13ecec"/><stop offset="0.7727" stop-color="#16e9e9"/><stop offset="0.8182" stop-color="#16e9e9"/><stop offset="0.8636" stop-color="#15eaea"/><stop offset="0.9091" stop-color="#14ebeb"/><stop offset="0.9545" stop-color="#14ebeb"/><stop offset="1.0000" stop-color="#13ecec"/></linearGradient>
<linearGradient id="w112" gradientUnits="userSpaceOnUse" x1="35" y1="0" x2="585" y2="0"><stop offset="0.0000" stop-color="#00efff"/><stop offset="0.0455" stop-color="#00efff"/><stop offset="0.0909" stop-color="#00e5ff"/><stop offset="0.1364" stop-color="#00d7ff"/><stop offset="0.1818" stop-color="#00c5ff"/><stop offset="0.2273" stop-color="#00aeff"/><stop offset="0.2727" stop-color="#0094ff"/><stop offset="0.3182" stop-color="#0076ff"/><stop offset="0.3636" stop-color="#0056ff"/><stop offset="0.4091" stop-color="#0034ff"/><stop offset="0.4309" stop-color="#001eff"/><stop offset="0.4545" stop-color="#0006ff"/><stop offset="0.4764" stop-color="#0003ff"/><stop offset="0.4818" stop-color="#001eff"/><stop offset="0.5000" stop-color="#0076ff"/><stop offset="0.5218" stop-color="#00dfff"/><stop offset="0.5455" stop-color="#00fdff"/><stop offset="0.5909" stop-color="#00fdff"/><stop offset="0.6364" stop-color="#00feff"/><stop offset="0.6818" stop-color="#07f8f8"/><stop offset="0.7273" stop-color="#13ecec"/><stop offset="0.7727" stop-color="#16e9e9"/><stop offset="0.8182" stop-color="#15eaea"/><stop offset="0.8636" stop-color="#15eaea"/><stop offset="0.9091" stop-color="#14ebeb"/><stop offset="0.9545" stop-color="#14ebeb"/><stop offset="1.0000" stop-color="#13ecec"/></linearGradient>
<linearGradient id="w113" gradientUnits="userSpaceOnUse" x1="35" y1="0" x2="585" y2="0"><stop offset="0.0000" stop-color="#00f0ff"/><stop offset="0.0455" stop-color="#00f0ff"/><stop offset="0.0909" stop-color="#00e5ff"/><stop offset="0.1364" stop-color="#00d7ff"/><stop offset="0.1818" stop-color="#00c6ff"/><stop offset="0.2273" stop-color="#00afff"/><stop offset="0.2727" stop-color="#0095ff"/><stop offset="0.3182" stop-color="#0078ff"/><stop offset="0.3636" stop-color="#0057ff"/><stop offset="0.4091" stop-color="#0035ff"/><stop offset="0.4309" stop-color="#001fff"/><stop offset="0.4545" stop-color="#0006ff"/><stop offset="0.4764" stop-color="#0003ff"/><stop offset="0.4818" stop-color="#001eff"/><stop offset="0.5000" stop-color="#0076ff"/><stop offset="0.5218" stop-color="#00dfff"/><stop offset="0.5455" stop-color="#00feff"/><stop offset="0.5909" stop-color="#00feff"/><stop offset="0.6364" stop-color="#00ffff"/><stop offset="0.6818" stop-color="#08f7f7"/><stop offset="0.7273" stop-color="#13ecec"/><stop offset="0.7727" stop-color="#15eaea"/><stop offset="0.8182" stop-color="#15eaea"/><stop offset="0.8636" stop-color="#15eaea"/><stop offset="0.9091" stop-color="#14ebeb"/><stop offset="0.9545" stop-color="#14ebeb"/><stop offset="1.0000" stop-color="#13ecec"/></linearGradient>
<linearGradient id="w114" gradientUnits="userSpaceOnUse" x1="35" y1="0" x2="585" y2="0"><stop offset="0.0000" stop-color="#00f0ff"/><stop offset="0.0455" stop-color="#00f0ff"/><stop offset="0.0909" stop-color="#00e5ff"/><stop offset="0.1364" stop-color="#00d8ff"/><stop offset="0.1818" stop-color="#00c6ff"/><stop offset="0.2273" stop-color="#00b0ff"/><stop offset="0.2727" stop-color="#0096ff"/><stop offset="0.3182" stop-color="#0079ff"/><stop offset="0.3636" stop-color="#0058ff"/><stop offset="0.4091" stop-color="#0036ff"/><stop offset="0.4309" stop-color="#001fff"/><stop offset="0.4545" stop-color="#0006ff"/><stop offset="0.4764" stop-color="#0003ff"/><stop offset="0.4818" stop-color="#001eff"/><stop offset="0.5000" stop-color="#0076ff"/><stop offset="0.5218" stop-color="#00dfff"/><stop offset="0.5455" stop-color="#00feff"/><stop offset="0.5909" stop-color="#00ffff"/><stop offset="0.6364" stop-color="#01fefe"/><stop offset="0.6818" stop-color="#09f6f6"/><stop offset="0.7273" stop-color="#13ecec"/><stop offset="0.7727" stop-color="#15eaea"/><stop offset="0.8182" stop-color="#15eaea"/><stop offset="0.8636" stop-color="#14ebeb"/><stop offset="0.9091" stop-color="#14ebeb"/><stop offset="0.9545" stop-color="#14ebeb"/><stop offset="1.0000" stop-color="#13ecec"/></linearGradient>
<linearGradient id="w115" gradientUnits="userSpaceOnUse" x1="35" y1="0" x2="585" y2="0"><stop offset="0.0000" stop-color="#00f0ff"/><stop offset="0.0455" stop-color="#00f0ff"/><stop offset="0.0909" stop-color="#00e6ff"/><stop offset="0.1364" stop-color="#00d8ff"/><stop offset="0.1818" stop-color="#00c7ff"/><stop offset="0.2273" stop-color="#00b1ff"/><stop offset="0.2727" stop-color="#0097ff"/><stop offset="0.3182" stop-color="#007aff"/><stop offset="0.3636" stop-color="#0059ff"/><stop offset="0.4091" stop-color="#0036ff"/><stop offset="0.4309" stop-color="#001fff"/><stop offset="0.4545" stop-color="#0006ff"/><stop offset="0.4764" stop-color="#0003ff"/><stop offset="0.4818" stop-color="#001eff"/><stop offset="0.5000" stop-color="#0076ff"/><stop offset="0.5218" stop-color="#00dfff"/><stop offset="0.5455" stop-color="#00ffff"/><stop offset="0.5909" stop-color="#01fefe"/><stop offset="0.6364" stop-color="#02fdfd"/><stop offset="0.6818" stop-color="#0af5f5"/><stop offset="0.7273" stop-color="#13ecec"/><stop offset="0.7727" stop-color="#15eaea"/><stop offset="0.8182" stop-color="#14ebeb"/><stop offset="0.8636" stop-color="#14ebeb"/><stop offset="0.9091" stop-color="#14ebeb"/><stop offset="0.9545" stop-color="#13ecec"/><stop offset="1.0000" stop-color="#13ecec"/></linearGradient>
<linearGradient id="w116" gradientUnits="userSpaceOnUse" x1="35" y1="0" x2="585" y2="0"><stop offset="0.0000" stop-color="#00f0ff"/><stop offset="0.0455" stop-color="#00f0ff"/><stop offset="0.0909" stop-color="#00e6ff"/><stop offset="0.1364" stop-color="#00d9ff"/><stop offset="0.1818" stop-color="#00c7ff"/><stop offset="0.2273" stop-color="#00b1ff"/><stop offset="0.2727" stop-color="#0098ff"/><stop offset="0.3182" stop-color="#007cff"/><stop offset="0.3636" stop-color="#005aff"/><stop offset="0.4091" stop-color="#0037ff"/><stop offset="0.4309" stop-color="#0020ff"/><stop offset="0.4545" stop-color="#0006ff"/><stop offset="0.4764" stop-color="#0003ff"/><stop offset="0.4818" stop-color="#001eff"/><stop offset="0.5000" stop-color="#0076ff"/><stop offset="0.5218" stop-color="#00dfff"/><stop offset="0.5455" stop-color="#01fefe"/><stop offset="0.5909" stop-color="#02fdfd"/><stop offset="0.6364" stop-color="#03fcfc"/><stop offset="0.6818" stop-color="#0af5f5"/><stop offset="0.7273" stop-color="#13ecec"/><stop offset="0.7727" stop-color="#14ebeb"/><stop offset="0.8182" stop-color="#14ebeb"/><stop offset="0.8636" stop-color="#14ebeb"/><stop offset="0.9091" stop-color="#14ebeb"/><stop offset="0.9545" stop-color="#13ecec"/><stop offset="1.0000" stop-color="#13ecec"/></linearGradient>
<linearGradient id="w117" gradientUnits="userSpaceOnUse" x1="35" y1="0" x2="585" y2="0"><stop offset="0.0000" stop-color="#00f1ff"/><stop offset="0.0455" stop-color="#00f1ff"/><stop offset="0.0909" stop-color="#00e6ff"/><stop offset="0.1364" stop-color="#00d9ff"/><stop offset="0.1818" stop-color="#00c8ff"/><stop offset="0.2273" stop-color="#00b2ff"/><stop offset="0.2727" stop-color="#0099ff"/><stop offset="0.3182" stop-color="#007dff"/><stop offset="0.3636" stop-color="#005bff"/><stop offset="0.4091" stop-color="#0038ff"/><stop offset="0.4309" stop-color="#0020ff"/><stop offset="0.4545" stop-color="#0006ff"/><stop offset="0.4764" stop-color="#0003ff"/><stop offset="0.4818" stop-color="#001eff"/><stop offset="0.5000" stop-color="#0076ff"/><stop offset="0.5218" stop-color="#00dfff"/><stop offset="0.5455" stop-color="#02fdfd"/><stop offset="0.5909" stop-color="#03fcfc"/><stop offset="0.6364" stop-color="#04fbfb"/><stop offset="0.6818" stop-color="#0bf4f4"/><stop offset="0.7273" stop-color="#13ecec"/><stop offset="0.7727" stop-color="#14ebeb"/><stop offset="0.8182" stop-color="#14ebeb"/><stop offset="0.8636" stop-color="#14ebeb"/><stop offset="0.9091" stop-color="#13ecec"/><stop offset="0.9545" stop-color="#13ecec"/><stop offset="1.0000" stop-color="#13ecec"/></linearGradient>
<linearGradient id="w118" gradientUnits="userSpaceOnUse" x1="35" y1="0" x2="585" y2="0"><stop offset="0.0000" stop-color="#00f1ff"/><stop offset="0.0455" stop-color="#00f1ff"/><stop offset="0.0909" stop-color="#00e6ff"/><stop offset="0.1364" stop-color="#00daff"/><stop offset="0.1818" stop-color="#00c8ff"/><stop offset="0.2273" stop-color="#00b3ff"/><stop offset="0.2727" stop-color="#009aff"/><stop offset="0.3182" stop-color="#007eff"/><stop offset="0.3636" stop-color="#005cff"/><stop offset="0.4091" stop-color="#0039ff"/><stop offset="0.4309" stop-color="#0020ff"/><stop offset="0.4545" stop-color="#0006ff"/><stop offset="0.4764" stop-color="#0003ff"/><stop offset="0.4818" stop-color="#001eff"/><stop offset="0.5000" stop-color="#0076ff"/><stop offset="0.5218" stop-color="#00dfff"/><stop offset="0.5455" stop-color="#02fdfd"/><stop offset="0.5909" stop-color="#04fbfb"/><stop offset="0.6364" stop-color="#05fafa"/><stop offset="0.6818" stop-color="#0cf3f3"/><stop offset="0.7273" stop-color="#13ecec"/><stop offset="0.7727" stop-color="#14ebeb"/><stop offset="0.8182" stop-color="#13ecec"/><stop offset="0.8636" stop-color="#13ecec"/><stop offset="0.9091" stop-color="#13ecec"/><stop offset="0.9545" stop-color="#13ecec"/><stop offset="1.0000" stop-color="#13ecec"/></linearGradient>
<linearGradient id="w119" gradientUnits="userSpaceOnUse" x1="35" y1="0" x2="585" y2="0"><stop offset="0.0000" stop-color="#00f1ff"/><stop offset="0.0455" stop-color="#00f1ff"/><stop offset="0.0909" stop-color="#00e7ff"/><stop offset="0.1364" stop-color="#00daff"/><stop offset="0.1818" stop-color="#00c9ff"/><stop offset="0.2273" stop-color="#00b4ff"/><stop offset="0.2727" stop-color="#009bff"/><stop offset="0.3182" stop-color="#0080ff"/><stop offset="0.3636" stop-color="#005cff"/><stop offset="0.4091" stop-color="#0039ff"/><stop offset="0.4309" stop-color="#0021ff"/><stop offset="0.4545" stop-color="#0006ff"/><stop offset="0.4764" stop-color="#0003ff"/><stop offset="0.4818" stop-color="#001eff"/><stop offset="0.5000" stop-color="#0076ff"/><stop offset="0.5218" stop-color="#00dfff"/><stop offset="0.5455" stop-color="#03fcfc"/><stop offset="0.5909" stop-color="#05fafa"/><stop offset="0.6364" stop-color="#06f9f9"/><stop offset="0.6818" stop-color="#0df2f2"/><stop offset="0.7273" stop-color="#13ecec"/><stop offset="0.7727" stop-color="#13ecec"/><stop offset="0.8182" stop-color="#13ecec"/><stop offset="0.8636" stop-color="#13ecec"/><stop offset="0.9091" stop-color="#13ecec"/><stop offset="0.9545" stop-color="#13ecec"/><stop offset="1.0000" stop-color="#13ecec"/></linearGradient>
<linearGradient id="w120" gradientUnits="userSpaceOnUse" x1="35" y1="0" x2="585" y2="0"><stop offset="0.0000" stop-color="#00f1ff"/><stop offset="0.0455" stop-color="#00f1ff"/><stop offset="0.0909" stop-color="#00e7ff"/><stop offset="0.1364" stop-color="#00daff"/><stop offset="0.1818" stop-color="#00c9ff"/><stop offset="0.2273" stop-color="#00b4ff"/><stop offset="0.2727" stop-color="#009bff"/><stop offset="0.3182" stop-color="#0080ff"/><stop offset="0.3636" stop-color="#005cff"/><stop offset="0.4091" stop-color="#0039ff"/><stop offset="0.4309" stop-color="#0021ff"/><stop offset="0.4545" stop-color="#0006ff"/><stop offset="0.4764" stop-color="#0003ff"/><stop offset="0.4818" stop-color="#001eff"/><stop offset="0.5000" stop-color="#0076ff"/><stop offset="0.5218" stop-color="#00dfff"/><stop offset="0.5455" stop-color="#03fcfc"/><stop offset="0.5909" stop-color="#05fafa"/><stop offset="0.6364" stop-color="#06f9f9"/><stop offset="0.6818" stop-color="#0df2f2"/><stop offset="0.7273" stop-color="#13ecec"/><stop offset="0.7727" stop-color="#13ecec"/><stop offset="0.8182" stop-color="#13ecec"/><stop offset="0.8636" stop-color="#13ecec"/><stop offset="0.9091" stop-color="#13ecec"/><stop offset="0.9545" stop-color="#13ecec"/><stop offset="1.0000" stop-color="#13ecec"/></linearGradient>
<linearGradient id="w121" gradientUnits="userSpaceOnUse" x1="35" y1="0" x2="585" y2="0"><stop offset="0.0000" stop-color="#00f1ff"/><stop offset="0.0455" stop-color="#00f1ff"/><stop offset="0.0909" stop-color="#00e7ff"/><stop offset="0.1364" stop-color="#00daff"/><stop offset="0.1818" stop-color="#00c9ff"/><stop offset="0.2273" stop-color="#00b4ff"/><stop offset="0.2727" stop-color="#009bff"/><stop offset="0.3182" stop-color="#0080ff"/><stop offset="0.3636" stop-color="#005cff"/><stop offset="0.4091" stop-color="#0039ff"/><stop offset="0.4309" stop-color="#0021ff"/><stop offset="0.4545" stop-color="#0006ff"/><stop offset="0.4764" stop-color="#0003ff"/><stop offset="0.4818" stop-color="#001eff"/><stop offset="0.5000" stop-color="#0076ff"/><stop offset="0.5218" stop-color="#00dfff"/><stop offset="0.5455" stop-color="#03fcfc"/><stop offset="0.5909" stop-color="#05fafa"/><stop offset="0.6364" stop-color="#06f9f9"/><stop offset="0.6818" stop-color="#0df2f2"/><stop offset="0.7273" stop-color="#13ecec"/><stop offset="0.7727" stop-color="#13ecec"/><stop offset="0.8182" stop-color="#13ecec"/><stop offset="0.8636" stop-color="#13ecec"/><stop offset="0.9091" stop-color="#13ecec"/><stop offset="0.9545" stop-color="#13ecec"/><stop offset="1.0000" stop-color="#13ecec"/></linearGradient>
</defs>
<g clip-path="url(#ax)">
<g filter="url(#bl)">
<rect x="35" y="21.5" width="550" height="3.5" fill="url(#w0)"/>
<rect x="35" y="24.5" width="550" height="3.5" fill="url(#w1)"/>
<rect x="35" y="27.5" width="550" height="3.5" fill="url(#w2)"/>
<rect x="35" y="30.5" width="550" height="3.5" fill="url(#w3)"/>
<rect x="35" y="33.5" width="550" height="3.5" fill="url(#w4)"/>
<rect x="35" y="36.5" width="550" height="3.5" fill="url(#w5)"/>
<rect x="35" y="39.5" width="550" height="3.5" fill="url(#w6)"/>
<rect x="35" y="42.5" width="550" height="3.5" fill="url(#w7)"/>
<rect x="35" y="45.5" width="550" height="3.5" fill="url(#w8)"/>
<rect x="35" y="48.5" width="550" height="3.5" fill="url(#w9)"/>
<rect x="35" y="51.5" width="550" height="3.5" fill="url(#w10)"/>
<rect x="35" y="54.5" width="550" height="3.5" fill="url(#w11)"/>
<rect x="35" y="57.5" width="550" height="3.5" fill="url(#w12)"/>
<rect x="35" y="60.5" width="550" height="3.5" fill="url(#w13)"/>
<rect x="35" y="63.5" width="550" height="3.5" fill="url(#w14)"/>
<rect x="35" y="66.5" width="550" height="3.5" fill="url(#w15)"/>
<rect x="35" y="69.5" width="550" height="3.5" fill="url(#w16)"/>
<rect x="35" y="72.5" width="550" height="3.5" fill="url(#w17)"/>
<rect x="35" y="75.5" width="550" height="3.5" fill="url(#w18)"/>
<rect x="35" y="78.5" width="550" height="3.5" fill="url(#w19)"/>
<rect x="35" y="81.5" width="550" height="3.5" fill="url(#w20)"/>
<rect x="35" y="84.5" width="550" height="3.5" fill="url(#w21)"/>
<rect x="35" y="87.5" width="550" height="3.5" fill="url(#w22)"/>
<rect x="35" y="90.5" width="550" height="3.5" fill="url(#w23)"/>
<rect x="35" y="93.5" width="550" height="3.5" fill="url(#w24)"/>
<rect x="35" y="96.5" width="550" height="3.5" fill="url(#w25)"/>
<rect x="35" y="99.5" width="550" height="3.5" fill="url(#w26)"/>
<rect x="35" y="102.5" width="550" height="3.5" fill="url(#w27)"/>
<rect x="35" y="105.5" width="550" height="3.5" fill="url(#w28)"/>
<rect x="35" y="108.5" width="550" height="3.5" fill="url(#w29)"/>
<rect x="35" y="111.5" width="550" height="3.5" fill="url(#w30)"/>
<rect x="35" y="114.5" width="550" height="3.5" fill="url(#w31)"/>
<rect x="35" y="117.5" width="550" height="3.5" fill="url(#w32)"/>
<rect x="35" y="120.5" width="550" height="3.5" fill="url(#w33)"/>
<rect x="35" y="123.5" width="550" height="3.5" fill="url(#w34)"/>
<rect x="35" y="126.5" width="550" height="3.5" fill="url(#w35)"/>
<rect x="35" y="129.5" width="550" height="3.5" fill="url(#w36)"/>
<rect x="35" y="132.5" width="550" height="3.5" fill="url(#w37)"/>
<rect x="35" y="135.5" width="550" height="3.5" fill="url(#w38)"/>
<rect x="35" y="138.5" width="550" height="3.5" fill="url(#w39)"/>
<rect x="35" y="141.5" width="550" height="3.5" fill="url(#w40)"/>
<rect x="35" y="144.5" width="550" height="3.5" fill="url(#w41)"/>
<rect x="35" y="147.5" width="550" height="3.5" fill="url(#w42)"/>
<rect x="35" y="150.5" width="550" height="3.5" fill="url(#w43)"/>
<rect x="35" y="153.5" width="550" height="3.5" fill="url(#w44)"/>
<rect x="35" y="156.5" width="550" height="3.5" fill="url(#w45)"/>
<rect x="35" y="159.5" width="550" height="3.5" fill="url(#w46)"/>
<rect x="35" y="162.5" width="550" height="3.5" fill="url(#w47)"/>
<rect x="35" y="165.5" width="550" height="3.5" fill="url(#w48)"/>
<rect x="35" y="168.5" width="550" height="3.5" fill="url(#w49)"/>
<rect x="35" y="171.5" width="550" height="3.5" fill="url(#w50)"/>
<rect x="35" y="174.5" width="550" height="3.5" fill="url(#w51)"/>
<rect x="35" y="177.5" width="550" height="3.5" fill="url(#w52)"/>
<rect x="35" y="180.5" width="550" height="3.5" fill="url(#w53)"/>
<rect x="35" y="183.5" width="550" height="3.5" fill="url(#w54)"/>
<rect x="35" y="186.5" width="550" height="3.5" fill="url(#w55)"/>
<rect x="35" y="189.5" width="550" height="3.5" fill="url(#w56)"/>
<rect x="35" y="192.5" width="550" height="3.5" fill="url(#w57)"/>
<rect x="35" y="195.5" width="550" height="3.5" fill="url(#w58)"/>
<rect x="35" y="198.5" width="550" height="3.5" fill="url(#w59)"/>
<rect x="35" y="201.5" width="550" height="3.5" fill="url(#w60)"/>
<rect x="35" y="204.5" width="550" height="3.5" fill="url(#w61)"/>
<rect x="35" y="207.5" width="550" height="3.5" fill="url(#w62)"/>
<rect x="35" y="210.5" width="550" height="3.5" fill="url(#w63)"/>
<rect x="35" y="213.5" width="550" height="3.5" fill="url(#w64)"/>
<rect x="35" y="216.5" width="550" height="3.5" fill="url(#w65)"/>
<rect x="35" y="219.5" width="550" height="3.5" fill="url(#w66)"/>
<rect x="35" y="222.5" width="550" height="3.5" fill="url(#w67)"/>
<rect x="35" y="225.5" width="550" height="3.5" fill="url(#w68)"/>
<rect x="35" y="228.5" width="550" height="3.5" fill="url(#w69)"/>
<rect x="35" y="231.5" width="550" height="3.5" fill="url(#w70)"/>
<rect x="35" y="234.5" width="550" height="3.5" fill="url(#w71)"/>
<rect x="35" y="237.5" width="550" height="3.5" fill="url(#w72)"/>
<rect x="35" y="240.5" width="550" height="3.5" fill="url(#w73)"/>
<rect x="35" y="243.5" width="550" height="3.5" fill="url(#w74)"/>
<rect x="35" y="246.5" width="550" height="3.5" fill="url(#w75)"/>
<rect x="35" y="249.5" width="550" height="3.5" fill="url(#w76)"/>
<rect x="35" y="252.5" width="550" height="3.5" fill="url(#w77)"/>
<rect x="35" y="255.5" width="550" height="3.5" fill="url(#w78)"/>
<rect x="35" y="258.5" width="550" height="3.5" fill="url(#w79)"/>
<rect x="35" y="261.5" width="550" height="3.5" fill="url(#w80)"/>
<rect x="35" y="264.5" width="550" height="3.5" fill="url(#w81)"/>
<rect x="35" y="267.5" width="550" height="3.5" fill="url(#w82)"/>
<rect x="35" y="270.5" width="550" height="3.5" fill="url(#w83)"/>
<rect x="35" y="273.5" width="550" height="3.5" fill="url(#w84)"/>
<rect x="35" y="276.5" width="550" height="3.5" fill="url(#w85)"/>
<rect x="35" y="279.5" width="550" height="3.5" fill="url(#w86)"/>
<rect x="35" y="282.5" width="550" height="3.5" fill="url(#w87)"/>
<rect x="35" y="285.5" width="550" height="3.5" fill="url(#w88)"/>
<rect x="35" y="288.5" width="550" height="3.5" fill="url(#w89)"/>
<rect x="35" y="291.5" width="550" height="3.5" fill="url(#w90)"/>
<rect x="35" y="294.5" width="550" height="3.5" fill="url(#w91)"/>
<rect x="35" y="297.5" width="550" height="3.5" fill="url(#w92)"/>
<rect x="35" y="300.5" width="550" height="3.5" fill="url(#w93)"/>
<rect x="35" y="303.5" width="550" height="3.5" fill="url(#w94)"/>
<rect x="35" y="306.5" width="550" height="3.5" fill="url(#w95)"/>
<rect x="35" y="309.5" width="550" height="3.5" fill="url(#w96)"/>
<rect x="35" y="312.5" width="550" height="3.5" fill="url(#w97)"/>
<rect x="35" y="315.5" width="550" height="3.5" fill="url(#w98)"/>
<rect x="35" y="318.5" width="550" height="3.5" fill="url(#w99)"/>
<rect x="35" y="321.5" width="550" height="3.5" fill="url(#w100)"/>
<rect x="35" y="324.5" width="550" height="3.5" fill="url(#w101)"/>
<rect x="35" y="327.5" width="550" height="3.5" fill="url(#w102)"/>
<rect x="35" y="330.5" width="550" height="3.5" fill="url(#w103)"/>
<rect x="35" y="333.5" width="550" height="3.5" fill="url(#w104)"/>
<rect x="35" y="336.5" width="550" height="3.5" fill="url(#w105)"/>
<rect x="35" y="339.5" width="550" height="3.5" fill="url(#w106)"/>
<rect x="35" y="342.5" width="550" height="3.5" fill="url(#w107)"/>
<rect x="35" y="345.5" width="550" height="3.5" fill="url(#w108)"/>
<rect x="35" y="348.5" width="550" height="3.5" fill="url(#w109)"/>
<rect x="35" y="351.5" width="550" height="3.5" fill="url(#w110)"/>
<rect x="35" y="354.5" width="550" height="3.5" fill="url(#w111)"/>
<rect x="35" y="357.5" width="550" height="3.5" fill="url(#w112)"/>
<rect x="35" y="360.5" width="550" height="3.5" fill="url(#w113)"/>
<rect x="35" y="363.5" width="550" height="3.5" fill="url(#w114)"/>
<rect x="35" y="366.5" width="550" height="3.5" fill="url(#w115)"/>
<rect x="35" y="369.5" width="550" height="3.5" fill="url(#w116)"/>
<rect x="35" y="372.5" width="550" height="3.5" fill="url(#w117)"/>
<rect x="35" y="375.5" width="550" height="3.5" fill="url(#w118)"/>
<rect x="35" y="378.5" width="550" height="3.5" fill="url(#w119)"/>
<rect x="35" y="381.5" width="550" height="3.5" fill="url(#w120)"/>
<rect x="35" y="384.5" width="550" height="3.5" fill="url(#w121)"/>
</g>
<defs><filter id="spA" filterUnits="userSpaceOnUse" x="60" y="30" width="500" height="350" color-interpolation-filters="sRGB"><feTurbulence type="fractalNoise" baseFrequency="0.34 0.2" numOctaves="1" seed="4" result="n"/><feColorMatrix in="n" type="matrix" values="0 0 0 0 0 0 0 0 0 0 0 0 0 0 0 40 0 0 0 -22" result="a"/><feComposite in="SourceGraphic" in2="a" operator="in"/></filter></defs>
<defs><filter id="spB" filterUnits="userSpaceOnUse" x="60" y="30" width="500" height="350" color-interpolation-filters="sRGB"><feTurbulence type="fractalNoise" baseFrequency="0.30 0.24" numOctaves="1" seed="11" result="n"/><feColorMatrix in="n" type="matrix" values="0 0 0 0 0 0 0 0 0 0 0 0 0 0 0 40 0 0 0 -22.5" result="a"/><feComposite in="SourceGraphic" in2="a" operator="in"/></filter></defs>
<defs><filter id="spC" filterUnits="userSpaceOnUse" x="60" y="30" width="500" height="350" color-interpolation-filters="sRGB"><feTurbulence type="fractalNoise" baseFrequency="0.33 0.26" numOctaves="1" seed="23" result="n"/><feColorMatrix in="n" type="matrix" values="0 0 0 0 0 0 0 0 0 0 0 0 0 0 0 40 0 0 0 -21.5" result="a"/><feComposite in="SourceGraphic" in2="a" operator="in"/></filter></defs>
<defs><filter id="spD" filterUnits="userSpaceOnUse" x="60" y="30" width="500" height="350" color-interpolation-filters="sRGB"><feTurbulence type="fractalNoise" baseFrequency="0.30 0.30" numOctaves="1" seed="31" result="n"/><feColorMatrix in="n" type="matrix" values="0 0 0 0 0 0 0 0 0 0 0 0 0 0 0 40 0 0 0 -23.2" result="a"/><feComposite in="SourceGraphic" in2="a" operator="in"/></filter></defs>
<path d="M181.4,29.0 L181.2,60.0 L181.0,100.0 L180.0,129.0 L179.5,140.0 L180.5,150.0 L179.4,162.0 L179.4,175.0 L178.0,181.0 L174.4,186.0 L172.2,189.4 L177.5,187.5 L190.0,185.6 L202.5,183.0 L215.0,180.6 L221.0,178.7 L225.0,175.0 L229.4,170.0 L230.0,164.4 L225.0,164.0 L223.0,161.0 L222.0,160.5 L224.0,153.0 L227.0,149.0 L232.0,144.0 L238.0,140.5 L243.7,137.0 L250.0,135.6 L262.5,134.4 L268.7,134.4 L275.0,138.7 L281.2,142.5 L287.5,146.2 L295.0,147.5 L300.0,151.2 L306.2,157.0 L311.2,162.5 L315.0,167.5 L319.4,175.0 L320.6,178.5 L326.9,178.5 L326.9,175.6 L325.6,171.2 L323.7,166.2 L320.0,162.5 L315.0,158.0 L313.7,152.5 L314.7,145.0 L313.7,135.0 L310.0,132.0 L308.0,133.0 L307.5,130.6 L300.0,130.6 L295.0,133.7 L288.7,137.5 L282.5,135.6 L276.0,132.5 L270.0,127.5 L267.5,125.0 L268.0,120.5 L273.0,120.5 L272.0,110.0 L270.6,107.5 L269.4,101.0 L267.0,95.0 L265.6,88.7 L267.0,82.5 L262.0,81.0 L258.0,76.0 L257.0,70.0 L255.6,65.5 L253.0,53.0 L252.0,40.5 L251.5,29.0Z" fill="#1a6600"/>
<path d="M203.5,29.0 L229.0,29.0 L229.5,40.0 L232.0,53.0 L234.5,65.0 L236.0,70.0 L239.4,80.0 L246.0,90.0 L250.0,97.0 L257.0,100.0 L263.7,107.5 L267.0,115.0 L268.0,120.5 L267.5,125.0 L268.7,134.4 L262.5,134.4 L250.0,135.6 L243.7,137.0 L238.0,140.5 L232.0,144.0 L227.0,149.0 L224.0,153.0 L222.0,160.5 L214.5,162.0 L209.0,162.0 L208.0,153.0 L206.0,146.0 L208.2,134.0 L206.0,128.0 L206.0,100.0 L206.4,90.0 L206.0,80.0 L202.0,75.0 L203.5,69.0Z" fill="#48e6ea"/>
<path d="M217.0,29.0 L229.0,29.0 L229.5,40.0 L232.0,53.0 L234.5,65.0 L236.0,70.0 L239.4,80.0 L246.0,90.0 L250.0,97.0 L257.0,100.0 L263.7,107.5 L267.0,115.0 L266.0,120.0 L258.0,116.0 L250.0,111.0 L244.5,105.5 L239.5,99.0 L234.5,91.7 L230.7,85.5 L227.0,78.0 L222.0,72.0 L219.5,66.0 L217.0,55.0Z" fill="#5adade"/>
<defs><radialGradient id="fan" gradientUnits="userSpaceOnUse" cx="215" cy="142" r="24"><stop offset="0" stop-color="#acb8ba"/><stop offset="0.3" stop-color="#98c8cb"/><stop offset="0.7" stop-color="#7ad6da" stop-opacity="0.8"/><stop offset="1" stop-color="#55d4d4" stop-opacity="0"/></radialGradient></defs>
<path d="M206.0,118.0 L245.0,120.0 L250.0,135.6 L243.7,137.0 L238.0,140.5 L232.0,144.0 L227.0,149.0 L224.0,153.0 L222.0,160.5 L214.5,162.0 L209.0,162.0 L208.0,153.0 L206.0,146.0 L208.2,134.0Z" fill="url(#fan)"/>
<path d="M195.0,31.7 L197.6,31.7 L197.6,50.5 L195.0,50.5Z" fill="#48e6ea"/>
<path d="M192.5,53.0 L196.0,53.0 L196.0,58.0 L192.5,58.0Z" fill="#48e6ea"/>
<path d="M193.0,62.0 L197.0,62.0 L197.0,70.0 L193.0,70.0Z" fill="#48e6ea"/>
<path d="M192.0,72.0 L195.0,72.0 L195.0,79.0 L192.0,79.0Z" fill="#48e6ea"/>
<path d="M197.6,60.0 L203.0,60.0 L203.0,62.4 L197.6,62.4Z" fill="#48e6ea"/>
<path d="M191.0,84.0 L197.0,84.0 L197.0,88.0 L191.0,88.0Z" fill="#48e6ea"/>
<path d="M193.0,90.0 L197.0,90.0 L197.0,95.0 L193.0,95.0Z" fill="#48e6ea"/>
<path d="M192.6,95.0 L196.0,95.0 L196.0,98.6 L192.6,98.6Z" fill="#48e6ea"/>
<path d="M190.7,105.0 L194.0,105.0 L194.0,109.0 L190.7,109.0Z" fill="#48e6ea"/>
<path d="M190.7,114.0 L197.0,114.0 L197.0,117.0 L190.7,117.0Z" fill="#48e6ea"/>
<path d="M202.0,90.5 L206.0,90.5 L206.0,94.0 L202.0,94.0Z" fill="#48e6ea"/>
<path d="M192.0,128.0 L195.0,128.0 L195.0,133.0 L192.0,133.0Z" fill="#48e6ea"/>
<path d="M196.0,129.0 L200.0,129.0 L200.0,136.0 L196.0,136.0Z" fill="#48e6ea"/>
<path d="M193.0,136.0 L197.0,136.0 L197.0,140.5 L193.0,140.5Z" fill="#48e6ea"/>
<path d="M202.6,133.0 L205.0,133.0 L205.0,135.5 L202.6,135.5Z" fill="#48e6ea"/>
<path d="M200.7,145.5 L203.2,145.5 L203.2,148.6 L200.7,148.6Z" fill="#48e6ea"/>
<path d="M192.5,154.0 L195.0,154.0 L195.0,159.0 L192.5,159.0Z" fill="#48e6ea"/>
<path d="M196.0,156.0 L198.5,156.0 L198.5,165.0 L196.0,165.0Z" fill="#48e6ea"/>
<path d="M192.0,161.0 L194.5,161.0 L194.5,166.0 L192.0,166.0Z" fill="#48e6ea"/>
<path d="M197.6,147.0 L199.5,147.0 L199.5,152.0 L197.6,152.0Z" fill="#48e6ea"/>
<path d="M193.0,168.0 L197.0,168.0 L197.0,171.0 L193.0,171.0Z" fill="#48e6ea"/>
<path d="M199.0,167.5 L205.0,167.5 L205.0,175.0 L199.0,175.0Z" fill="#48e6ea"/>
<path d="M207.0,168.0 L211.0,168.0 L211.0,172.0 L207.0,172.0Z" fill="#48e6ea"/>
<path d="M218.7,167.5 L225.0,167.5 L225.0,170.0 L218.7,170.0Z" fill="#48e6ea"/>
<path d="M188.0,120.0 L190.5,120.0 L190.5,124.0 L188.0,124.0Z" fill="#48e6ea"/>
<path d="M198.0,100.0 L201.0,100.0 L201.0,104.0 L198.0,104.0Z" fill="#48e6ea"/>
<path d="M186.5,96.0 L188.0,96.0 L188.0,98.0 L186.5,98.0Z" fill="#48e6ea"/>
<path d="M199.0,75.0 L201.0,75.0 L201.0,79.0 L199.0,79.0Z" fill="#48e6ea"/>
<path d="M191.0,40.0 L192.5,40.0 L192.5,43.0 L191.0,43.0Z" fill="#48e6ea"/>
<path d="M189.0,49.0 L190.5,49.0 L190.5,51.0 L189.0,51.0Z" fill="#48e6ea"/>
<path d="M199.5,168.0 L204.5,168.0 L204.5,174.0 L199.5,174.0Z" fill="#8fb4b6"/>
<path d="M191.0,52.0 L206.0,52.0 L206.4,90.0 L206.0,128.0 L208.0,134.0 L206.0,146.0 L208.0,153.0 L209.0,165.0 L206.0,178.0 L192.0,178.0 L190.0,150.0 L190.5,100.0Z" fill="#48e6ea" filter="url(#spA)"/>
<path d="M198.0,79.0 L205.8,79.0 L206.0,100.0 L205.8,128.0 L207.5,134.0 L205.8,146.0 L207.5,153.0 L208.0,165.0 L201.0,165.0 L200.0,146.0 L199.5,128.0 L198.0,100.0Z" fill="#1a6600"/>
<path d="M202.6,133.0 L205.0,133.0 L205.0,135.5 L202.6,135.5Z" fill="#48e6ea"/>
<path d="M200.7,145.5 L203.2,145.5 L203.2,148.6 L200.7,148.6Z" fill="#48e6ea"/>
<path d="M202.0,90.5 L206.0,90.5 L206.0,94.0 L202.0,94.0Z" fill="#48e6ea"/>
<path d="M199.5,106.0 L201.5,106.0 L201.5,109.0 L199.5,109.0Z" fill="#48e6ea"/>
<path d="M203.0,117.0 L205.5,117.0 L205.5,119.5 L203.0,119.5Z" fill="#48e6ea"/>
<path d="M201.5,158.0 L203.5,158.0 L203.5,161.0 L201.5,161.0Z" fill="#48e6ea"/>
<g opacity="0.55">
<path d="M217.0,45.0 L217.6,60.5 L219.5,68.0 L222.0,73.0 L225.7,79.0 L230.7,85.5 L234.5,91.7 L239.5,99.0 L244.5,105.5 L249.5,110.5 L254.5,114.0 L261.0,117.0" fill="none" stroke="#8fb0b4" stroke-width="6" stroke-linecap="round" stroke-linejoin="round"/>
<path d="M220.7,85.5 L224.5,91.7 L229.5,98.0 L233.0,103.0 L238.0,108.0 L244.0,113.0 L250.0,117.0 L257.0,121.0" fill="none" stroke="#8fb0b4" stroke-width="6" stroke-linecap="round" stroke-linejoin="round"/>
<path d="M219.0,100.0 L222.0,108.0 L224.5,114.0 L230.0,116.5 L237.0,119.0 L243.0,122.5 L247.0,125.5" fill="none" stroke="#8fb0b4" stroke-width="7" stroke-linecap="round" stroke-linejoin="round"/>
<path d="M228.0,64.0 L231.0,72.0 L231.0,78.0" fill="none" stroke="#8fb0b4" stroke-width="5" stroke-linecap="round" stroke-linejoin="round"/>
</g>
<path d="M219.0,34.0 L224.0,34.0 L224.0,38.0 L219.0,38.0Z" fill="#1a6600"/>
<path d="M220.5,40.0 L225.5,40.0 L225.5,43.5 L220.5,43.5Z" fill="#1a6600"/>
<path d="M211.0,44.5 L213.5,44.5 L213.5,47.0 L211.0,47.0Z" fill="#1a6600"/>
<path d="M207.5,47.5 L210.0,47.5 L210.0,50.0 L207.5,50.0Z" fill="#1a6600"/>
<path d="M205.0,32.5 L207.5,32.5 L207.5,35.0 L205.0,35.0Z" fill="#1a6600"/>
<path d="M210.7,63.0 L215.7,63.0 L215.7,70.0 L210.7,70.0Z" fill="#1a6600"/>
<path d="M208.0,70.0 L222.0,70.0 L222.0,79.0 L208.0,79.0Z" fill="#1a6600"/>
<path d="M206.0,79.0 L212.0,79.0 L212.0,83.0 L206.0,83.0Z" fill="#1a6600"/>
<path d="M210.7,83.6 L215.0,83.6 L215.0,89.2 L210.7,89.2Z" fill="#1a6600"/>
<path d="M221.4,78.0 L225.7,78.0 L225.7,83.0 L221.4,83.0Z" fill="#1a6600"/>
<path d="M207.0,106.7 L209.5,106.7 L209.5,111.7 L207.0,111.7Z" fill="#1a6600"/>
<path d="M213.0,108.0 L217.6,108.0 L217.6,114.0 L213.0,114.0Z" fill="#1a6600"/>
<path d="M212.0,115.5 L222.0,115.5 L222.0,126.7 L212.0,126.7Z" fill="#1a6600"/>
<path d="M224.5,118.0 L233.0,118.0 L233.0,124.2 L224.5,124.2Z" fill="#1a6600"/>
<path d="M205.7,121.7 L210.7,121.7 L210.7,125.0 L205.7,125.0Z" fill="#1a6600"/>
<path d="M245.7,115.0 L250.0,115.0 L250.0,120.0 L245.7,120.0Z" fill="#1a6600"/>
<path d="M239.5,110.5 L242.0,110.5 L242.0,113.6 L239.5,113.6Z" fill="#1a6600"/>
<path d="M237.0,82.0 L242.0,82.0 L242.0,85.5 L237.0,85.5Z" fill="#1a6600"/>
<path d="M239.5,88.6 L242.0,88.6 L242.0,93.6 L239.5,93.6Z" fill="#1a6600"/>
<path d="M225.7,95.0 L228.2,95.0 L228.2,97.4 L225.7,97.4Z" fill="#1a6600"/>
<path d="M237.0,99.0 L239.5,99.0 L239.5,101.7 L237.0,101.7Z" fill="#1a6600"/>
<path d="M244.0,100.5 L247.0,100.5 L247.0,103.0 L244.0,103.0Z" fill="#1a6600"/>
<path d="M232.0,102.0 L235.7,102.0 L235.7,106.0 L232.0,106.0Z" fill="#1a6600"/>
<path d="M233.0,136.0 L238.0,136.0 L238.0,141.0 L233.0,141.0Z" fill="#1a6600"/>
<path d="M239.5,135.0 L243.0,135.0 L243.0,137.4 L239.5,137.4Z" fill="#1a6600"/>
<path d="M244.5,130.0 L248.0,130.0 L248.0,132.0 L244.5,132.0Z" fill="#1a6600"/>
<path d="M258.0,122.0 L265.0,122.0 L265.0,134.0 L258.0,134.0Z" fill="#1a6600"/>
<path d="M252.0,127.0 L255.0,127.0 L255.0,130.0 L252.0,130.0Z" fill="#1a6600"/>
<path d="M248.0,123.0 L250.5,123.0 L250.5,125.5 L248.0,125.5Z" fill="#1a6600"/>
<path d="M207.5,153.0 L214.4,153.0 L214.4,166.0 L207.5,166.0Z" fill="#1a6600"/>
<path d="M201.0,139.0 L204.0,139.0 L204.0,144.0 L201.0,144.0Z" fill="#1a6600"/>
<path d="M204.0,150.0 L207.0,150.0 L207.0,156.0 L204.0,156.0Z" fill="#1a6600"/>
<path d="M222.0,98.6 L225.0,97.5 L232.5,106.0 L230.7,109.0 L227.0,106.0 L223.0,101.5Z" fill="#1a6600"/>
<path d="M203.5,60.0 L218.0,60.0 L226.0,78.0 L240.0,100.0 L252.0,112.0 L262.0,122.0 L258.0,134.0 L240.0,135.0 L225.0,128.0 L206.0,130.0 L206.0,90.0Z" fill="#1a6600" filter="url(#spB)"/>
<path d="M236.4,31.0 L240.1,31.0 L240.1,50.5 L238.9,50.5 L238.9,36.0 L236.4,35.0Z" fill="#48e6ea"/>
<path d="M240.0,53.0 L243.2,53.0 L245.7,79.0 L248.0,85.0 L253.0,92.0 L257.0,100.0 L254.0,100.0 L249.4,90.0 L243.7,80.0 L242.0,79.0 L240.0,65.0Z" fill="#48e6ea"/>
<path d="M245.7,51.7 L247.6,51.7 L249.5,79.0 L251.0,86.0 L249.0,84.0 L247.6,79.0Z" fill="#48e6ea"/>
<path d="M216.4,31.0 L216.5,53.0 L217.6,60.5 L219.5,68.0 L222.0,73.0 L225.7,79.0 L230.7,85.5 L234.5,91.7 L239.5,99.0 L244.5,105.5 L249.5,110.5 L254.5,114.0 L261.0,117.0 L266.0,119.0" fill="none" stroke="#b47072" stroke-width="1.4" stroke-linecap="round" stroke-linejoin="round"/>
<path d="M226.4,60.5 L228.2,65.5 L230.7,70.5 L232.6,75.0 L231.5,78.0 L229.0,79.5" fill="none" stroke="#b47072" stroke-width="1.2" stroke-linecap="round" stroke-linejoin="round"/>
<path d="M220.7,85.5 L224.5,91.7 L229.5,98.0 L233.0,103.0 L238.0,108.0 L244.0,113.0 L250.0,117.0 L257.0,121.0 L262.0,124.0" fill="none" stroke="#b47072" stroke-width="1.2" stroke-linecap="round" stroke-linejoin="round"/>
<path d="M217.6,101.7 L220.0,101.0 L223.0,106.0 L224.5,114.0 L221.5,112.0 L218.5,107.0Z" fill="#ad8082"/>
<path d="M224.5,114.0 L230.0,116.5 L237.0,119.0 L243.0,122.5 L247.0,125.5 L252.0,129.0" fill="none" stroke="#b47072" stroke-width="1.5" stroke-linecap="round" stroke-linejoin="round"/>
<path d="M209.5,78.0 L208.3,82.0" fill="none" stroke="#b47072" stroke-width="1.1" stroke-linecap="round" stroke-linejoin="round"/>
<path d="M219.5,90.0 L219.0,97.0 L218.0,101.0" fill="none" stroke="#b47072" stroke-width="1.1" stroke-linecap="round" stroke-linejoin="round"/>
<path d="M215.5,133.0 L217.5,142.0 L219.5,150.0" fill="none" stroke="#b89c9e" stroke-width="1.6" stroke-linecap="round" stroke-linejoin="round"/>
<path d="M299.0,133.5 L305.0,133.5 L305.0,135.2 L299.0,135.2Z" fill="#48e6ea"/>
<path d="M297.0,144.0 L306.0,144.0 L306.0,145.5 L297.0,145.5Z" fill="#48e6ea"/>
<path d="M301.0,137.0 L303.0,137.0 L303.0,138.5 L301.0,138.5Z" fill="#48e6ea"/>
<path d="M309.0,137.0 L312.0,137.0 L312.0,138.5 L309.0,138.5Z" fill="#48e6ea"/>
<path d="M308.0,149.0 L313.0,149.0 L313.0,150.3 L308.0,150.3Z" fill="#48e6ea"/>
<path d="M312.0,144.0 L314.0,144.0 L314.0,146.0 L312.0,146.0Z" fill="#48e6ea"/>
<path d="M222.5,159.5 L224.6,153.3 L227.6,149.4 L232.5,144.6 L238.4,141.2 L244.0,137.8 L250.2,136.4 L262.5,135.2 L268.5,135.3 L275.0,139.6" fill="none" stroke="#2a9cff" stroke-width="1.6" stroke-linecap="round" stroke-linejoin="round"/>
<path d="M170.0,240.5 L190.0,242.0 L216.0,244.6" fill="none" stroke="#0048ff" stroke-width="1" stroke-linecap="round" stroke-linejoin="round"/>
<path d="M216.0,243.9 L238.0,244.6 L256.0,245.4 L270.0,247.5 L271.2,251.2 L277.5,251.2 L282.5,247.5 L286.0,242.5 L288.7,235.0 L290.6,227.5 L291.9,225.0 L295.0,226.2 L301.2,225.2 L307.5,226.9 L308.3,230.6 L313.0,233.6 L312.0,236.5 L318.0,242.0 L321.5,244.2 L324.0,242.5 L325.2,244.8 L328.0,248.0 L328.8,253.0 L328.8,255.0 L333.7,260.6 L341.2,270.6 L343.7,276.0 L342.5,285.0 L340.0,296.0 L338.7,300.0 L337.5,309.0 L327.0,309.0 L325.6,305.0 L322.0,308.7 L323.7,320.0 L327.0,332.5 L328.0,346.0 L328.7,352.5 L333.7,365.0 L337.8,378.0 L291.5,378.0 L287.5,365.0 L284.4,352.5 L280.6,340.0 L278.7,335.0 L275.0,322.5 L273.0,310.0 L272.5,306.2 L270.0,297.5 L266.9,290.0 L265.6,281.2 L263.7,272.5 L261.2,267.5 L259.4,265.0 L257.5,258.7 L256.2,252.5 L252.5,249.4 L238.7,247.5 L216.0,246.5Z" fill="#1a6600"/>
<path d="M277.5,262.5 L280.0,256.2 L285.0,252.5 L290.0,251.2 L298.7,249.4 L305.0,250.0 L311.2,256.2 L316.2,260.0 L320.0,262.0 L326.0,259.5 L333.0,261.5 L341.0,271.0 L343.7,276.0 L340.0,277.0 L333.7,278.7 L328.7,273.7 L325.0,270.0 L318.7,270.6 L312.5,272.5 L310.0,277.0 L305.0,280.0 L297.5,282.5 L292.5,287.5 L290.6,296.2 L288.7,301.2 L292.5,306.2 L293.0,315.0 L295.6,328.7 L298.7,347.5 L302.5,361.0 L304.6,378.0 L300.4,378.0 L297.5,361.0 L294.4,347.5 L290.0,328.7 L286.2,315.0 L285.0,301.2 L281.2,295.0 L278.7,287.5 L275.0,277.5 L273.7,268.7Z" fill="#48e6ea"/>
<defs><radialGradient id="fan2" gradientUnits="userSpaceOnUse" cx="300" cy="258" r="15"><stop offset="0" stop-color="#a0a8ac"/><stop offset="0.5" stop-color="#86c0c4"/><stop offset="1" stop-color="#55d4d4" stop-opacity="0"/></radialGradient></defs>
<path d="M285.0,252.5 L290.0,251.2 L298.7,249.4 L305.0,250.0 L311.2,256.2 L316.2,260.0 L320.0,262.0 L318.7,270.6 L312.5,272.5 L310.0,277.0 L297.0,280.0 L285.0,275.0Z" fill="url(#fan2)"/>
<path d="M285.0,301.2 L288.7,301.2 L292.5,306.2 L293.0,315.0 L295.6,328.7 L298.7,347.5 L302.5,361.0 L304.6,378.0 L300.4,378.0 L297.5,361.0 L294.4,347.5 L290.0,328.7 L286.2,315.0Z" fill="#84d2d8"/>
<path d="M272.0,251.0 L296.0,249.5 L301.0,262.0 L292.0,272.0 L281.0,277.0 L274.0,270.0Z" fill="#1a6600" filter="url(#spC)"/>
<path d="M296.0,249.5 L312.0,256.0 L322.0,264.0 L316.0,272.0 L300.0,282.0 L281.0,277.0 L292.0,272.0 L301.0,262.0Z" fill="#1a6600" filter="url(#spD)"/>
<path d="M333.7,260.8 L341.2,270.6 L343.8,276.0" fill="none" stroke="#1a6600" stroke-width="2.4" stroke-linecap="round" stroke-linejoin="round"/>
<path d="M270.0,252.0 L286.0,250.0 L280.0,268.0 L272.0,268.0Z" fill="#48e6ea" filter="url(#spB)"/>
<path d="M297.0,231.2 L308.0,231.0 L319.0,242.7 L320.5,245.0 L317.0,248.5 L307.5,241.2Z" fill="#00c4ff"/>
<path d="M313.5,256.0 L315.5,251.0 L318.0,248.0 L321.0,245.5 L324.0,244.0 L327.0,244.5 L329.5,248.0 L330.0,254.0 L327.5,259.0 L322.0,262.0 L316.5,261.0Z" fill="#1a6600"/>
<path d="M299.4,247.0 L299.8,241.0 L301.0,238.0 L302.5,241.0 L302.5,247.0Z" fill="#48e6ea"/>
<path d="M322.5,287.5 L325.0,283.7 L333.7,281.2 L336.2,280.6 L335.6,283.0 L328.7,287.5 L325.0,289.4Z" fill="#48e6ea"/>
<path d="M317.0,294.4 L312.5,297.5 L310.0,302.5 L308.0,310.0 L306.0,322.5 L307.0,335.0 L308.0,347.5 L309.0,360.0 L310.0,378.0 L317.0,378.0 L317.5,360.0 L315.0,347.5 L312.0,335.0 L309.6,322.5 L310.6,310.0 L312.7,303.0 L315.0,299.0 L318.5,296.5Z" fill="#48e6ea"/>
<path d="M328.7,294.0 L338.7,294.0 L337.5,309.0 L327.0,309.0 L325.6,305.0 L327.0,299.0Z" fill="#48e6ea"/>
<path d="M311.5,347.0 L314.5,352.0 L319.0,376.0 L320.0,378.0 L311.5,378.0 L311.0,360.0Z" fill="#1a6600"/>
<path d="M315.0,352.5 L317.0,352.5 L322.5,376.0 L320.5,376.0Z" fill="#48e6ea"/>
<path d="M328.7,255.4 L346.2,264.4" fill="none" stroke="#1a6600" stroke-width="1.6" stroke-linecap="round" stroke-linejoin="round"/>
<path d="M317.5,263.0 L323.0,268.7" fill="none" stroke="#1a6600" stroke-width="1.2" stroke-linecap="round" stroke-linejoin="round"/>
<path d="M326.0,263.0 L330.6,263.0" fill="none" stroke="#1a6600" stroke-width="1" stroke-linecap="round" stroke-linejoin="round"/>
<path d="M261.0,267.0 L263.3,272.5 L265.0,281.0 L266.3,290.0 L269.0,297.5 L271.5,306.0" fill="none" stroke="#0088ff" stroke-width="2" stroke-linecap="round" stroke-linejoin="round"/>
<path d="M280.0,340.0 L283.5,352.5 L286.7,365.0 L290.5,378.0" fill="none" stroke="#00a0ff" stroke-width="2" stroke-linecap="round" stroke-linejoin="round"/>
<path d="M324.4,312.5 L328.7,312.5 L328.7,315.6 L324.4,315.6Z" fill="#1a6600"/>
<path d="M336.0,323.0 L339.4,323.0 L339.4,326.0 L336.0,326.0Z" fill="#1a6600"/>
<path d="M342.0,324.4 L347.0,324.4 L347.0,329.4 L342.0,329.4Z" fill="#1a6600"/>
<path d="M338.7,332.0 L341.2,332.0 L341.2,335.0 L338.7,335.0Z" fill="#1a6600"/>
<path d="M345.0,332.0 L347.0,332.0 L347.0,335.6 L345.0,335.6Z" fill="#1a6600"/>
<path d="M331.0,346.0 L333.0,346.0 L333.0,348.7 L331.0,348.7Z" fill="#1a6600"/>
<path d="M507.0,29.0 L515.0,33.7 L521.0,35.0 L527.5,37.0 L540.0,36.8 L546.0,35.0 L550.0,33.7 L555.0,31.0 L558.0,29.0Z" fill="#1a6600"/>
<path d="M558.0,196.0 L550.0,198.7 L545.0,201.5 L540.0,205.0 L535.0,209.0 L530.0,213.7 L528.7,215.0 L525.0,220.0 L522.0,225.0 L520.0,230.0 L519.7,240.0 L518.0,245.0 L518.7,247.5 L521.2,252.5 L522.5,258.0 L521.0,261.0 L511.2,264.5 L510.0,261.2 L508.0,257.5 L505.0,253.7 L500.0,250.6 L495.0,250.0 L491.2,252.0 L485.0,254.5 L478.7,257.5 L472.5,258.7 L468.0,260.0 L461.9,263.0 L460.0,264.4 L453.7,265.0 L449.4,265.6 L445.0,268.0 L438.7,272.0 L435.0,274.4 L430.0,278.0 L425.0,283.7 L422.5,292.5 L420.6,301.0 L418.7,311.0 L417.5,321.0 L415.0,329.0 L410.0,344.5 L403.7,357.0 L391.2,364.5 L398.7,368.2 L412.5,369.0 L422.5,365.7 L432.5,357.0 L440.0,349.5 L447.5,343.2 L453.7,338.2 L457.5,335.0 L461.2,335.7 L466.2,340.7 L475.0,345.7 L482.5,344.5 L491.2,339.0 L483.0,346.5 L475.0,348.0 L466.0,343.5 L461.0,341.0 L458.0,342.0 L456.0,352.0 L450.0,359.5 L442.0,364.0 L437.5,367.0 L439.0,378.0 L558.0,378.0Z" fill="#1a6600"/>
<defs><radialGradient id="hill" gradientUnits="userSpaceOnUse" cx="545" cy="352" r="100"><stop offset="0" stop-color="#287600"/><stop offset="0.5" stop-color="#226e00"/><stop offset="1" stop-color="#1a6600" stop-opacity="0"/></radialGradient></defs>
<path d="M456.0,352.0 L458.0,342.0 L461.0,341.0 L466.0,343.5 L475.0,348.0 L483.0,346.5 L491.2,339.0 L470.0,300.0 L500.0,262.0 L558.0,250.0 L558.0,378.0 L439.0,378.0 L437.5,367.0 L442.0,364.0 L450.0,359.5Z" fill="url(#hill)"/>
<path d="M361.0,378.0 L362.0,372.0 L364.0,368.0 L372.5,366.0 L378.0,367.0 L382.5,369.0 L377.5,373.0 L375.0,378.0Z" fill="#1a6600"/>
<path d="M469.0,236.0 L470.5,232.5 L474.5,229.0 L478.5,225.2 L481.5,222.8 L484.0,223.3 L483.8,227.0 L480.5,231.0 L476.5,234.2 L472.0,236.8Z" fill="#1a6600"/>
<path d="M394.5,224.0 L397.0,222.5 L399.5,224.0 L400.0,230.0 L399.0,236.0 L396.5,237.5 L394.0,235.0 L393.7,229.0Z" fill="#1a6600"/>
<path d="M500.6,232.5 L503.0,228.7 L511.2,227.5 L515.6,232.5 L516.2,240.0 L515.0,246.2 L511.2,245.0 L508.7,240.0 L503.7,237.5Z" fill="#34e6ec"/>
<path d="M501.2,226.0 L503.0,225.0 L508.0,225.0 L508.0,229.0 L504.0,230.6 L501.2,230.0Z" fill="#1a6600"/>
<path d="M511.0,238.7 L513.0,239.5 L514.4,245.6 L512.5,245.6Z" fill="#1a6600"/>
<path d="M461.9,264.3 L469.4,262.8 L471.9,269.4 L463.7,271.2 L458.7,277.5 L457.5,285.0 L453.0,286.0 L450.0,280.0 L445.0,283.0 L441.0,286.0 L437.0,282.0 L432.0,285.5 L432.5,295.0 L428.0,295.0 L428.3,288.0 L431.5,283.5 L436.0,280.0 L440.5,277.2 L445.5,275.5 L449.5,272.5 L451.5,268.8 L455.0,267.5Z" fill="#48e6ea"/>
<path d="M450.0,286.0 L455.0,290.0 L460.0,292.0 L460.0,297.0 L456.0,297.0 L453.7,292.5 L450.0,290.0Z" fill="#48e6ea"/>
<path d="M438.0,297.0 L441.0,297.0 L441.0,300.6 L438.0,300.6Z" fill="#48e6ea"/>
<path d="M420.6,312.5 L423.0,312.5 L423.0,314.0 L420.6,314.0Z" fill="#48e6ea"/>
<path d="M420.6,316.0 L423.0,316.0 L423.0,317.5 L420.6,317.5Z" fill="#48e6ea"/>
<path d="M440.0,277.5 L443.0,277.5 L443.0,280.5 L440.0,280.5Z" fill="#1a6600"/>
<path d="M446.0,274.0 L449.0,274.0 L449.0,277.0 L446.0,277.0Z" fill="#1a6600"/>
<path d="M452.0,270.0 L455.0,270.0 L455.0,273.5 L452.0,273.5Z" fill="#1a6600"/>
<path d="M444.0,279.0 L447.0,279.0 L447.0,281.5 L444.0,281.5Z" fill="#1a6600"/>
<path d="M433.0,280.5 L436.5,280.5 L436.5,283.5 L433.0,283.5Z" fill="#1a6600"/>
<path d="M528.0,248.0 L542.5,248.7 L547.5,252.5 L550.6,257.5 L550.0,261.2 L540.0,262.5 L530.0,262.0 L522.5,258.0 L525.0,252.5Z" fill="#48e6ea"/>
<path d="M542.0,254.0 L547.0,254.0 L547.0,259.5 L542.0,259.5Z" fill="#1a6600"/>
<path d="M551.0,245.0 L556.5,245.0 L556.5,250.0 L551.0,250.0Z" fill="#48e6ea"/>
<path d="M506.5,255.0 L514.5,255.0 L514.5,261.0 L522.0,261.0 L522.0,264.4 L511.5,264.4Z" fill="#48e6ea"/>
<path d="M527.5,265.6 L532.5,263.0 L539.4,264.4 L540.0,272.5 L538.7,282.0 L535.0,280.0 L531.2,272.5Z" fill="#48e6ea"/>
<path d="M540.5,261.0 L545.0,261.0 L545.0,275.0 L543.5,289.0 L541.0,289.0Z" fill="#48e6ea"/>
<path d="M548.0,267.0 L551.8,265.0 L554.4,271.0 L555.6,290.0 L551.2,292.0 L546.2,288.7 L545.5,280.0 L547.5,273.7Z" fill="#48e6ea"/>
<path d="M547.0,272.0 L550.0,272.0 L550.0,279.0 L547.0,279.0Z" fill="#1a6600"/>
<path d="M549.0,284.0 L551.5,284.0 L551.5,288.0 L549.0,288.0Z" fill="#1a6600"/>
<path d="M533.0,263.0 L535.0,263.0 L535.0,268.0 L533.0,268.0Z" fill="#1a6600"/>
</g>
<rect x="60.4" y="30.5" width="496.4" height="346.5" fill="none" stroke="#000" stroke-width="1.1"/>
<path d="M55.4,39.4H60.4" stroke="#000" stroke-width="1.1"/>
<text x="49.9" y="44.5" font-size="14.1" text-anchor="end" textLength="38.4" lengthAdjust="spacingAndGlyphs">46.98</text>
<path d="M55.4,95.2H60.4" stroke="#000" stroke-width="1.1"/>
<text x="49.9" y="100.3" font-size="14.1" text-anchor="end" textLength="38.4" lengthAdjust="spacingAndGlyphs">46.96</text>
<path d="M55.4,151.1H60.4" stroke="#000" stroke-width="1.1"/>
<text x="49.9" y="156.2" font-size="14.1" text-anchor="end" textLength="38.4" lengthAdjust="spacingAndGlyphs">46.94</text>
<path d="M55.4,206.9H60.4" stroke="#000" stroke-width="1.1"/>
<text x="49.9" y="212.0" font-size="14.1" text-anchor="end" textLength="38.4" lengthAdjust="spacingAndGlyphs">46.92</text>
<path d="M55.4,262.8H60.4" stroke="#000" stroke-width="1.1"/>
<text x="49.9" y="267.9" font-size="14.1" text-anchor="end" textLength="38.4" lengthAdjust="spacingAndGlyphs">46.90</text>
<path d="M55.4,318.6H60.4" stroke="#000" stroke-width="1.1"/>
<text x="49.9" y="323.7" font-size="14.1" text-anchor="end" textLength="38.4" lengthAdjust="spacingAndGlyphs">46.88</text>
<path d="M55.4,374.5H60.4" stroke="#000" stroke-width="1.1"/>
<text x="49.9" y="379.6" font-size="14.1" text-anchor="end" textLength="38.4" lengthAdjust="spacingAndGlyphs">46.86</text>
<path d="M136.3,377.0V382.0" stroke="#000" stroke-width="1.1"/>
<text x="136.3" y="398.4" font-size="14.1" text-anchor="middle" textLength="58.4" lengthAdjust="spacingAndGlyphs">−124.20</text>
<path d="M231.6,377.0V382.0" stroke="#000" stroke-width="1.1"/>
<text x="231.6" y="398.4" font-size="14.1" text-anchor="middle" textLength="58.4" lengthAdjust="spacingAndGlyphs">−124.15</text>
<path d="M326.9,377.0V382.0" stroke="#000" stroke-width="1.1"/>
<text x="326.9" y="398.4" font-size="14.1" text-anchor="middle" textLength="58.4" lengthAdjust="spacingAndGlyphs">−124.10</text>
<path d="M422.2,377.0V382.0" stroke="#000" stroke-width="1.1"/>
<text x="422.2" y="398.4" font-size="14.1" text-anchor="middle" textLength="58.4" lengthAdjust="spacingAndGlyphs">−124.05</text>
<path d="M517.5,377.0V382.0" stroke="#000" stroke-width="1.1"/>
<text x="517.5" y="398.4" font-size="14.1" text-anchor="middle" textLength="58.4" lengthAdjust="spacingAndGlyphs">−124.00</text>
<text x="308.3" y="21.8" font-size="16.9" text-anchor="middle" textLength="208" lengthAdjust="spacingAndGlyphs">7:00:00 after earthquake</text>
<rect x="587.5" y="15.5" width="18.1" height="378.1" fill="url(#cb)" stroke="#000" stroke-width="1.1"/>
<path d="M605.6,15.5H610.6" stroke="#000" stroke-width="1.1"/>
<text x="616.5" y="20.6" font-size="14.1" textLength="7.9" lengthAdjust="spacingAndGlyphs">4</text>
<path d="M605.6,62.8H610.6" stroke="#000" stroke-width="1.1"/>
<text x="616.5" y="67.9" font-size="14.1" textLength="7.9" lengthAdjust="spacingAndGlyphs">3</text>
<path d="M605.6,110.0H610.6" stroke="#000" stroke-width="1.1"/>
<text x="616.5" y="115.1" font-size="14.1" textLength="7.9" lengthAdjust="spacingAndGlyphs">2</text>
<path d="M605.6,157.3H610.6" stroke="#000" stroke-width="1.1"/>
<text x="616.5" y="162.4" font-size="14.1" textLength="7.9" lengthAdjust="spacingAndGlyphs">1</text>
<path d="M605.6,204.6H610.6" stroke="#000" stroke-width="1.1"/>
<text x="616.5" y="209.7" font-size="14.1" textLength="7.9" lengthAdjust="spacingAndGlyphs">0</text>
<path d="M605.6,251.8H610.6" stroke="#000" stroke-width="1.1"/>
<text x="616.5" y="256.9" font-size="14.1" textLength="19.6" lengthAdjust="spacingAndGlyphs">−1</text>
<path d="M605.6,299.1H610.6" stroke="#000" stroke-width="1.1"/>
<text x="616.5" y="304.2" font-size="14.1" textLength="19.6" lengthAdjust="spacingAndGlyphs">−2</text>
<path d="M605.6,346.3H610.6" stroke="#000" stroke-width="1.1"/>
<text x="616.5" y="351.4" font-size="14.1" textLength="19.6" lengthAdjust="spacingAndGlyphs">−3</text>
<path d="M605.6,393.6H610.6" stroke="#000" stroke-width="1.1"/>
<text x="616.5" y="398.7" font-size="14.1" textLength="19.6" lengthAdjust="spacingAndGlyphs">−4</text>
<text transform="translate(651.8,207) rotate(-90)" font-size="14.1" text-anchor="middle" textLength="48" lengthAdjust="spacingAndGlyphs">meters</text>
</svg></body></html>
